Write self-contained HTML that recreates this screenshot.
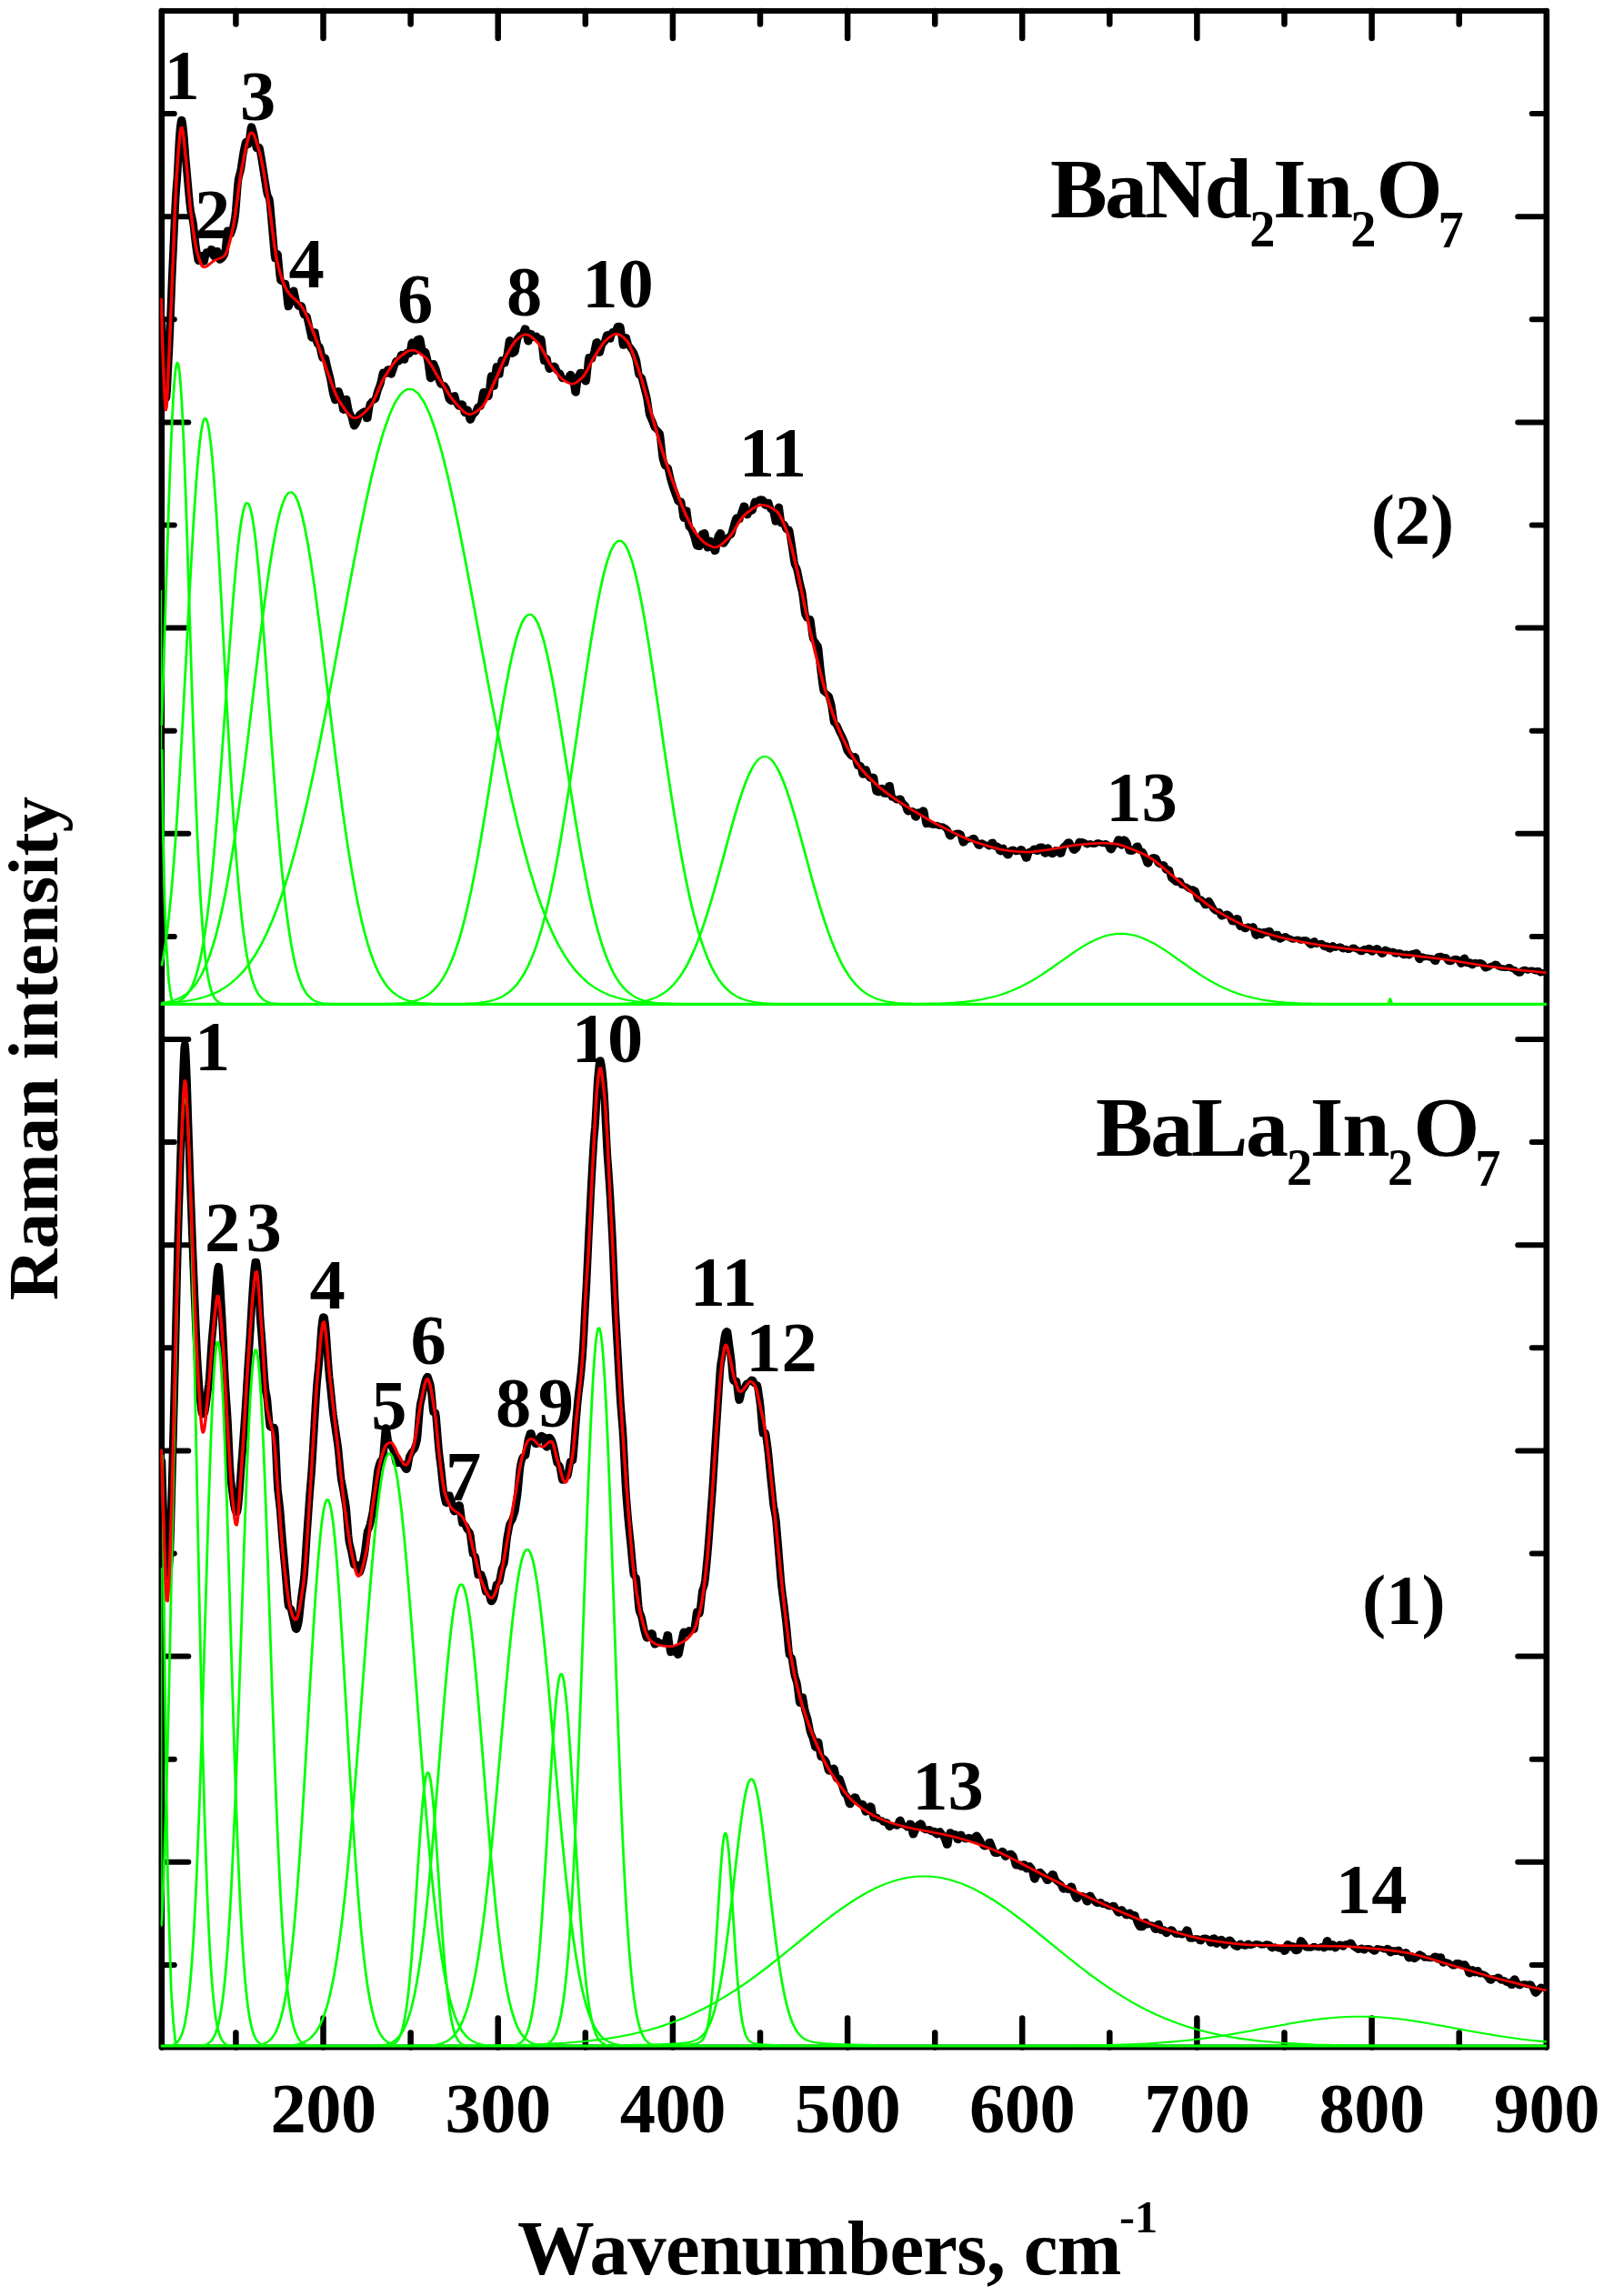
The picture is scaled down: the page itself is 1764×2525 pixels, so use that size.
<!DOCTYPE html>
<html lang="en"><head><meta charset="utf-8"><title>Raman spectra</title>
<style>html,body{margin:0;padding:0;background:#fff;overflow:hidden}svg{display:block}</style></head>
<body>
<svg width="1764" height="2525" viewBox="0 0 1764 2525">
<rect width="1764" height="2525" fill="#fff"/>
<defs><clipPath id="cp"><rect x="176.2" y="12.0" width="1526.2" height="2241.6"/></clipPath></defs>
<g stroke="#000" fill="none" stroke-linecap="round">
<path stroke-width="6" d="M177.8,12.0 H1700.8 M177.8,2251.6 H1700.8"/>
<path stroke-width="6.6" d="M177.8,12.0 V2251.6 M1700.8,12.0 V2251.6"/>
<path stroke-width="6.5" d="M259.4,12.0 V26.5 M259.4,2251.6 V2235.6 M355.5,12.0 V42.0 M355.5,2251.6 V2219.6 M451.6,12.0 V26.5 M451.6,2251.6 V2235.6 M547.7,12.0 V42.0 M547.7,2251.6 V2219.6 M643.8,12.0 V26.5 M643.8,2251.6 V2235.6 M739.9,12.0 V42.0 M739.9,2251.6 V2219.6 M836.0,12.0 V26.5 M836.0,2251.6 V2235.6 M932.1,12.0 V42.0 M932.1,2251.6 V2219.6 M1028.2,12.0 V26.5 M1028.2,2251.6 V2235.6 M1124.2,12.0 V42.0 M1124.2,2251.6 V2219.6 M1220.3,12.0 V26.5 M1220.3,2251.6 V2235.6 M1316.4,12.0 V42.0 M1316.4,2251.6 V2219.6 M1412.5,12.0 V26.5 M1412.5,2251.6 V2235.6 M1508.6,12.0 V42.0 M1508.6,2251.6 V2219.6 M1604.7,12.0 V26.5 M1604.7,2251.6 V2235.6"/>
<path stroke-width="6" d="M177.8,125.1 H191.8 M1700.8,125.1 H1684.7 M177.8,238.2 H207.3 M1700.8,238.2 H1669.2 M177.8,351.3 H191.8 M1700.8,351.3 H1684.7 M177.8,464.4 H207.3 M1700.8,464.4 H1669.2 M177.8,577.5 H191.8 M1700.8,577.5 H1684.7 M177.8,690.6 H207.3 M1700.8,690.6 H1669.2 M177.8,803.7 H191.8 M1700.8,803.7 H1684.7 M177.8,916.8 H207.3 M1700.8,916.8 H1669.2 M177.8,1029.9 H191.8 M1700.8,1029.9 H1684.7 M177.8,1143.0 H207.3 M1700.8,1143.0 H1669.2 M177.8,1256.1 H191.8 M1700.8,1256.1 H1684.7 M177.8,1369.2 H207.3 M1700.8,1369.2 H1669.2 M177.8,1482.3 H191.8 M1700.8,1482.3 H1684.7 M177.8,1595.4 H207.3 M1700.8,1595.4 H1669.2 M177.8,1708.5 H191.8 M1700.8,1708.5 H1684.7 M177.8,1821.6 H207.3 M1700.8,1821.6 H1669.2 M177.8,1934.7 H191.8 M1700.8,1934.7 H1684.7 M177.8,2047.8 H207.3 M1700.8,2047.8 H1669.2 M177.8,2160.9 H191.8 M1700.8,2160.9 H1684.7"/>
</g>
<g clip-path="url(#cp)"><path transform="scale(1.33,1)" d="M133.83,355.7 L134.38,376.3 L134.92,393.5 L135.47,408.7 L136.02,423.4 L136.56,434.6 L137.11,439.1 L137.65,436.9 L138.20,427.2 L138.74,413.2 L139.29,398.4 L139.83,384.6 L140.38,368.8 L140.92,350.8 L141.47,331.7 L142.01,312.3 L142.56,294.8 L143.10,279.7 L143.65,263.5 L144.19,247.0 L144.74,231.4 L145.28,217.7 L145.83,206.4 L146.37,198.4 L146.92,186.5 L147.46,170.4 L148.01,156.7 L148.55,146.0 L149.10,138.6 L149.64,133.4 L150.19,131.0 L150.73,133.5 L151.28,138.6 L151.82,145.4 L152.37,153.8 L152.91,163.7 L153.46,173.5 L154.00,181.7 L154.55,189.4 L155.09,197.4 L155.64,205.7 L156.18,213.9 L156.73,221.6 L157.27,228.4 L157.82,233.3 L158.36,236.6 L158.91,239.8 L159.45,242.8 L160.00,247.4 L160.55,254.3 L161.09,260.9 L161.64,267.2 L162.18,272.9 L162.73,277.9 L163.27,282.5 L163.82,286.6 L164.36,287.8 L164.91,285.5 L165.45,283.0 L166.00,280.4 L166.54,280.2 L167.09,283.4 L167.63,286.3 L168.18,288.7 L168.72,288.5 L169.27,285.2 L169.81,281.8 L170.36,278.3 L170.90,276.6 L171.45,277.5 L171.99,278.3 L172.54,279.1 L173.08,278.8 L173.63,277.0 L174.17,275.2 L174.72,273.3 L175.26,273.5 L175.81,276.5 L176.35,279.5 L176.90,282.6 L177.44,283.3 L177.99,280.7 L178.53,278.0 L179.08,275.5 L179.62,275.3 L180.17,278.4 L180.71,281.6 L181.26,284.8 L181.80,286.4 L182.35,285.9 L182.89,285.3 L183.44,284.7 L183.98,283.9 L184.53,282.6 L185.08,281.4 L185.62,280.0 L186.17,276.5 L186.71,270.1 L187.26,263.3 L187.80,256.1 L188.35,252.7 L188.89,254.7 L189.44,256.5 L189.98,258.2 L190.53,258.3 L191.07,256.4 L191.62,254.4 L192.16,252.3 L192.71,250.0 L193.25,246.6 L193.80,242.7 L194.34,238.3 L194.89,231.9 L195.43,222.7 L195.98,213.4 L196.52,203.9 L197.07,197.1 L197.61,194.0 L198.16,191.2 L198.70,188.8 L199.25,185.2 L199.79,180.1 L200.34,175.4 L200.88,170.5 L201.43,166.3 L201.97,162.9 L202.52,159.6 L203.06,156.4 L203.61,155.1 L204.15,156.3 L204.70,157.8 L205.24,159.6 L205.79,158.1 L206.33,151.8 L206.88,146.0 L207.42,140.7 L207.97,138.6 L208.52,140.8 L209.06,143.3 L209.61,146.2 L210.15,149.6 L210.70,153.5 L211.24,157.6 L211.79,161.9 L212.33,164.0 L212.88,162.9 L213.42,161.9 L213.97,161.0 L214.51,162.0 L215.06,165.6 L215.60,169.6 L216.15,173.9 L216.69,178.3 L217.24,182.7 L217.78,187.3 L218.33,192.1 L218.87,196.8 L219.42,201.2 L219.96,205.8 L220.51,210.3 L221.05,213.7 L221.60,215.4 L222.14,217.0 L222.69,218.6 L223.23,223.0 L223.78,231.1 L224.32,239.5 L224.87,247.9 L225.41,256.4 L225.96,264.7 L226.50,273.0 L227.05,281.1 L227.59,285.0 L228.14,283.1 L228.68,280.9 L229.23,278.2 L229.77,279.8 L230.32,288.0 L230.86,296.0 L231.41,303.8 L231.95,308.7 L232.50,309.4 L233.05,310.0 L233.59,310.5 L234.14,310.8 L234.68,311.0 L235.23,311.0 L235.77,311.0 L236.32,313.9 L236.86,321.0 L237.41,327.9 L237.95,334.8 L238.50,338.1 L239.04,336.4 L239.59,334.6 L240.13,332.7 L240.68,330.1 L241.22,326.6 L241.77,323.1 L242.31,319.5 L242.86,318.8 L243.40,322.2 L243.95,325.6 L244.49,329.0 L245.04,331.7 L245.58,333.4 L246.13,335.2 L246.67,337.0 L247.22,337.7 L247.76,336.9 L248.31,336.1 L248.85,335.4 L249.40,336.2 L249.94,339.1 L250.49,342.2 L251.03,345.3 L251.58,347.1 L252.12,346.9 L252.67,346.8 L253.21,346.7 L253.76,348.0 L254.30,351.2 L254.85,354.5 L255.39,357.8 L255.94,361.2 L256.48,364.6 L257.03,368.0 L257.58,371.5 L258.12,372.4 L258.67,369.8 L259.21,367.1 L259.76,364.5 L260.30,364.5 L260.85,368.3 L261.39,372.1 L261.94,376.0 L262.48,378.6 L263.03,379.3 L263.57,380.0 L264.12,380.8 L264.66,382.6 L265.21,386.0 L265.75,389.4 L266.30,392.8 L266.84,394.5 L267.39,393.9 L267.93,393.3 L268.48,392.6 L269.02,393.6 L269.57,396.8 L270.11,400.0 L270.66,403.2 L271.20,406.2 L271.75,409.0 L272.29,411.8 L272.84,414.6 L273.38,418.0 L273.93,422.2 L274.47,426.4 L275.02,430.6 L275.56,434.0 L276.11,436.3 L276.65,438.7 L277.20,440.9 L277.74,440.8 L278.29,437.4 L278.83,434.0 L279.38,430.5 L279.92,429.4 L280.47,431.7 L281.02,433.9 L281.56,436.1 L282.11,439.0 L282.65,443.0 L283.20,447.0 L283.74,451.0 L284.29,451.6 L284.83,447.4 L285.38,443.2 L285.92,438.9 L286.47,438.1 L287.01,442.1 L287.56,446.0 L288.10,449.9 L288.65,452.8 L289.19,454.2 L289.74,455.6 L290.28,456.9 L290.83,458.9 L291.37,462.0 L291.92,465.0 L292.46,467.9 L293.01,469.2 L293.55,468.1 L294.10,466.9 L294.64,465.6 L295.19,463.9 L295.73,461.7 L296.28,459.3 L296.82,457.0 L297.37,455.3 L297.91,454.8 L298.46,454.2 L299.00,453.5 L299.55,453.0 L300.09,452.6 L300.64,452.1 L301.18,451.7 L301.73,452.5 L302.27,455.3 L302.82,458.1 L303.36,460.9 L303.91,460.6 L304.45,455.9 L305.00,451.2 L305.55,446.5 L306.09,443.5 L306.64,442.8 L307.18,442.0 L307.73,441.0 L308.27,440.4 L308.82,440.4 L309.36,440.2 L309.91,440.0 L310.45,438.8 L311.00,436.3 L311.54,433.6 L312.09,431.0 L312.63,428.7 L313.18,426.8 L313.72,425.0 L314.27,423.2 L314.81,420.7 L315.36,417.2 L315.90,413.8 L316.45,410.4 L316.99,408.8 L317.54,409.8 L318.08,410.8 L318.63,411.9 L319.17,411.7 L319.72,409.7 L320.26,407.6 L320.81,405.6 L321.35,405.3 L321.90,407.5 L322.44,409.7 L322.99,411.9 L323.53,412.4 L324.08,410.3 L324.62,408.2 L325.17,406.2 L325.71,404.0 L326.26,401.7 L326.80,399.4 L327.35,397.2 L327.89,396.1 L328.44,396.8 L328.98,397.5 L329.53,398.3 L330.08,397.7 L330.62,395.0 L331.17,392.3 L331.71,389.7 L332.26,389.1 L332.80,391.5 L333.35,393.8 L333.89,396.2 L334.44,396.4 L334.98,393.7 L335.53,391.1 L336.07,388.4 L336.62,387.2 L337.16,388.1 L337.71,389.0 L338.25,389.9 L338.80,388.8 L339.34,384.7 L339.89,380.6 L340.43,376.6 L340.98,375.7 L341.52,379.2 L342.07,382.7 L342.61,386.3 L343.16,386.8 L343.70,382.8 L344.25,378.9 L344.79,375.0 L345.34,372.6 L345.88,372.3 L346.43,372.0 L346.97,371.8 L347.52,373.4 L348.06,377.5 L348.61,381.7 L349.15,385.8 L349.70,388.0 L350.24,387.3 L350.79,386.6 L351.33,386.0 L351.88,386.8 L352.42,389.7 L352.97,392.8 L353.52,395.8 L354.06,399.9 L354.61,405.2 L355.15,410.5 L355.70,415.9 L356.24,416.9 L356.79,411.7 L357.33,406.6 L357.88,401.5 L358.42,399.2 L358.97,400.9 L359.51,402.5 L360.06,404.2 L360.60,406.4 L361.15,409.4 L361.69,412.3 L362.24,415.2 L362.78,417.6 L363.33,419.3 L363.87,421.0 L364.42,422.7 L364.96,423.6 L365.51,423.4 L366.05,423.2 L366.60,423.0 L367.14,423.4 L367.69,424.5 L368.23,425.7 L368.78,426.8 L369.32,428.7 L369.87,431.7 L370.41,434.7 L370.96,437.7 L371.50,439.7 L372.05,440.4 L372.59,441.1 L373.14,441.8 L373.68,441.3 L374.23,439.1 L374.77,436.9 L375.32,434.6 L375.86,434.4 L376.41,437.1 L376.95,439.8 L377.50,442.6 L378.05,444.6 L378.59,445.6 L379.14,446.7 L379.68,447.7 L380.23,447.8 L380.77,446.4 L381.32,445.0 L381.86,443.6 L382.41,444.1 L382.95,447.4 L383.50,450.6 L384.04,453.8 L384.59,454.9 L385.13,453.2 L385.68,451.4 L386.22,449.5 L386.77,450.0 L387.31,453.8 L387.86,457.5 L388.40,461.2 L388.95,462.6 L389.49,461.0 L390.04,459.3 L390.58,457.5 L391.13,456.2 L391.67,455.7 L392.22,455.1 L392.76,454.5 L393.31,453.3 L393.85,451.5 L394.40,449.6 L394.94,447.7 L395.49,446.7 L396.03,447.0 L396.58,447.4 L397.12,447.7 L397.67,446.0 L398.21,441.6 L398.76,437.2 L399.30,432.6 L399.85,430.2 L400.39,430.8 L400.94,431.3 L401.48,431.8 L402.03,432.6 L402.58,434.1 L403.12,435.6 L403.67,437.0 L404.21,435.0 L404.76,428.3 L405.30,421.6 L405.85,414.8 L406.39,412.6 L406.94,416.9 L407.48,421.3 L408.03,425.7 L408.57,425.5 L409.12,418.6 L409.66,411.8 L410.21,404.9 L410.75,402.2 L411.30,405.7 L411.84,409.1 L412.39,412.5 L412.93,412.5 L413.48,407.5 L414.02,402.5 L414.57,397.5 L415.11,395.3 L415.66,397.0 L416.20,398.7 L416.75,400.5 L417.29,400.4 L417.84,397.6 L418.38,394.9 L418.93,392.2 L419.47,388.6 L420.02,383.9 L420.56,379.1 L421.11,374.3 L421.65,373.4 L422.20,378.0 L422.74,382.6 L423.29,387.3 L423.83,389.7 L424.38,389.1 L424.92,388.5 L425.47,387.9 L426.02,386.0 L426.56,382.0 L427.11,378.2 L427.65,374.4 L428.20,371.7 L428.74,370.7 L429.29,369.7 L429.83,368.7 L430.38,368.0 L430.92,367.7 L431.47,367.5 L432.01,367.3 L432.56,366.4 L433.10,364.4 L433.65,362.5 L434.19,360.6 L434.74,361.4 L435.28,365.8 L435.83,370.3 L436.37,374.9 L436.92,376.3 L437.46,373.2 L438.01,370.2 L438.55,367.2 L439.10,366.1 L439.64,367.7 L440.19,369.3 L440.73,371.0 L441.28,371.6 L441.82,370.7 L442.37,369.8 L442.91,368.9 L443.46,368.8 L444.00,369.9 L444.55,370.9 L445.09,372.1 L445.64,372.7 L446.18,372.4 L446.73,372.2 L447.27,372.0 L447.82,374.7 L448.36,381.3 L448.91,387.9 L449.45,394.5 L450.00,397.8 L450.55,396.3 L451.09,394.8 L451.64,393.3 L452.18,393.9 L452.73,397.6 L453.27,401.3 L453.82,404.9 L454.36,406.7 L454.91,405.9 L455.45,405.1 L456.00,404.2 L456.54,403.4 L457.09,402.9 L457.63,402.4 L458.18,401.9 L458.72,402.3 L459.27,404.0 L459.81,405.7 L460.36,407.3 L460.90,408.5 L461.45,408.8 L461.99,409.2 L462.54,409.5 L463.08,410.5 L463.63,412.4 L464.17,414.2 L464.72,416.0 L465.26,417.0 L465.81,416.8 L466.35,416.5 L466.90,416.1 L467.44,416.2 L467.99,416.8 L468.53,417.4 L469.08,417.9 L469.62,417.5 L470.17,415.7 L470.71,413.8 L471.26,411.8 L471.80,411.2 L472.35,412.5 L472.89,413.7 L473.44,414.8 L473.98,417.4 L474.53,422.2 L475.08,427.0 L475.62,431.7 L476.17,432.3 L476.71,427.1 L477.26,421.9 L477.80,416.6 L478.35,413.0 L478.89,411.6 L479.44,410.2 L479.98,408.9 L480.53,409.0 L481.07,411.2 L481.62,413.3 L482.16,415.4 L482.71,417.0 L483.25,418.2 L483.80,419.2 L484.34,420.2 L484.89,417.8 L485.43,410.6 L485.98,403.4 L486.52,396.1 L487.07,392.3 L487.61,393.4 L488.16,394.5 L488.70,395.7 L489.25,395.4 L489.79,393.2 L490.34,391.0 L490.88,388.9 L491.43,386.3 L491.97,382.8 L492.52,379.3 L493.06,375.8 L493.61,375.4 L494.15,379.4 L494.70,383.4 L495.24,387.5 L495.79,388.7 L496.33,386.0 L496.88,383.3 L497.42,380.7 L497.97,378.8 L498.52,378.0 L499.06,377.3 L499.61,376.6 L500.15,375.2 L500.70,372.7 L501.24,370.3 L501.79,367.9 L502.33,367.4 L502.88,369.3 L503.42,371.3 L503.97,373.3 L504.51,373.4 L505.06,370.7 L505.60,368.2 L506.15,365.6 L506.69,364.3 L507.24,364.7 L507.78,365.3 L508.33,365.8 L508.87,365.3 L509.42,363.1 L509.96,361.1 L510.51,359.1 L511.05,357.9 L511.60,357.9 L512.14,358.0 L512.69,358.2 L513.23,360.7 L513.78,366.6 L514.32,372.5 L514.87,378.5 L515.41,380.6 L515.96,377.4 L516.50,374.3 L517.05,371.1 L517.59,370.3 L518.14,372.7 L518.68,375.3 L519.23,378.0 L519.77,379.9 L520.32,380.6 L520.86,381.5 L521.41,382.5 L521.95,383.5 L522.50,384.5 L523.05,385.6 L523.59,386.7 L524.14,388.2 L524.68,390.2 L525.23,392.1 L525.77,394.0 L526.32,396.9 L526.86,401.3 L527.41,405.7 L527.95,410.2 L528.50,413.0 L529.04,413.4 L529.59,413.8 L530.13,414.2 L530.68,415.7 L531.22,418.4 L531.77,421.2 L532.31,424.0 L532.86,426.8 L533.40,429.6 L533.95,432.5 L534.49,435.3 L535.04,438.9 L535.58,443.7 L536.13,448.5 L536.67,453.4 L537.22,456.9 L537.76,458.5 L538.31,460.1 L538.85,461.7 L539.40,463.4 L539.94,465.4 L540.49,467.4 L541.03,469.4 L541.58,470.8 L542.12,471.5 L542.67,472.1 L543.21,472.7 L543.76,473.5 L544.30,474.3 L544.85,475.2 L545.39,476.0 L545.94,479.4 L546.48,486.3 L547.03,493.2 L547.58,500.1 L548.12,505.1 L548.67,507.4 L549.21,509.7 L549.76,512.0 L550.30,513.4 L550.85,513.5 L551.39,513.5 L551.94,513.5 L552.48,514.9 L553.03,518.3 L553.57,521.6 L554.12,524.9 L554.66,527.9 L555.21,530.3 L555.75,532.7 L556.30,535.1 L556.84,537.3 L557.39,539.3 L557.93,541.3 L558.48,543.3 L559.02,545.3 L559.57,547.3 L560.11,549.4 L560.66,551.5 L561.20,552.4 L561.75,551.8 L562.29,551.2 L562.84,550.6 L563.38,552.5 L563.93,558.0 L564.47,563.4 L565.02,568.8 L565.56,570.6 L566.11,567.2 L566.65,563.9 L567.20,560.5 L567.74,560.6 L568.29,566.0 L568.83,571.3 L569.38,576.5 L569.92,579.9 L570.47,580.6 L571.02,581.4 L571.56,582.0 L572.11,583.2 L572.65,585.2 L573.20,587.1 L573.74,588.9 L574.29,591.2 L574.83,594.1 L575.38,596.9 L575.92,599.6 L576.47,601.3 L577.01,601.5 L577.56,601.6 L578.10,601.8 L578.65,600.3 L579.19,596.4 L579.74,592.6 L580.28,588.7 L580.83,586.3 L581.37,586.0 L581.92,585.7 L582.46,585.3 L583.01,587.1 L583.55,592.0 L584.10,596.9 L584.64,601.7 L585.19,603.3 L585.73,600.5 L586.28,597.6 L586.82,594.8 L587.37,594.0 L587.91,596.1 L588.46,598.1 L589.00,600.1 L589.55,602.0 L590.09,603.6 L590.64,605.3 L591.18,606.8 L591.73,605.9 L592.27,601.4 L592.82,596.9 L593.36,592.3 L593.91,589.1 L594.45,587.9 L595.00,586.7 L595.55,585.3 L596.09,586.1 L596.64,589.7 L597.18,593.2 L597.73,596.8 L598.27,598.4 L598.82,597.4 L599.36,596.3 L599.91,595.2 L600.45,594.1 L601.00,592.9 L601.54,591.7 L602.09,590.5 L602.63,589.7 L603.18,589.4 L603.72,589.1 L604.27,588.7 L604.81,587.3 L605.36,584.7 L605.90,582.0 L606.45,579.3 L606.99,576.7 L607.54,574.3 L608.08,572.0 L608.63,569.6 L609.17,568.7 L609.72,569.9 L610.26,571.1 L610.81,572.3 L611.35,572.0 L611.90,569.4 L612.44,566.8 L612.99,564.3 L613.53,562.0 L614.08,559.8 L614.62,557.7 L615.17,555.7 L615.71,555.9 L616.26,559.1 L616.80,562.5 L617.35,565.8 L617.89,567.1 L618.44,565.5 L618.98,563.9 L619.53,562.3 L620.08,561.5 L620.62,561.8 L621.17,562.2 L621.71,562.5 L622.26,561.5 L622.80,558.4 L623.35,555.4 L623.89,552.5 L624.44,550.8 L624.98,551.0 L625.53,551.3 L626.07,551.5 L626.62,551.3 L627.16,550.5 L627.71,549.6 L628.25,548.8 L628.80,548.4 L629.34,548.5 L629.89,548.6 L630.43,548.8 L630.98,549.7 L631.52,551.8 L632.07,553.9 L632.61,556.0 L633.16,556.6 L633.70,555.0 L634.25,553.4 L634.79,551.9 L635.34,552.0 L635.88,554.4 L636.43,556.8 L636.97,559.2 L637.52,560.8 L638.06,561.2 L638.61,561.6 L639.15,562.0 L639.70,563.7 L640.24,567.2 L640.79,570.8 L641.33,574.4 L641.88,574.1 L642.42,568.5 L642.97,563.1 L643.52,557.8 L644.06,556.9 L644.61,562.2 L645.15,567.6 L645.70,573.1 L646.24,576.2 L646.79,576.0 L647.33,575.8 L647.88,575.7 L648.42,576.4 L648.97,578.3 L649.51,580.2 L650.06,582.1 L650.60,582.9 L651.15,582.4 L651.69,582.1 L652.24,581.9 L652.78,583.6 L653.33,588.0 L653.87,592.5 L654.42,597.0 L654.96,601.8 L655.51,606.8 L656.05,611.9 L656.60,616.9 L657.14,620.6 L657.69,622.2 L658.23,623.7 L658.78,625.3 L659.32,627.7 L659.87,631.2 L660.41,634.8 L660.96,638.4 L661.50,641.7 L662.05,644.6 L662.59,647.4 L663.14,650.4 L663.68,654.5 L664.23,660.4 L664.77,666.3 L665.32,672.2 L665.86,676.2 L666.41,677.6 L666.95,678.9 L667.50,680.3 L668.05,680.9 L668.59,680.7 L669.14,680.4 L669.68,680.2 L670.23,682.4 L670.77,688.0 L671.32,693.6 L671.86,699.1 L672.41,702.8 L672.95,703.9 L673.50,705.0 L674.04,706.1 L674.59,707.1 L675.13,708.1 L675.68,709.1 L676.22,710.0 L676.77,713.5 L677.31,720.5 L677.86,727.5 L678.40,734.4 L678.95,740.8 L679.49,746.3 L680.04,751.8 L680.58,757.2 L681.13,760.6 L681.67,761.2 L682.22,761.8 L682.76,762.3 L683.31,762.9 L683.85,763.4 L684.40,764.0 L684.94,764.5 L685.49,765.8 L686.03,768.4 L686.58,771.0 L687.12,773.5 L687.67,777.0 L688.21,782.1 L688.76,787.1 L689.30,792.1 L689.85,795.2 L690.39,795.8 L690.94,796.4 L691.48,796.9 L692.03,797.9 L692.58,799.6 L693.12,801.2 L693.67,802.8 L694.21,804.3 L694.76,805.8 L695.30,807.3 L695.85,808.7 L696.39,810.2 L696.94,811.9 L697.48,813.5 L698.03,815.1 L698.57,817.1 L699.12,819.6 L699.66,822.0 L700.21,824.4 L700.75,826.3 L701.30,827.3 L701.84,828.3 L702.39,829.2 L702.93,830.1 L703.48,831.0 L704.02,831.7 L704.57,832.5 L705.11,832.8 L705.66,832.3 L706.20,831.8 L706.75,831.3 L707.29,832.2 L707.84,835.3 L708.38,838.4 L708.93,841.4 L709.47,842.9 L710.02,842.4 L710.56,841.8 L711.11,841.2 L711.65,842.1 L712.20,845.3 L712.74,848.5 L713.29,851.6 L713.83,852.5 L714.38,850.3 L714.92,848.2 L715.47,846.0 L716.02,845.6 L716.56,847.8 L717.11,850.0 L717.65,852.2 L718.20,853.9 L718.74,854.8 L719.29,855.7 L719.83,856.6 L720.38,856.7 L720.92,855.7 L721.47,854.8 L722.01,853.8 L722.56,855.1 L723.10,859.6 L723.65,864.1 L724.19,868.5 L724.74,871.2 L725.28,871.5 L725.83,871.8 L726.37,872.1 L726.92,871.6 L727.46,869.8 L728.01,868.0 L728.55,866.3 L729.10,866.1 L729.64,868.2 L730.19,870.3 L730.73,872.4 L731.28,873.6 L731.82,873.7 L732.37,873.8 L732.91,873.8 L733.46,872.6 L734.00,869.5 L734.55,866.4 L735.09,863.3 L735.64,863.2 L736.18,867.2 L736.73,871.2 L737.27,875.2 L737.82,877.6 L738.36,877.7 L738.91,877.8 L739.45,878.0 L740.00,878.3 L740.55,879.0 L741.09,879.7 L741.64,880.3 L742.18,880.3 L742.73,879.4 L743.27,878.5 L743.82,877.6 L744.36,877.7 L744.91,879.1 L745.45,880.6 L746.00,882.0 L746.54,883.1 L747.09,883.6 L747.63,884.2 L748.18,884.8 L748.72,886.0 L749.27,888.0 L749.81,890.1 L750.36,892.1 L750.90,893.1 L751.45,892.6 L751.99,892.0 L752.54,891.4 L753.08,891.1 L753.63,891.2 L754.17,891.2 L754.72,891.3 L755.26,892.2 L755.81,894.4 L756.35,896.7 L756.90,898.9 L757.44,899.4 L757.99,897.4 L758.53,895.4 L759.08,893.4 L759.62,892.5 L760.17,893.1 L760.71,893.8 L761.26,894.4 L761.80,894.2 L762.35,893.0 L762.89,891.8 L763.44,890.6 L763.98,891.7 L764.53,896.0 L765.08,900.3 L765.62,904.6 L766.17,907.0 L766.71,906.7 L767.26,906.5 L767.80,906.2 L768.35,906.1 L768.89,906.5 L769.44,906.8 L769.98,907.2 L770.53,907.4 L771.07,907.6 L771.62,907.7 L772.16,907.8 L772.71,907.8 L773.25,907.5 L773.80,907.3 L774.34,907.0 L774.89,907.1 L775.43,907.6 L775.98,908.1 L776.52,908.6 L777.07,908.8 L777.61,908.7 L778.16,908.5 L778.70,908.4 L779.25,908.4 L779.79,908.9 L780.34,909.3 L780.88,909.7 L781.43,910.2 L781.97,910.9 L782.52,911.5 L783.06,912.2 L783.61,913.4 L784.15,915.4 L784.70,917.4 L785.24,919.3 L785.79,920.2 L786.33,919.5 L786.88,918.8 L787.42,918.1 L787.97,917.6 L788.52,917.2 L789.06,916.9 L789.61,916.6 L790.15,916.3 L790.70,916.1 L791.24,915.9 L791.79,915.6 L792.33,915.6 L792.88,915.9 L793.42,916.2 L793.97,916.5 L794.51,917.8 L795.06,920.6 L795.60,923.3 L796.15,926.1 L796.69,927.4 L797.24,926.5 L797.78,925.6 L798.33,924.7 L798.87,924.1 L799.42,924.0 L799.96,923.8 L800.51,923.6 L801.05,923.4 L801.60,923.3 L802.14,923.1 L802.69,923.0 L803.23,922.6 L803.78,922.1 L804.32,921.5 L804.87,921.0 L805.41,921.2 L805.96,922.6 L806.50,924.0 L807.05,925.3 L807.59,926.6 L808.14,927.9 L808.68,929.1 L809.23,930.4 L809.77,930.6 L810.32,929.5 L810.86,928.4 L811.41,927.2 L811.95,926.7 L812.50,927.2 L813.05,927.6 L813.59,928.0 L814.14,928.3 L814.68,928.5 L815.23,928.8 L815.77,929.0 L816.32,929.4 L816.86,929.9 L817.41,930.5 L817.95,931.1 L818.50,930.7 L819.04,929.1 L819.59,927.5 L820.13,925.9 L820.68,925.7 L821.22,927.3 L821.77,929.0 L822.31,930.6 L822.86,931.4 L823.40,930.9 L823.95,930.4 L824.49,929.9 L825.04,930.5 L825.58,932.5 L826.13,934.5 L826.67,936.5 L827.22,937.0 L827.76,935.4 L828.31,933.8 L828.85,932.2 L829.40,931.9 L829.94,933.5 L830.49,935.0 L831.03,936.6 L831.58,937.9 L832.12,939.0 L832.67,940.1 L833.21,941.2 L833.76,941.1 L834.30,939.3 L834.85,937.4 L835.39,935.6 L835.94,934.4 L836.48,934.2 L837.03,933.9 L837.58,933.7 L838.12,933.9 L838.67,934.8 L839.21,935.7 L839.76,936.6 L840.30,937.1 L840.85,936.9 L841.39,936.8 L841.94,936.7 L842.48,936.2 L843.03,935.2 L843.57,934.2 L844.12,933.2 L844.66,933.3 L845.21,934.8 L845.75,936.4 L846.30,937.9 L846.84,939.5 L847.39,941.2 L847.93,942.8 L848.48,944.5 L849.02,944.4 L849.57,942.1 L850.11,939.7 L850.66,937.3 L851.20,935.9 L851.75,935.9 L852.29,935.9 L852.84,936.0 L853.38,935.6 L853.93,934.6 L854.47,933.7 L855.02,932.7 L855.56,932.7 L856.11,934.0 L856.65,935.4 L857.20,936.7 L857.74,936.8 L858.29,935.0 L858.83,933.3 L859.38,931.6 L859.92,930.6 L860.47,930.6 L861.02,930.6 L861.56,930.7 L862.11,931.7 L862.65,934.1 L863.20,936.5 L863.74,938.9 L864.29,939.4 L864.83,937.0 L865.38,934.6 L865.92,932.2 L866.47,931.6 L867.01,933.6 L867.56,935.6 L868.10,937.5 L868.65,938.8 L869.19,939.2 L869.74,939.5 L870.28,939.9 L870.83,939.5 L871.37,938.0 L871.92,936.6 L872.46,935.1 L873.01,934.3 L873.55,934.5 L874.10,934.7 L874.64,934.9 L875.19,935.5 L875.73,936.9 L876.28,938.2 L876.82,939.6 L877.37,939.4 L877.91,937.0 L878.46,934.6 L879.00,932.2 L879.55,930.5 L880.09,930.0 L880.64,929.4 L881.18,928.9 L881.73,928.2 L882.27,927.2 L882.82,926.3 L883.36,925.4 L883.91,925.4 L884.45,926.7 L885.00,928.1 L885.55,929.5 L886.09,930.9 L886.64,932.3 L887.18,933.7 L887.73,935.2 L888.27,935.7 L888.82,935.1 L889.36,934.4 L889.91,933.8 L890.45,932.6 L891.00,930.5 L891.54,928.4 L892.09,926.3 L892.63,925.0 L893.18,925.1 L893.72,925.1 L894.27,925.1 L894.81,925.2 L895.36,925.5 L895.90,925.8 L896.45,926.2 L896.99,926.7 L897.54,927.4 L898.08,928.2 L898.63,929.0 L899.17,929.2 L899.72,928.6 L900.26,928.0 L900.81,927.4 L901.35,927.2 L901.90,927.6 L902.44,928.0 L902.99,928.4 L903.53,928.7 L904.08,928.7 L904.62,928.8 L905.17,928.8 L905.71,928.5 L906.26,927.9 L906.80,927.2 L907.35,926.5 L907.89,926.2 L908.44,926.5 L908.98,926.7 L909.53,927.0 L910.08,927.3 L910.62,927.5 L911.17,927.8 L911.71,928.0 L912.26,928.1 L912.80,927.8 L913.35,927.5 L913.89,927.2 L914.44,927.3 L914.98,927.9 L915.53,928.6 L916.07,929.2 L916.62,930.2 L917.16,931.7 L917.71,933.2 L918.25,934.7 L918.80,935.1 L919.34,933.7 L919.89,932.4 L920.43,931.1 L920.98,930.1 L921.52,929.6 L922.07,929.1 L922.61,928.6 L923.16,927.6 L923.70,925.9 L924.25,924.2 L924.79,922.5 L925.34,922.5 L925.88,925.0 L926.43,927.4 L926.97,929.8 L927.52,930.4 L928.06,928.1 L928.61,925.9 L929.15,923.7 L929.70,922.7 L930.24,923.6 L930.79,924.4 L931.33,925.3 L931.88,926.9 L932.42,929.6 L932.97,932.2 L933.52,934.9 L934.06,936.5 L934.61,936.6 L935.15,936.7 L935.70,936.8 L936.24,936.6 L936.79,936.0 L937.33,935.4 L937.88,934.7 L938.42,933.8 L938.97,932.5 L939.51,931.1 L940.06,929.8 L940.60,929.7 L941.15,931.5 L941.69,933.2 L942.24,934.9 L942.78,935.9 L943.33,935.9 L943.87,936.0 L944.42,936.0 L944.96,936.7 L945.51,938.4 L946.05,940.2 L946.60,941.9 L947.14,943.8 L947.69,945.8 L948.23,947.9 L948.78,949.9 L949.32,950.4 L949.87,948.7 L950.41,947.1 L950.96,945.4 L951.50,944.2 L952.05,943.6 L952.59,943.1 L953.14,942.6 L953.68,942.3 L954.23,942.5 L954.77,942.6 L955.32,942.8 L955.86,943.6 L956.41,945.2 L956.95,946.9 L957.50,948.7 L958.05,949.9 L958.59,950.3 L959.14,950.8 L959.68,951.3 L960.23,951.4 L960.77,951.1 L961.32,950.7 L961.86,950.4 L962.41,951.0 L962.95,952.8 L963.50,954.7 L964.04,956.6 L964.59,957.4 L965.13,956.8 L965.68,956.2 L966.22,955.6 L966.77,956.4 L967.31,959.2 L967.86,962.0 L968.40,964.8 L968.95,966.6 L969.49,967.2 L970.04,967.7 L970.58,968.3 L971.13,968.9 L971.67,969.5 L972.22,970.2 L972.76,970.8 L973.31,970.8 L973.85,970.0 L974.40,969.1 L974.94,968.3 L975.49,968.5 L976.03,970.0 L976.58,971.6 L977.12,973.2 L977.67,974.1 L978.21,974.1 L978.76,974.2 L979.30,974.2 L979.85,974.4 L980.39,974.8 L980.94,975.2 L981.48,975.6 L982.03,976.1 L982.58,976.8 L983.12,977.4 L983.67,978.1 L984.21,978.4 L984.76,978.1 L985.30,977.8 L985.85,977.5 L986.39,977.6 L986.94,978.0 L987.48,978.5 L988.03,978.9 L988.57,980.3 L989.12,982.8 L989.66,985.4 L990.21,988.0 L990.75,989.3 L991.30,989.0 L991.84,988.7 L992.39,988.4 L992.93,988.6 L993.48,989.5 L994.02,990.5 L994.57,991.4 L995.11,992.4 L995.66,993.6 L996.20,994.9 L996.75,996.1 L997.29,996.0 L997.84,994.2 L998.38,992.4 L998.93,990.6 L999.47,990.1 L1000.02,991.4 L1000.56,992.8 L1001.11,994.1 L1001.65,995.4 L1002.20,996.7 L1002.74,998.1 L1003.29,999.4 L1003.83,1000.4 L1004.38,1001.0 L1004.92,1001.7 L1005.47,1002.3 L1006.02,1002.6 L1006.56,1002.5 L1007.11,1002.3 L1007.65,1002.1 L1008.20,1002.6 L1008.74,1004.2 L1009.29,1005.8 L1009.83,1007.4 L1010.38,1008.2 L1010.92,1007.9 L1011.47,1007.7 L1012.01,1007.4 L1012.56,1007.0 L1013.10,1006.2 L1013.65,1005.5 L1014.19,1004.7 L1014.74,1004.6 L1015.28,1005.2 L1015.83,1005.8 L1016.37,1006.5 L1016.92,1007.6 L1017.46,1009.4 L1018.01,1011.1 L1018.55,1012.9 L1019.10,1014.0 L1019.64,1014.1 L1020.19,1014.2 L1020.73,1014.3 L1021.28,1013.7 L1021.82,1012.2 L1022.37,1010.7 L1022.91,1009.2 L1023.46,1009.5 L1024.00,1012.5 L1024.55,1015.4 L1025.09,1018.2 L1025.64,1019.8 L1026.18,1019.6 L1026.73,1019.3 L1027.27,1019.0 L1027.82,1019.3 L1028.36,1020.2 L1028.91,1021.1 L1029.45,1021.9 L1030.00,1022.0 L1030.55,1021.0 L1031.09,1020.0 L1031.64,1018.9 L1032.18,1018.5 L1032.73,1018.8 L1033.27,1019.2 L1033.82,1019.5 L1034.36,1019.6 L1034.91,1019.2 L1035.45,1018.9 L1036.00,1018.5 L1036.54,1019.6 L1037.09,1022.6 L1037.63,1025.6 L1038.18,1028.6 L1038.72,1029.6 L1039.27,1027.9 L1039.81,1026.1 L1040.36,1024.3 L1040.90,1023.9 L1041.45,1025.4 L1041.99,1027.0 L1042.54,1028.5 L1043.08,1028.8 L1043.63,1027.4 L1044.17,1026.0 L1044.72,1024.6 L1045.26,1024.1 L1045.81,1024.9 L1046.35,1025.7 L1046.90,1026.5 L1047.44,1026.5 L1047.99,1025.4 L1048.53,1024.3 L1049.08,1023.1 L1049.62,1023.0 L1050.17,1024.1 L1050.71,1025.3 L1051.26,1026.4 L1051.80,1027.6 L1052.35,1028.8 L1052.89,1030.0 L1053.44,1031.2 L1053.98,1031.3 L1054.53,1029.8 L1055.08,1028.4 L1055.62,1027.0 L1056.17,1026.9 L1056.71,1028.8 L1057.26,1030.6 L1057.80,1032.5 L1058.35,1033.4 L1058.89,1033.1 L1059.44,1032.7 L1059.98,1032.4 L1060.53,1031.8 L1061.07,1031.0 L1061.62,1030.2 L1062.16,1029.4 L1062.71,1029.2 L1063.25,1029.7 L1063.80,1030.3 L1064.34,1030.8 L1064.89,1031.2 L1065.43,1031.4 L1065.98,1031.6 L1066.52,1031.8 L1067.07,1032.1 L1067.61,1032.6 L1068.16,1033.0 L1068.70,1033.4 L1069.25,1033.6 L1069.79,1033.4 L1070.34,1033.3 L1070.88,1033.1 L1071.43,1032.9 L1071.97,1032.9 L1072.52,1032.8 L1073.06,1032.8 L1073.61,1032.9 L1074.15,1033.5 L1074.70,1034.0 L1075.24,1034.5 L1075.79,1034.6 L1076.33,1034.3 L1076.88,1033.9 L1077.42,1033.5 L1077.97,1033.3 L1078.52,1033.3 L1079.06,1033.2 L1079.61,1033.2 L1080.15,1033.5 L1080.70,1034.5 L1081.24,1035.5 L1081.79,1036.5 L1082.33,1037.4 L1082.88,1038.2 L1083.42,1038.9 L1083.97,1039.7 L1084.51,1039.5 L1085.06,1038.0 L1085.60,1036.5 L1086.15,1034.9 L1086.69,1034.5 L1087.24,1035.7 L1087.78,1036.9 L1088.33,1038.0 L1088.87,1038.6 L1089.42,1038.2 L1089.96,1037.9 L1090.51,1037.6 L1091.05,1037.3 L1091.60,1037.2 L1092.14,1037.1 L1092.69,1037.0 L1093.23,1037.5 L1093.78,1038.9 L1094.32,1040.2 L1094.87,1041.6 L1095.41,1042.0 L1095.96,1041.2 L1096.50,1040.4 L1097.05,1039.5 L1097.59,1039.7 L1098.14,1041.1 L1098.68,1042.6 L1099.23,1044.0 L1099.77,1044.3 L1100.32,1042.9 L1100.86,1041.4 L1101.41,1040.0 L1101.95,1039.5 L1102.50,1040.4 L1103.05,1041.3 L1103.59,1042.2 L1104.14,1042.6 L1104.68,1042.2 L1105.23,1041.9 L1105.77,1041.6 L1106.32,1041.3 L1106.86,1041.1 L1107.41,1040.8 L1107.95,1040.5 L1108.50,1040.8 L1109.04,1041.8 L1109.59,1042.8 L1110.13,1043.8 L1110.68,1044.2 L1111.22,1043.8 L1111.77,1043.4 L1112.31,1042.9 L1112.86,1043.0 L1113.40,1043.5 L1113.95,1044.1 L1114.49,1044.7 L1115.04,1044.9 L1115.58,1044.6 L1116.13,1044.2 L1116.67,1043.9 L1117.22,1043.4 L1117.76,1042.8 L1118.31,1042.2 L1118.85,1041.6 L1119.40,1041.6 L1119.94,1042.3 L1120.49,1043.0 L1121.03,1043.7 L1121.58,1044.2 L1122.12,1044.4 L1122.67,1044.6 L1123.21,1044.8 L1123.76,1045.1 L1124.30,1045.8 L1124.85,1046.5 L1125.39,1047.1 L1125.94,1047.1 L1126.48,1045.9 L1127.03,1044.8 L1127.58,1043.6 L1128.12,1043.2 L1128.67,1043.9 L1129.21,1044.5 L1129.76,1045.1 L1130.30,1045.1 L1130.85,1044.1 L1131.39,1043.0 L1131.94,1042.0 L1132.48,1042.1 L1133.03,1043.7 L1133.57,1045.3 L1134.12,1046.9 L1134.66,1047.4 L1135.21,1046.4 L1135.75,1045.3 L1136.30,1044.3 L1136.84,1043.5 L1137.39,1043.1 L1137.93,1042.7 L1138.48,1042.3 L1139.02,1042.6 L1139.57,1043.8 L1140.11,1045.0 L1140.66,1046.2 L1141.20,1047.2 L1141.75,1048.0 L1142.29,1048.9 L1142.84,1049.7 L1143.38,1049.5 L1143.93,1047.9 L1144.47,1046.3 L1145.02,1044.7 L1145.56,1043.9 L1146.11,1044.2 L1146.65,1044.6 L1147.20,1044.9 L1147.74,1045.3 L1148.29,1045.6 L1148.83,1045.9 L1149.38,1046.2 L1149.92,1046.3 L1150.47,1046.1 L1151.02,1045.9 L1151.56,1045.8 L1152.11,1046.1 L1152.65,1047.1 L1153.20,1048.2 L1153.74,1049.2 L1154.29,1049.5 L1154.83,1048.9 L1155.38,1048.2 L1155.92,1047.5 L1156.47,1047.2 L1157.01,1047.3 L1157.56,1047.5 L1158.10,1047.6 L1158.65,1048.0 L1159.19,1048.9 L1159.74,1049.8 L1160.28,1050.7 L1160.83,1051.0 L1161.37,1050.2 L1161.92,1049.4 L1162.46,1048.7 L1163.01,1048.6 L1163.55,1049.4 L1164.10,1050.2 L1164.64,1051.0 L1165.19,1051.2 L1165.73,1050.4 L1166.28,1049.6 L1166.82,1048.8 L1167.37,1048.3 L1167.91,1048.2 L1168.46,1048.2 L1169.00,1048.1 L1169.55,1047.9 L1170.09,1047.6 L1170.64,1047.3 L1171.18,1047.0 L1171.73,1047.8 L1172.27,1050.2 L1172.82,1052.6 L1173.36,1055.0 L1173.91,1055.8 L1174.45,1054.6 L1175.00,1053.3 L1175.55,1052.0 L1176.09,1051.5 L1176.64,1051.9 L1177.18,1052.3 L1177.73,1052.8 L1178.27,1053.0 L1178.82,1052.9 L1179.36,1052.8 L1179.91,1052.7 L1180.45,1052.8 L1181.00,1053.0 L1181.54,1053.2 L1182.09,1053.4 L1182.63,1053.5 L1183.18,1053.5 L1183.72,1053.5 L1184.27,1053.6 L1184.81,1054.1 L1185.36,1055.3 L1185.90,1056.5 L1186.45,1057.7 L1186.99,1057.8 L1187.54,1056.1 L1188.08,1054.4 L1188.63,1052.7 L1189.17,1051.6 L1189.72,1051.4 L1190.26,1051.1 L1190.81,1050.9 L1191.35,1051.0 L1191.90,1051.4 L1192.44,1051.8 L1192.99,1052.3 L1193.53,1052.5 L1194.08,1052.4 L1194.62,1052.3 L1195.17,1052.2 L1195.71,1052.7 L1196.26,1054.0 L1196.80,1055.4 L1197.35,1056.7 L1197.89,1057.6 L1198.44,1057.7 L1198.98,1057.9 L1199.53,1058.0 L1200.08,1057.7 L1200.62,1056.8 L1201.17,1055.8 L1201.71,1054.9 L1202.26,1054.3 L1202.80,1054.2 L1203.35,1054.0 L1203.89,1053.9 L1204.44,1054.1 L1204.98,1054.8 L1205.53,1055.6 L1206.07,1056.3 L1206.62,1057.2 L1207.16,1058.3 L1207.71,1059.5 L1208.25,1060.6 L1208.80,1060.3 L1209.34,1058.0 L1209.89,1055.6 L1210.43,1053.3 L1210.98,1052.8 L1211.52,1054.9 L1212.07,1056.9 L1212.61,1059.0 L1213.16,1059.9 L1213.70,1059.1 L1214.25,1058.3 L1214.79,1057.5 L1215.34,1057.5 L1215.88,1058.9 L1216.43,1060.2 L1216.97,1061.6 L1217.52,1061.9 L1218.06,1060.8 L1218.61,1059.7 L1219.15,1058.6 L1219.70,1058.2 L1220.24,1058.8 L1220.79,1059.3 L1221.33,1059.9 L1221.88,1060.0 L1222.42,1059.4 L1222.97,1058.8 L1223.52,1058.2 L1224.06,1058.1 L1224.61,1058.5 L1225.15,1058.9 L1225.70,1059.3 L1226.24,1060.2 L1226.79,1061.6 L1227.33,1063.0 L1227.88,1064.5 L1228.42,1065.2 L1228.97,1065.0 L1229.51,1064.8 L1230.06,1064.6 L1230.60,1064.2 L1231.15,1063.6 L1231.69,1063.0 L1232.24,1062.4 L1232.78,1062.0 L1233.33,1061.8 L1233.87,1061.7 L1234.42,1061.5 L1234.96,1061.2 L1235.51,1060.7 L1236.05,1060.3 L1236.60,1059.8 L1237.14,1059.9 L1237.69,1060.8 L1238.23,1061.7 L1238.78,1062.7 L1239.32,1063.3 L1239.87,1063.6 L1240.41,1063.9 L1240.96,1064.2 L1241.50,1064.4 L1242.05,1064.4 L1242.59,1064.5 L1243.14,1064.6 L1243.68,1064.6 L1244.23,1064.7 L1244.77,1064.8 L1245.32,1064.9 L1245.86,1064.7 L1246.41,1064.3 L1246.95,1063.8 L1247.50,1063.3 L1248.05,1063.3 L1248.59,1064.0 L1249.14,1064.6 L1249.68,1065.3 L1250.23,1065.7 L1250.77,1065.8 L1251.32,1065.9 L1251.86,1066.0 L1252.41,1066.4 L1252.95,1067.2 L1253.50,1068.0 L1254.04,1068.8 L1254.59,1069.4 L1255.13,1069.8 L1255.68,1070.2 L1256.22,1070.6 L1256.77,1070.4 L1257.31,1069.4 L1257.86,1068.4 L1258.40,1067.4 L1258.95,1066.7 L1259.49,1066.4 L1260.04,1066.2 L1260.58,1065.9 L1261.13,1066.0 L1261.67,1066.4 L1262.22,1066.9 L1262.76,1067.3 L1263.31,1067.5 L1263.85,1067.3 L1264.40,1067.1 L1264.94,1066.9 L1265.49,1066.7 L1266.03,1066.7 L1266.58,1066.7 L1267.12,1066.7 L1267.67,1066.9 L1268.21,1067.3 L1268.76,1067.8 L1269.30,1068.2 L1269.85,1068.3 L1270.39,1067.8 L1270.94,1067.4 L1271.48,1066.9 L1272.03,1067.1 L1272.58,1068.0 L1273.12,1068.9 L1273.67,1069.8 L1274.21,1070.3 L1274.76,1070.0 L1275.30,1069.6 L1275.85,1069.3 L1276.39,1069.3 L1276.94,1069.5 L1277.48,1069.8 L1278.03,1070.0 L1278.57,1070.1" fill="none" stroke="#000" stroke-width="6.4" stroke-linejoin="round" stroke-linecap="round"/></g>
<g clip-path="url(#cp)"><path transform="scale(1.33,1)" d="M133.83,1606.6 L134.38,1632.1 L134.92,1654.1 L135.47,1671.4 L136.02,1686.4 L136.56,1703.2 L137.11,1718.2 L137.65,1727.3 L138.20,1734.9 L138.74,1734.9 L139.29,1729.5 L139.83,1722.0 L140.38,1710.5 L140.92,1692.4 L141.47,1667.2 L142.01,1639.7 L142.56,1612.0 L143.10,1585.6 L143.65,1558.0 L144.19,1530.1 L144.74,1499.8 L145.28,1466.6 L145.83,1434.6 L146.37,1404.4 L146.92,1376.0 L147.46,1350.4 L148.01,1325.8 L148.55,1303.6 L149.10,1278.3 L149.64,1254.8 L150.19,1231.9 L150.73,1209.0 L151.28,1187.0 L151.82,1167.3 L152.37,1151.8 L152.91,1148.1 L153.46,1155.1 L154.00,1169.4 L154.55,1188.3 L155.09,1210.2 L155.64,1233.3 L156.18,1255.6 L156.73,1277.1 L157.27,1299.4 L157.82,1318.6 L158.36,1338.1 L158.91,1357.8 L159.45,1376.9 L160.00,1395.0 L160.55,1413.1 L161.09,1431.5 L161.64,1449.6 L162.18,1466.9 L162.73,1483.0 L163.27,1496.4 L163.82,1507.6 L164.36,1518.9 L164.91,1528.6 L165.45,1537.5 L166.00,1545.0 L166.54,1551.0 L167.09,1555.0 L167.63,1556.1 L168.18,1555.2 L168.72,1555.2 L169.27,1553.0 L169.81,1549.2 L170.36,1544.4 L170.90,1538.9 L171.45,1533.3 L171.99,1527.5 L172.54,1522.8 L173.08,1516.1 L173.63,1504.3 L174.17,1492.5 L174.72,1481.1 L175.26,1471.6 L175.81,1463.9 L176.35,1456.2 L176.90,1447.6 L177.44,1437.4 L177.99,1426.6 L178.53,1416.2 L179.08,1406.8 L179.62,1399.3 L180.17,1394.2 L180.71,1392.0 L181.26,1397.7 L181.80,1408.0 L182.35,1419.7 L182.89,1432.3 L183.44,1445.2 L183.98,1458.1 L184.53,1472.3 L185.08,1488.3 L185.62,1504.9 L186.17,1518.7 L186.71,1530.3 L187.26,1541.4 L187.80,1551.5 L188.35,1563.2 L188.89,1578.3 L189.44,1594.0 L189.98,1609.9 L190.53,1622.1 L191.07,1629.4 L191.62,1635.7 L192.16,1641.1 L192.71,1646.7 L193.25,1652.1 L193.80,1656.9 L194.34,1660.5 L194.89,1662.3 L195.43,1663.8 L195.98,1663.7 L196.52,1660.5 L197.07,1654.8 L197.61,1647.0 L198.16,1638.0 L198.70,1627.6 L199.25,1616.5 L199.79,1606.9 L200.34,1597.9 L200.88,1588.0 L201.43,1577.8 L201.97,1567.6 L202.52,1557.2 L203.06,1546.6 L203.61,1535.1 L204.15,1522.5 L204.70,1510.2 L205.24,1498.6 L205.79,1487.7 L206.33,1476.9 L206.88,1465.4 L207.42,1452.2 L207.97,1439.1 L208.52,1427.2 L209.06,1416.1 L209.61,1406.1 L210.15,1397.9 L210.70,1391.3 L211.24,1387.0 L211.79,1387.0 L212.33,1390.5 L212.88,1396.8 L213.42,1405.5 L213.97,1418.4 L214.51,1433.3 L215.06,1447.9 L215.60,1457.5 L216.15,1466.3 L216.69,1475.8 L217.24,1486.0 L217.78,1497.1 L218.33,1508.4 L218.87,1518.4 L219.42,1525.9 L219.96,1531.7 L220.51,1534.9 L221.05,1539.5 L221.60,1548.2 L222.14,1556.4 L222.69,1564.3 L223.23,1569.3 L223.78,1570.1 L224.32,1570.5 L224.87,1570.9 L225.41,1570.6 L225.96,1569.2 L226.50,1569.0 L227.05,1571.0 L227.59,1579.4 L228.14,1595.2 L228.68,1611.6 L229.23,1627.8 L229.77,1639.3 L230.32,1645.1 L230.86,1651.2 L231.41,1657.5 L231.95,1665.5 L232.50,1675.5 L233.05,1685.0 L233.59,1693.9 L234.14,1702.3 L234.68,1710.3 L235.23,1718.2 L235.77,1725.9 L236.32,1734.3 L236.86,1743.6 L237.41,1752.6 L237.95,1761.1 L238.50,1766.5 L239.04,1767.8 L239.59,1768.4 L240.13,1768.3 L240.68,1769.5 L241.22,1772.9 L241.77,1776.2 L242.31,1779.2 L242.86,1782.4 L243.40,1786.1 L243.95,1789.3 L244.49,1791.8 L245.04,1792.5 L245.58,1790.9 L246.13,1788.6 L246.67,1785.7 L247.22,1781.3 L247.76,1774.8 L248.31,1767.9 L248.85,1760.7 L249.40,1754.3 L249.94,1749.4 L250.49,1744.4 L251.03,1738.9 L251.58,1731.4 L252.12,1721.7 L252.67,1710.8 L253.21,1699.0 L253.76,1687.6 L254.30,1677.4 L254.85,1666.9 L255.39,1656.3 L255.94,1646.1 L256.48,1636.9 L257.03,1628.2 L257.58,1619.3 L258.12,1608.7 L258.67,1596.4 L259.21,1583.8 L259.76,1571.3 L260.30,1558.8 L260.85,1546.5 L261.39,1534.9 L261.94,1524.2 L262.48,1515.8 L263.03,1509.3 L263.57,1501.5 L264.12,1492.9 L264.66,1482.7 L265.21,1471.3 L265.75,1461.8 L266.30,1454.4 L266.84,1450.0 L267.39,1447.5 L267.93,1447.7 L268.48,1451.2 L269.02,1457.0 L269.57,1464.9 L270.11,1474.4 L270.66,1485.1 L271.20,1495.9 L271.75,1505.6 L272.29,1514.3 L272.84,1520.8 L273.38,1527.4 L273.93,1534.7 L274.47,1542.1 L275.02,1549.4 L275.56,1555.6 L276.11,1560.5 L276.65,1565.4 L277.20,1570.2 L277.74,1575.1 L278.29,1580.0 L278.83,1584.9 L279.38,1589.9 L279.92,1596.1 L280.47,1604.1 L281.02,1612.2 L281.56,1620.3 L282.11,1626.6 L282.65,1630.6 L283.20,1634.4 L283.74,1638.1 L284.29,1642.2 L284.83,1646.7 L285.38,1651.0 L285.92,1655.1 L286.47,1661.4 L287.01,1670.7 L287.56,1679.9 L288.10,1688.9 L288.65,1695.5 L289.19,1698.8 L289.74,1701.8 L290.28,1704.7 L290.83,1708.0 L291.37,1712.0 L291.92,1715.8 L292.46,1719.8 L293.01,1721.9 L293.55,1721.5 L294.10,1720.8 L294.64,1719.8 L295.19,1720.7 L295.73,1724.4 L296.28,1727.2 L296.82,1729.4 L297.37,1729.8 L297.91,1728.0 L298.46,1725.8 L299.00,1723.3 L299.55,1720.4 L300.09,1717.2 L300.64,1713.8 L301.18,1710.3 L301.73,1705.9 L302.27,1700.2 L302.82,1694.5 L303.36,1688.2 L303.91,1683.7 L304.45,1682.2 L305.00,1680.5 L305.55,1678.4 L306.09,1675.8 L306.64,1672.3 L307.18,1669.0 L307.73,1665.8 L308.27,1661.6 L308.82,1655.9 L309.36,1650.5 L309.91,1645.0 L310.45,1639.1 L311.00,1632.7 L311.54,1626.3 L312.09,1620.1 L312.63,1615.3 L313.18,1612.6 L313.72,1610.1 L314.27,1608.0 L314.81,1606.3 L315.36,1605.3 L315.90,1604.4 L316.45,1603.5 L316.99,1599.3 L317.54,1590.2 L318.08,1581.3 L318.63,1572.6 L319.17,1569.4 L319.72,1573.8 L320.26,1578.5 L320.81,1583.2 L321.35,1586.4 L321.90,1587.4 L322.44,1588.5 L322.99,1589.8 L323.53,1590.9 L324.08,1591.7 L324.62,1592.8 L325.17,1594.2 L325.71,1596.5 L326.26,1600.0 L326.80,1603.6 L327.35,1607.2 L327.89,1609.4 L328.44,1609.7 L328.98,1609.9 L329.53,1609.9 L330.08,1609.8 L330.62,1609.4 L331.17,1609.1 L331.71,1608.8 L332.26,1609.1 L332.80,1610.3 L333.35,1611.4 L333.89,1612.3 L334.44,1613.4 L334.98,1614.8 L335.53,1616.0 L336.07,1616.7 L336.62,1615.6 L337.16,1612.0 L337.71,1608.0 L338.25,1603.8 L338.80,1600.8 L339.34,1599.7 L339.89,1598.4 L340.43,1597.0 L340.98,1596.0 L341.52,1595.4 L342.07,1594.8 L342.61,1593.6 L343.16,1591.8 L343.70,1589.7 L344.25,1587.2 L344.79,1584.4 L345.34,1578.9 L345.88,1569.5 L346.43,1560.3 L346.97,1551.3 L347.52,1544.6 L348.06,1541.1 L348.61,1538.0 L349.15,1534.4 L349.70,1530.6 L350.24,1527.0 L350.79,1523.4 L351.33,1520.1 L351.88,1517.5 L352.42,1515.7 L352.97,1514.2 L353.52,1513.1 L354.06,1515.0 L354.61,1517.2 L355.15,1519.5 L355.70,1521.8 L356.24,1525.7 L356.79,1532.7 L357.33,1540.6 L357.88,1549.4 L358.42,1553.6 L358.97,1553.0 L359.51,1552.5 L360.06,1553.3 L360.60,1557.7 L361.15,1566.6 L361.69,1575.8 L362.24,1585.0 L362.78,1593.4 L363.33,1600.2 L363.87,1606.3 L364.42,1611.8 L364.96,1618.1 L365.51,1625.4 L366.05,1632.3 L366.60,1638.8 L367.14,1644.1 L367.69,1647.7 L368.23,1650.7 L368.78,1653.5 L369.32,1653.8 L369.87,1650.9 L370.41,1647.7 L370.96,1644.5 L371.50,1643.6 L372.05,1646.0 L372.59,1648.3 L373.14,1650.4 L373.68,1652.9 L374.23,1656.1 L374.77,1659.1 L375.32,1662.1 L375.86,1663.2 L376.41,1661.8 L376.95,1660.4 L377.50,1659.0 L378.05,1657.6 L378.59,1656.5 L379.14,1655.3 L379.68,1654.3 L380.23,1655.9 L380.77,1661.4 L381.32,1667.0 L381.86,1672.7 L382.41,1676.1 L382.95,1676.1 L383.50,1676.2 L384.04,1676.4 L384.59,1677.1 L385.13,1678.5 L385.68,1680.0 L386.22,1681.7 L386.77,1682.9 L387.31,1683.4 L387.86,1684.2 L388.40,1685.2 L388.95,1688.3 L389.49,1694.1 L390.04,1699.9 L390.58,1705.8 L391.13,1709.5 L391.67,1710.1 L392.22,1710.6 L392.76,1711.1 L393.31,1713.7 L393.85,1719.1 L394.40,1724.6 L394.94,1730.0 L395.49,1732.8 L396.03,1732.1 L396.58,1731.2 L397.12,1730.2 L397.67,1730.5 L398.21,1732.7 L398.76,1734.5 L399.30,1736.4 L399.85,1739.0 L400.39,1742.6 L400.94,1746.1 L401.48,1749.6 L402.03,1751.6 L402.58,1751.5 L403.12,1751.2 L403.67,1750.8 L404.21,1751.8 L404.76,1755.1 L405.30,1758.0 L405.85,1760.8 L406.39,1762.0 L406.94,1761.0 L407.48,1759.7 L408.03,1758.0 L408.57,1755.4 L409.12,1751.9 L409.66,1748.1 L410.21,1744.1 L410.75,1741.6 L411.30,1741.2 L411.84,1740.8 L412.39,1740.4 L412.93,1738.9 L413.48,1735.5 L414.02,1731.8 L414.57,1727.7 L415.11,1724.6 L415.66,1723.1 L416.20,1721.4 L416.75,1719.7 L417.29,1715.8 L417.84,1708.8 L418.38,1702.0 L418.93,1695.2 L419.47,1689.7 L420.02,1686.0 L420.56,1682.2 L421.11,1678.3 L421.65,1675.5 L422.20,1674.3 L422.74,1673.1 L423.29,1672.0 L423.83,1670.4 L424.38,1668.1 L424.92,1666.0 L425.47,1663.9 L426.02,1660.7 L426.56,1655.9 L427.11,1651.2 L427.65,1646.4 L428.20,1640.3 L428.74,1632.4 L429.29,1624.5 L429.83,1616.9 L430.38,1611.2 L430.92,1608.1 L431.47,1605.4 L432.01,1603.0 L432.56,1601.5 L433.10,1601.4 L433.65,1601.5 L434.19,1601.8 L434.74,1599.9 L435.28,1594.8 L435.83,1590.1 L436.37,1585.8 L436.92,1582.3 L437.46,1579.8 L438.01,1577.5 L438.55,1575.4 L439.10,1575.3 L439.64,1577.6 L440.19,1580.1 L440.73,1582.7 L441.28,1584.8 L441.82,1586.0 L442.37,1587.4 L442.91,1588.8 L443.46,1588.9 L444.00,1587.1 L444.55,1585.3 L445.09,1583.4 L445.64,1581.9 L446.18,1580.9 L446.73,1579.8 L447.27,1578.6 L447.82,1578.1 L448.36,1578.6 L448.91,1579.0 L449.45,1579.2 L450.00,1580.8 L450.55,1584.5 L451.09,1588.1 L451.64,1591.6 L452.18,1592.3 L452.73,1588.7 L453.27,1585.2 L453.82,1581.8 L454.36,1580.1 L454.91,1580.9 L455.45,1582.0 L456.00,1583.2 L456.54,1584.8 L457.09,1587.0 L457.63,1589.7 L458.18,1592.9 L458.72,1596.4 L459.27,1600.2 L459.81,1603.9 L460.36,1607.6 L460.90,1609.8 L461.45,1610.1 L461.99,1610.7 L462.54,1611.5 L463.08,1613.8 L463.63,1618.2 L464.17,1622.4 L464.72,1626.6 L465.26,1628.6 L465.81,1627.8 L466.35,1626.6 L466.90,1624.8 L467.44,1624.0 L467.99,1624.7 L468.53,1624.6 L469.08,1623.9 L469.62,1621.8 L470.17,1617.8 L470.71,1613.5 L471.26,1608.8 L471.80,1606.3 L472.35,1606.9 L472.89,1607.5 L473.44,1607.0 L473.98,1602.8 L474.53,1594.0 L475.08,1584.5 L475.62,1574.7 L476.17,1565.3 L476.71,1556.5 L477.26,1548.1 L477.80,1540.1 L478.35,1533.1 L478.89,1527.4 L479.44,1521.6 L479.98,1515.4 L480.53,1508.5 L481.07,1500.5 L481.62,1491.7 L482.16,1481.6 L482.71,1468.6 L483.25,1454.0 L483.80,1439.3 L484.34,1426.9 L484.89,1414.4 L485.43,1398.7 L485.98,1383.2 L486.52,1366.7 L487.07,1351.0 L487.61,1337.2 L488.16,1322.4 L488.70,1307.7 L489.25,1294.3 L489.79,1281.4 L490.34,1268.9 L490.88,1256.8 L491.43,1247.3 L491.97,1239.9 L492.52,1228.6 L493.06,1215.6 L493.61,1201.0 L494.15,1188.4 L494.70,1180.1 L495.24,1172.9 L495.79,1167.6 L496.33,1165.4 L496.88,1167.8 L497.42,1172.0 L497.97,1177.8 L498.52,1184.9 L499.06,1193.1 L499.61,1202.9 L500.15,1215.7 L500.70,1231.6 L501.24,1246.1 L501.79,1260.9 L502.33,1273.1 L502.88,1282.5 L503.42,1293.2 L503.97,1303.7 L504.51,1315.1 L505.06,1328.7 L505.60,1342.1 L506.15,1355.5 L506.69,1370.8 L507.24,1389.0 L507.78,1407.4 L508.33,1425.9 L508.87,1442.0 L509.42,1454.9 L509.96,1468.0 L510.51,1480.9 L511.05,1494.1 L511.60,1507.8 L512.14,1520.9 L512.69,1533.7 L513.23,1544.9 L513.78,1554.2 L514.32,1563.2 L514.87,1571.9 L515.41,1583.5 L515.96,1599.0 L516.50,1614.3 L517.05,1629.2 L517.59,1641.7 L518.14,1650.9 L518.68,1659.8 L519.23,1668.5 L519.77,1676.4 L520.32,1683.3 L520.86,1690.2 L521.41,1697.0 L521.95,1704.4 L522.50,1712.9 L523.05,1720.8 L523.59,1728.1 L524.14,1732.6 L524.68,1733.4 L525.23,1733.9 L525.77,1734.3 L526.32,1738.3 L526.86,1747.6 L527.41,1756.6 L527.95,1765.3 L528.50,1771.2 L529.04,1773.4 L529.59,1775.3 L530.13,1776.9 L530.68,1779.4 L531.22,1783.0 L531.77,1786.7 L532.31,1790.2 L532.86,1793.4 L533.40,1796.1 L533.95,1798.6 L534.49,1801.0 L535.04,1802.3 L535.58,1802.2 L536.13,1801.8 L536.67,1801.1 L537.22,1800.0 L537.76,1798.4 L538.31,1796.9 L538.85,1795.2 L539.40,1795.9 L539.94,1799.9 L540.49,1803.8 L541.03,1807.6 L541.58,1809.3 L542.12,1807.8 L542.67,1806.4 L543.21,1804.8 L543.76,1804.3 L544.30,1805.2 L544.85,1806.1 L545.39,1806.9 L545.94,1807.2 L546.48,1806.9 L547.03,1806.6 L547.58,1806.2 L548.12,1806.2 L548.67,1806.8 L549.21,1807.3 L549.76,1807.8 L550.30,1806.8 L550.85,1803.6 L551.39,1800.4 L551.94,1797.2 L552.48,1797.7 L553.03,1803.6 L553.57,1809.4 L554.12,1815.2 L554.66,1817.9 L555.21,1816.3 L555.75,1814.6 L556.30,1812.9 L556.84,1812.4 L557.39,1813.6 L557.93,1814.8 L558.48,1816.0 L559.02,1817.1 L559.57,1818.3 L560.11,1819.4 L560.66,1820.6 L561.20,1819.7 L561.75,1816.2 L562.29,1812.6 L562.84,1809.0 L563.38,1805.5 L563.93,1802.1 L564.47,1798.7 L565.02,1795.3 L565.56,1793.7 L566.11,1794.7 L566.65,1795.7 L567.20,1796.6 L567.74,1796.7 L568.29,1795.5 L568.83,1794.3 L569.38,1793.0 L569.92,1792.4 L570.47,1792.7 L571.02,1793.0 L571.56,1793.2 L572.11,1793.3 L572.65,1793.2 L573.20,1793.0 L573.74,1792.7 L574.29,1790.3 L574.83,1785.1 L575.38,1779.7 L575.92,1774.1 L576.47,1771.4 L577.01,1772.9 L577.56,1774.3 L578.10,1775.6 L578.65,1773.7 L579.19,1767.5 L579.74,1760.9 L580.28,1753.8 L580.83,1748.7 L581.37,1746.9 L581.92,1744.7 L582.46,1742.2 L583.01,1737.8 L583.55,1730.8 L584.10,1723.5 L584.64,1716.0 L585.19,1707.9 L585.73,1699.2 L586.28,1689.8 L586.82,1679.9 L587.37,1670.0 L587.91,1660.4 L588.46,1650.8 L589.00,1641.0 L589.55,1630.2 L590.09,1618.2 L590.64,1606.1 L591.18,1594.1 L591.73,1582.6 L592.27,1571.5 L592.82,1560.3 L593.36,1549.3 L593.91,1538.1 L594.45,1526.4 L595.00,1515.3 L595.55,1504.5 L596.09,1498.6 L596.64,1495.0 L597.18,1489.9 L597.73,1483.8 L598.27,1478.0 L598.82,1472.8 L599.36,1468.5 L599.91,1465.6 L600.45,1464.1 L601.00,1463.5 L601.54,1464.2 L602.09,1469.6 L602.63,1475.2 L603.18,1480.7 L603.72,1485.9 L604.27,1491.4 L604.81,1497.3 L605.36,1506.5 L605.90,1515.5 L606.45,1518.8 L606.99,1519.8 L607.54,1519.2 L608.08,1518.5 L608.63,1517.8 L609.17,1520.1 L609.72,1526.5 L610.26,1532.6 L610.81,1538.4 L611.35,1540.7 L611.90,1538.1 L612.44,1535.1 L612.99,1531.6 L613.53,1529.3 L614.08,1528.5 L614.62,1527.6 L615.17,1526.6 L615.71,1525.5 L616.26,1524.1 L616.80,1522.8 L617.35,1521.5 L617.89,1520.6 L618.44,1520.3 L618.98,1520.2 L619.53,1520.2 L620.08,1519.7 L620.62,1518.4 L621.17,1517.5 L621.71,1516.8 L622.26,1517.0 L622.80,1518.5 L623.35,1520.2 L623.89,1521.9 L624.44,1522.6 L624.98,1522.0 L625.53,1522.1 L626.07,1522.9 L626.62,1525.6 L627.16,1530.6 L627.71,1535.6 L628.25,1540.4 L628.80,1546.7 L629.34,1555.3 L629.89,1563.9 L630.43,1572.6 L630.98,1577.2 L631.52,1576.1 L632.07,1575.3 L632.61,1574.9 L633.16,1576.8 L633.70,1581.7 L634.25,1586.8 L634.79,1592.2 L635.34,1598.5 L635.88,1606.2 L636.43,1613.9 L636.97,1621.6 L637.52,1628.9 L638.06,1635.8 L638.61,1643.0 L639.15,1650.4 L639.70,1656.4 L640.24,1660.3 L640.79,1664.2 L641.33,1668.2 L641.88,1674.3 L642.42,1683.2 L642.97,1692.0 L643.52,1700.8 L644.06,1709.8 L644.61,1719.0 L645.15,1728.2 L645.70,1737.3 L646.24,1744.9 L646.79,1750.5 L647.33,1756.0 L647.88,1761.3 L648.42,1766.9 L648.97,1773.0 L649.51,1779.0 L650.06,1785.0 L650.60,1791.9 L651.15,1800.1 L651.69,1808.0 L652.24,1815.6 L652.78,1820.4 L653.33,1821.2 L653.87,1821.8 L654.42,1822.4 L654.96,1824.7 L655.51,1829.8 L656.05,1834.7 L656.60,1839.4 L657.14,1843.1 L657.69,1845.5 L658.23,1847.7 L658.78,1849.9 L659.32,1853.6 L659.87,1859.7 L660.41,1865.6 L660.96,1871.5 L661.50,1873.7 L662.05,1871.0 L662.59,1868.2 L663.14,1865.4 L663.68,1865.5 L664.23,1869.8 L664.77,1874.0 L665.32,1878.2 L665.86,1881.7 L666.41,1884.0 L666.95,1886.4 L667.50,1888.7 L668.05,1891.6 L668.59,1895.4 L669.14,1899.1 L669.68,1902.8 L670.23,1905.7 L670.77,1907.5 L671.32,1909.3 L671.86,1911.0 L672.41,1913.2 L672.95,1916.1 L673.50,1919.0 L674.04,1921.9 L674.59,1922.5 L675.13,1919.9 L675.68,1917.3 L676.22,1914.7 L676.77,1915.3 L677.31,1920.2 L677.86,1925.2 L678.40,1930.1 L678.95,1933.0 L679.49,1933.1 L680.04,1933.1 L680.58,1933.2 L681.13,1933.6 L681.67,1934.5 L682.22,1935.4 L682.76,1936.3 L683.31,1938.1 L683.85,1941.1 L684.40,1944.1 L684.94,1947.0 L685.49,1948.4 L686.03,1947.5 L686.58,1946.7 L687.12,1945.9 L687.67,1945.2 L688.21,1944.7 L688.76,1944.2 L689.30,1943.8 L689.85,1944.9 L690.39,1948.3 L690.94,1951.6 L691.48,1955.0 L692.03,1956.7 L692.58,1956.2 L693.12,1955.6 L693.67,1955.1 L694.21,1955.7 L694.76,1957.8 L695.30,1959.9 L695.85,1962.0 L696.39,1964.2 L696.94,1966.5 L697.48,1968.8 L698.03,1971.1 L698.57,1972.8 L699.12,1973.6 L699.66,1974.4 L700.21,1975.2 L700.75,1976.7 L701.30,1979.3 L701.84,1981.8 L702.39,1984.2 L702.93,1985.0 L703.48,1983.4 L704.02,1981.8 L704.57,1980.2 L705.11,1978.8 L705.66,1977.7 L706.20,1976.6 L706.75,1975.5 L707.29,1975.6 L707.84,1977.2 L708.38,1978.8 L708.93,1980.4 L709.47,1981.5 L710.02,1981.8 L710.56,1982.2 L711.11,1982.5 L711.65,1982.8 L712.20,1982.9 L712.74,1983.0 L713.29,1983.2 L713.83,1984.3 L714.38,1986.9 L714.92,1989.5 L715.47,1992.1 L716.02,1993.3 L716.56,1992.4 L717.11,1991.4 L717.65,1990.5 L718.20,1989.4 L718.74,1988.2 L719.29,1986.9 L719.83,1985.6 L720.38,1986.5 L720.92,1990.3 L721.47,1994.1 L722.01,1997.9 L722.56,1999.8 L723.10,1999.1 L723.65,1998.5 L724.19,1997.8 L724.74,1997.8 L725.28,1998.8 L725.83,1999.7 L726.37,2000.6 L726.92,2001.2 L727.46,2001.2 L728.01,2001.2 L728.55,2001.2 L729.10,2001.6 L729.64,2002.6 L730.19,2003.5 L730.73,2004.5 L731.28,2004.8 L731.82,2004.4 L732.37,2003.9 L732.91,2003.4 L733.46,2003.8 L734.00,2005.6 L734.55,2007.3 L735.09,2009.1 L735.64,2009.8 L736.18,2009.0 L736.73,2008.2 L737.27,2007.5 L737.82,2007.1 L738.36,2007.3 L738.91,2007.4 L739.45,2007.6 L740.00,2007.8 L740.55,2008.1 L741.09,2008.3 L741.64,2008.5 L742.18,2007.8 L742.73,2005.7 L743.27,2003.6 L743.82,2001.5 L744.36,2001.0 L744.91,2002.8 L745.45,2004.6 L746.00,2006.4 L746.54,2007.4 L747.09,2007.5 L747.63,2007.6 L748.18,2007.7 L748.72,2008.0 L749.27,2008.8 L749.81,2009.5 L750.36,2010.3 L750.90,2010.0 L751.45,2008.2 L751.99,2006.4 L752.54,2004.7 L753.08,2005.2 L753.63,2009.1 L754.17,2012.9 L754.72,2016.8 L755.26,2018.3 L755.81,2016.6 L756.35,2014.8 L756.90,2013.1 L757.44,2011.5 L757.99,2010.0 L758.53,2008.5 L759.08,2007.0 L759.62,2006.0 L760.17,2005.5 L760.71,2005.0 L761.26,2004.5 L761.80,2005.0 L762.35,2006.9 L762.89,2008.8 L763.44,2010.7 L763.98,2012.0 L764.53,2012.3 L765.08,2012.7 L765.62,2013.1 L766.17,2013.0 L766.71,2012.4 L767.26,2011.8 L767.80,2011.1 L768.35,2011.2 L768.89,2012.4 L769.44,2013.5 L769.98,2014.6 L770.53,2015.0 L771.07,2014.2 L771.62,2013.5 L772.16,2012.7 L772.71,2013.0 L773.25,2014.6 L773.80,2016.2 L774.34,2017.8 L774.89,2018.1 L775.43,2016.7 L775.98,2015.3 L776.52,2013.8 L777.07,2013.4 L777.61,2014.4 L778.16,2015.4 L778.70,2016.4 L779.25,2017.5 L779.79,2018.9 L780.34,2020.3 L780.88,2021.7 L781.43,2023.3 L781.97,2025.4 L782.52,2027.5 L783.06,2029.6 L783.61,2029.1 L784.15,2024.9 L784.70,2020.7 L785.24,2016.5 L785.79,2014.4 L786.33,2015.2 L786.88,2016.0 L787.42,2016.9 L787.97,2017.3 L788.52,2017.0 L789.06,2016.7 L789.61,2016.4 L790.15,2017.2 L790.70,2019.3 L791.24,2021.5 L791.79,2023.7 L792.33,2024.0 L792.88,2021.9 L793.42,2019.8 L793.97,2017.7 L794.51,2016.8 L795.06,2017.9 L795.60,2018.9 L796.15,2019.9 L796.69,2020.8 L797.24,2021.6 L797.78,2022.3 L798.33,2023.1 L798.87,2023.2 L799.42,2022.3 L799.96,2021.4 L800.51,2020.5 L801.05,2020.0 L801.60,2020.3 L802.14,2020.6 L802.69,2020.8 L803.23,2021.3 L803.78,2022.1 L804.32,2023.0 L804.87,2023.8 L805.41,2023.6 L805.96,2021.9 L806.50,2020.2 L807.05,2018.5 L807.59,2017.9 L808.14,2018.9 L808.68,2020.0 L809.23,2021.0 L809.77,2022.2 L810.32,2023.7 L810.86,2025.2 L811.41,2026.7 L811.95,2027.9 L812.50,2028.8 L813.05,2029.8 L813.59,2030.7 L814.14,2031.2 L814.68,2031.0 L815.23,2030.9 L815.77,2030.8 L816.32,2030.0 L816.86,2028.4 L817.41,2026.8 L817.95,2025.2 L818.50,2025.1 L819.04,2026.9 L819.59,2028.7 L820.13,2030.6 L820.68,2032.4 L821.22,2034.1 L821.77,2035.9 L822.31,2037.7 L822.86,2038.8 L823.40,2038.8 L823.95,2038.8 L824.49,2038.8 L825.04,2038.7 L825.58,2038.2 L826.13,2037.8 L826.67,2037.4 L827.22,2036.9 L827.76,2036.3 L828.31,2035.7 L828.85,2035.1 L829.40,2035.6 L829.94,2037.7 L830.49,2039.8 L831.03,2041.9 L831.58,2042.7 L832.12,2041.7 L832.67,2040.6 L833.21,2039.6 L833.76,2038.8 L834.30,2038.5 L834.85,2038.2 L835.39,2037.9 L835.94,2038.0 L836.48,2038.8 L837.03,2039.6 L837.58,2040.4 L838.12,2042.1 L838.67,2045.1 L839.21,2048.1 L839.76,2051.0 L840.30,2052.3 L840.85,2051.3 L841.39,2050.3 L841.94,2049.2 L842.48,2049.3 L843.03,2050.7 L843.57,2052.2 L844.12,2053.6 L844.66,2053.8 L845.21,2052.4 L845.75,2050.9 L846.30,2049.4 L846.84,2049.4 L847.39,2051.4 L847.93,2053.4 L848.48,2055.4 L849.02,2056.0 L849.57,2054.6 L850.11,2053.3 L850.66,2051.9 L851.20,2051.5 L851.75,2052.4 L852.29,2053.3 L852.84,2054.1 L853.38,2056.0 L853.93,2059.4 L854.47,2062.7 L855.02,2066.0 L855.56,2067.4 L856.11,2065.8 L856.65,2064.3 L857.20,2062.7 L857.74,2061.4 L858.29,2060.3 L858.83,2059.3 L859.38,2058.2 L859.92,2058.0 L860.47,2058.8 L861.02,2059.6 L861.56,2060.5 L862.11,2061.3 L862.65,2062.1 L863.20,2062.9 L863.74,2063.7 L864.29,2064.8 L864.83,2066.1 L865.38,2067.5 L865.92,2068.8 L866.47,2068.9 L867.01,2067.5 L867.56,2066.0 L868.10,2064.5 L868.65,2063.2 L869.19,2062.2 L869.74,2061.2 L870.28,2060.2 L870.83,2060.4 L871.37,2062.4 L871.92,2064.4 L872.46,2066.3 L873.01,2067.8 L873.55,2068.4 L874.10,2069.1 L874.64,2069.8 L875.19,2070.4 L875.73,2070.9 L876.28,2071.4 L876.82,2071.8 L877.37,2072.8 L877.91,2074.5 L878.46,2076.1 L879.00,2077.8 L879.55,2078.4 L880.09,2077.7 L880.64,2077.0 L881.18,2076.3 L881.73,2076.3 L882.27,2077.2 L882.82,2078.1 L883.36,2078.9 L883.91,2078.8 L884.45,2077.1 L885.00,2075.4 L885.55,2073.7 L886.09,2073.8 L886.64,2076.2 L887.18,2078.7 L887.73,2081.1 L888.27,2083.2 L888.82,2084.9 L889.36,2086.5 L889.91,2088.1 L890.45,2088.7 L891.00,2087.6 L891.54,2086.6 L892.09,2085.5 L892.63,2084.8 L893.18,2084.6 L893.72,2084.4 L894.27,2084.2 L894.81,2084.2 L895.36,2084.5 L895.90,2084.7 L896.45,2084.9 L896.99,2085.9 L897.54,2088.0 L898.08,2090.0 L898.63,2092.0 L899.17,2092.2 L899.72,2089.7 L900.26,2087.2 L900.81,2084.8 L901.35,2083.8 L901.90,2085.0 L902.44,2086.2 L902.99,2087.4 L903.53,2088.4 L904.08,2089.4 L904.62,2090.3 L905.17,2091.2 L905.71,2092.0 L906.26,2092.6 L906.80,2093.3 L907.35,2093.9 L907.89,2093.9 L908.44,2093.0 L908.98,2092.1 L909.53,2091.3 L910.08,2091.2 L910.62,2092.3 L911.17,2093.4 L911.71,2094.5 L912.26,2095.0 L912.80,2094.7 L913.35,2094.5 L913.89,2094.2 L914.44,2094.3 L914.98,2095.1 L915.53,2095.8 L916.07,2096.5 L916.62,2097.0 L917.16,2097.0 L917.71,2097.1 L918.25,2097.2 L918.80,2096.9 L919.34,2096.2 L919.89,2095.6 L920.43,2094.9 L920.98,2095.1 L921.52,2096.5 L922.07,2097.9 L922.61,2099.4 L923.16,2100.7 L923.70,2101.9 L924.25,2103.1 L924.79,2104.3 L925.34,2104.4 L925.88,2102.9 L926.43,2101.3 L926.97,2099.8 L927.52,2099.4 L928.06,2100.4 L928.61,2101.4 L929.15,2102.4 L929.70,2103.5 L930.24,2104.7 L930.79,2105.9 L931.33,2107.1 L931.88,2107.2 L932.42,2105.8 L932.97,2104.4 L933.52,2103.0 L934.06,2102.8 L934.61,2104.4 L935.15,2105.9 L935.70,2107.4 L936.24,2107.9 L936.79,2107.0 L937.33,2106.1 L937.88,2105.2 L938.42,2105.7 L938.97,2108.1 L939.51,2110.5 L940.06,2112.9 L940.60,2114.9 L941.15,2116.4 L941.69,2117.8 L942.24,2119.2 L942.78,2120.0 L943.33,2120.1 L943.87,2120.1 L944.42,2120.1 L944.96,2119.3 L945.51,2117.5 L946.05,2115.6 L946.60,2113.8 L947.14,2113.2 L947.69,2114.4 L948.23,2115.6 L948.78,2116.8 L949.32,2117.3 L949.87,2117.0 L950.41,2116.7 L950.96,2116.4 L951.50,2116.4 L952.05,2116.6 L952.59,2116.9 L953.14,2117.1 L953.68,2118.0 L954.23,2119.6 L954.77,2121.2 L955.32,2122.8 L955.86,2122.8 L956.41,2120.4 L956.95,2117.9 L957.50,2115.5 L958.05,2115.1 L958.59,2117.6 L959.14,2120.1 L959.68,2122.5 L960.23,2123.6 L960.77,2122.9 L961.32,2122.1 L961.86,2121.3 L962.41,2121.5 L962.95,2123.1 L963.50,2124.6 L964.04,2126.2 L964.59,2126.8 L965.13,2125.9 L965.68,2124.9 L966.22,2124.0 L966.77,2123.3 L967.31,2122.7 L967.86,2122.1 L968.40,2121.5 L968.95,2121.6 L969.49,2122.7 L970.04,2123.8 L970.58,2124.9 L971.13,2125.8 L971.67,2126.4 L972.22,2127.0 L972.76,2127.7 L973.31,2127.8 L973.85,2127.4 L974.40,2127.0 L974.94,2126.5 L975.49,2126.5 L976.03,2127.2 L976.58,2127.8 L977.12,2128.4 L977.67,2128.4 L978.21,2127.7 L978.76,2127.0 L979.30,2126.3 L979.85,2125.4 L980.39,2124.1 L980.94,2122.8 L981.48,2121.6 L982.03,2122.0 L982.58,2125.0 L983.12,2127.9 L983.67,2130.8 L984.21,2132.5 L984.76,2132.5 L985.30,2132.5 L985.85,2132.5 L986.39,2132.4 L986.94,2132.1 L987.48,2131.7 L988.03,2131.4 L988.57,2131.3 L989.12,2131.4 L989.66,2131.4 L990.21,2131.5 L990.75,2132.0 L991.30,2133.0 L991.84,2134.1 L992.39,2135.1 L992.93,2135.2 L993.48,2134.0 L994.02,2132.8 L994.57,2131.6 L995.11,2130.9 L995.66,2130.8 L996.20,2130.7 L996.75,2130.7 L997.29,2130.9 L997.84,2131.4 L998.38,2132.0 L998.93,2132.6 L999.47,2133.5 L1000.02,2134.8 L1000.56,2136.2 L1001.11,2137.5 L1001.65,2137.4 L1002.20,2135.2 L1002.74,2133.0 L1003.29,2130.9 L1003.83,2130.6 L1004.38,2133.0 L1004.92,2135.3 L1005.47,2137.7 L1006.02,2138.5 L1006.56,2137.0 L1007.11,2135.5 L1007.65,2133.9 L1008.20,2132.9 L1008.74,2132.6 L1009.29,2132.3 L1009.83,2132.0 L1010.38,2132.7 L1010.92,2134.9 L1011.47,2137.1 L1012.01,2139.2 L1012.56,2140.0 L1013.10,2139.0 L1013.65,2137.9 L1014.19,2136.8 L1014.74,2135.7 L1015.28,2134.8 L1015.83,2133.8 L1016.37,2132.8 L1016.92,2132.7 L1017.46,2133.6 L1018.01,2134.5 L1018.55,2135.4 L1019.10,2136.4 L1019.64,2137.6 L1020.19,2138.8 L1020.73,2140.0 L1021.28,2140.8 L1021.82,2141.1 L1022.37,2141.5 L1022.91,2141.8 L1023.46,2141.4 L1024.00,2140.0 L1024.55,2138.7 L1025.09,2137.4 L1025.64,2136.9 L1026.18,2137.7 L1026.73,2138.5 L1027.27,2139.3 L1027.82,2139.9 L1028.36,2140.2 L1028.91,2140.5 L1029.45,2140.8 L1030.00,2140.5 L1030.55,2139.4 L1031.09,2138.3 L1031.64,2137.2 L1032.18,2136.9 L1032.73,2137.8 L1033.27,2138.7 L1033.82,2139.6 L1034.36,2140.0 L1034.91,2139.7 L1035.45,2139.4 L1036.00,2139.1 L1036.54,2138.7 L1037.09,2138.3 L1037.63,2137.9 L1038.18,2137.5 L1038.72,2137.3 L1039.27,2137.3 L1039.81,2137.4 L1040.36,2137.4 L1040.90,2137.7 L1041.45,2138.2 L1041.99,2138.7 L1042.54,2139.2 L1043.08,2139.5 L1043.63,2139.4 L1044.17,2139.4 L1044.72,2139.4 L1045.26,2139.2 L1045.81,2138.7 L1046.35,2138.2 L1046.90,2137.7 L1047.44,2137.4 L1047.99,2137.6 L1048.53,2137.7 L1049.08,2137.8 L1049.62,2138.5 L1050.17,2139.8 L1050.71,2141.2 L1051.26,2142.5 L1051.80,2143.0 L1052.35,2142.2 L1052.89,2141.4 L1053.44,2140.7 L1053.98,2140.5 L1054.53,2141.0 L1055.08,2141.6 L1055.62,2142.2 L1056.17,2142.7 L1056.71,2143.0 L1057.26,2143.2 L1057.80,2143.5 L1058.35,2143.5 L1058.89,2143.0 L1059.44,2142.4 L1059.98,2141.9 L1060.53,2142.2 L1061.07,2143.7 L1061.62,2145.1 L1062.16,2146.6 L1062.71,2146.3 L1063.25,2143.7 L1063.80,2141.0 L1064.34,2138.4 L1064.89,2137.4 L1065.43,2138.8 L1065.98,2140.2 L1066.52,2141.6 L1067.07,2142.1 L1067.61,2141.1 L1068.16,2140.1 L1068.70,2139.2 L1069.25,2139.4 L1069.79,2141.3 L1070.34,2143.2 L1070.88,2145.0 L1071.43,2146.1 L1071.97,2146.0 L1072.52,2145.8 L1073.06,2145.7 L1073.61,2144.3 L1074.15,2141.2 L1074.70,2138.1 L1075.24,2134.9 L1075.79,2133.4 L1076.33,2134.3 L1076.88,2135.2 L1077.42,2136.0 L1077.97,2137.1 L1078.52,2138.5 L1079.06,2139.9 L1079.61,2141.4 L1080.15,2142.2 L1080.70,2142.4 L1081.24,2142.5 L1081.79,2142.6 L1082.33,2142.6 L1082.88,2142.6 L1083.42,2142.6 L1083.97,2142.5 L1084.51,2142.2 L1085.06,2141.5 L1085.60,2140.8 L1086.15,2140.2 L1086.69,2139.9 L1087.24,2140.4 L1087.78,2140.9 L1088.33,2141.3 L1088.87,2141.7 L1089.42,2141.9 L1089.96,2142.0 L1090.51,2142.2 L1091.05,2142.1 L1091.60,2141.4 L1092.14,2140.8 L1092.69,2140.2 L1093.23,2140.2 L1093.78,2141.2 L1094.32,2142.2 L1094.87,2143.1 L1095.41,2142.5 L1095.96,2139.7 L1096.50,2136.9 L1097.05,2134.0 L1097.59,2133.4 L1098.14,2135.9 L1098.68,2138.4 L1099.23,2140.9 L1099.77,2141.8 L1100.32,2140.4 L1100.86,2139.0 L1101.41,2137.5 L1101.95,2137.4 L1102.50,2139.2 L1103.05,2140.9 L1103.59,2142.6 L1104.14,2143.2 L1104.68,2142.2 L1105.23,2141.2 L1105.77,2140.2 L1106.32,2139.4 L1106.86,2138.8 L1107.41,2138.3 L1107.95,2137.7 L1108.50,2137.8 L1109.04,2138.9 L1109.59,2140.0 L1110.13,2141.2 L1110.68,2141.4 L1111.22,2140.3 L1111.77,2139.2 L1112.31,2138.1 L1112.86,2137.5 L1113.40,2137.5 L1113.95,2137.6 L1114.49,2137.6 L1115.04,2137.4 L1115.58,2136.9 L1116.13,2136.4 L1116.67,2135.8 L1117.22,2136.1 L1117.76,2137.5 L1118.31,2138.8 L1118.85,2140.2 L1119.40,2141.2 L1119.94,2141.7 L1120.49,2142.2 L1121.03,2142.7 L1121.58,2143.2 L1122.12,2143.7 L1122.67,2144.2 L1123.21,2144.7 L1123.76,2144.6 L1124.30,2143.7 L1124.85,2142.8 L1125.39,2141.8 L1125.94,2141.7 L1126.48,2142.8 L1127.03,2143.9 L1127.58,2145.0 L1128.12,2145.3 L1128.67,2144.5 L1129.21,2143.6 L1129.76,2142.8 L1130.30,2142.3 L1130.85,2142.3 L1131.39,2142.3 L1131.94,2142.3 L1132.48,2142.5 L1133.03,2143.1 L1133.57,2143.8 L1134.12,2144.4 L1134.66,2145.0 L1135.21,2145.5 L1135.75,2145.9 L1136.30,2146.4 L1136.84,2146.2 L1137.39,2145.1 L1137.93,2144.0 L1138.48,2142.9 L1139.02,2142.3 L1139.57,2142.4 L1140.11,2142.6 L1140.66,2142.7 L1141.20,2142.9 L1141.75,2143.0 L1142.29,2143.2 L1142.84,2143.3 L1143.38,2143.5 L1143.93,2143.8 L1144.47,2144.1 L1145.02,2144.4 L1145.56,2144.3 L1146.11,2143.5 L1146.65,2142.8 L1147.20,2142.0 L1147.74,2142.3 L1148.29,2144.0 L1148.83,2145.7 L1149.38,2147.4 L1149.92,2148.0 L1150.47,2146.9 L1151.02,2145.8 L1151.56,2144.6 L1152.11,2144.3 L1152.65,2145.2 L1153.20,2146.0 L1153.74,2146.8 L1154.29,2146.9 L1154.83,2145.9 L1155.38,2144.9 L1155.92,2143.9 L1156.47,2143.8 L1157.01,2144.9 L1157.56,2146.0 L1158.10,2147.1 L1158.65,2147.8 L1159.19,2148.0 L1159.74,2148.1 L1160.28,2148.2 L1160.83,2148.1 L1161.37,2147.5 L1161.92,2147.0 L1162.46,2146.4 L1163.01,2147.0 L1163.55,2149.1 L1164.10,2151.3 L1164.64,2153.5 L1165.19,2154.2 L1165.73,2153.0 L1166.28,2151.7 L1166.82,2150.5 L1167.37,2150.4 L1167.91,2151.7 L1168.46,2153.0 L1169.00,2154.3 L1169.55,2154.9 L1170.09,2154.4 L1170.64,2153.9 L1171.18,2153.4 L1171.73,2152.6 L1172.27,2151.4 L1172.82,2150.3 L1173.36,2149.1 L1173.91,2148.6 L1174.45,2149.1 L1175.00,2149.5 L1175.55,2149.9 L1176.09,2150.5 L1176.64,2151.4 L1177.18,2152.3 L1177.73,2153.2 L1178.27,2153.6 L1178.82,2153.6 L1179.36,2153.5 L1179.91,2153.4 L1180.45,2153.4 L1181.00,2153.6 L1181.54,2153.8 L1182.09,2154.0 L1182.63,2154.1 L1183.18,2154.1 L1183.72,2154.0 L1184.27,2154.0 L1184.81,2153.6 L1185.36,2152.6 L1185.90,2151.6 L1186.45,2150.6 L1186.99,2150.6 L1187.54,2152.1 L1188.08,2153.6 L1188.63,2155.1 L1189.17,2155.4 L1189.72,2154.1 L1190.26,2152.7 L1190.81,2151.4 L1191.35,2151.5 L1191.90,2153.8 L1192.44,2156.1 L1192.99,2158.4 L1193.53,2159.4 L1194.08,2158.8 L1194.62,2158.1 L1195.17,2157.5 L1195.71,2157.2 L1196.26,2157.4 L1196.80,2157.7 L1197.35,2157.9 L1197.89,2158.3 L1198.44,2158.9 L1198.98,2159.5 L1199.53,2160.1 L1200.08,2160.7 L1200.62,2161.3 L1201.17,2161.9 L1201.71,2162.4 L1202.26,2162.3 L1202.80,2161.2 L1203.35,2160.1 L1203.89,2159.0 L1204.44,2158.3 L1204.98,2158.3 L1205.53,2158.3 L1206.07,2158.3 L1206.62,2158.5 L1207.16,2159.3 L1207.71,2160.0 L1208.25,2160.8 L1208.80,2161.0 L1209.34,2160.5 L1209.89,2159.9 L1210.43,2159.4 L1210.98,2159.5 L1211.52,2160.6 L1212.07,2161.6 L1212.61,2162.7 L1213.16,2164.2 L1213.70,2166.3 L1214.25,2168.5 L1214.79,2170.6 L1215.34,2171.2 L1215.88,2169.4 L1216.43,2167.6 L1216.97,2165.8 L1217.52,2165.4 L1218.06,2166.9 L1218.61,2168.4 L1219.15,2169.9 L1219.70,2170.2 L1220.24,2168.9 L1220.79,2167.6 L1221.33,2166.3 L1221.88,2166.2 L1222.42,2167.6 L1222.97,2169.1 L1223.52,2170.5 L1224.06,2171.3 L1224.61,2171.0 L1225.15,2170.8 L1225.70,2170.5 L1226.24,2170.6 L1226.79,2171.0 L1227.33,2171.4 L1227.88,2171.8 L1228.42,2172.3 L1228.97,2172.9 L1229.51,2173.6 L1230.06,2174.3 L1230.60,2175.1 L1231.15,2176.2 L1231.69,2177.2 L1232.24,2178.3 L1232.78,2178.5 L1233.33,2177.6 L1233.87,2176.6 L1234.42,2175.7 L1234.96,2175.2 L1235.51,2175.4 L1236.05,2175.5 L1236.60,2175.6 L1237.14,2175.5 L1237.69,2174.9 L1238.23,2174.3 L1238.78,2173.7 L1239.32,2173.9 L1239.87,2175.2 L1240.41,2176.5 L1240.96,2177.8 L1241.50,2178.4 L1242.05,2178.0 L1242.59,2177.6 L1243.14,2177.2 L1243.68,2177.3 L1244.23,2178.3 L1244.77,2179.3 L1245.32,2180.2 L1245.86,2180.6 L1246.41,2180.1 L1246.95,2179.7 L1247.50,2179.3 L1248.05,2179.6 L1248.59,2181.1 L1249.14,2182.5 L1249.68,2183.9 L1250.23,2183.8 L1250.77,2181.3 L1251.32,2178.9 L1251.86,2176.5 L1252.41,2175.6 L1252.95,2177.0 L1253.50,2178.4 L1254.04,2179.7 L1254.59,2180.9 L1255.13,2181.9 L1255.68,2182.9 L1256.22,2183.9 L1256.77,2184.2 L1257.31,2183.6 L1257.86,2182.9 L1258.40,2182.2 L1258.95,2181.8 L1259.49,2181.6 L1260.04,2181.5 L1260.58,2181.4 L1261.13,2181.5 L1261.67,2182.1 L1262.22,2182.6 L1262.76,2183.1 L1263.31,2183.2 L1263.85,2182.6 L1264.40,2182.1 L1264.94,2181.5 L1265.49,2181.6 L1266.03,2182.8 L1266.58,2184.0 L1267.12,2185.2 L1267.67,2186.6 L1268.21,2188.4 L1268.76,2190.1 L1269.30,2191.8 L1269.85,2192.5 L1270.39,2191.8 L1270.94,2191.1 L1271.48,2190.4 L1272.03,2189.4 L1272.58,2188.1 L1273.12,2186.8 L1273.67,2185.4 L1274.21,2184.8 L1274.76,2185.1 L1275.30,2185.4 L1275.85,2185.7 L1276.39,2186.1 L1276.94,2186.6 L1277.48,2187.1 L1278.03,2187.6 L1278.57,2188.3" fill="none" stroke="#000" stroke-width="6.4" stroke-linejoin="round" stroke-linecap="round"/></g>
<g clip-path="url(#cp)"><g transform="scale(1.33,1)" stroke="#0f0" stroke-width="2.1" fill="none" stroke-linejoin="round">
<path d="M133.68,797.7 L134.55,763.0 L135.41,727.2 L136.28,690.7 L137.14,654.0 L138.01,617.7 L138.87,582.3 L139.74,548.3 L140.60,516.6 L141.46,487.6 L142.33,461.9 L143.19,440.0 L144.06,422.4 L144.92,409.5 L145.79,401.5 L146.65,398.7 L147.52,401.1 L148.38,408.5 L149.24,421.0 L150.11,438.1 L150.97,459.6 L151.84,485.0 L152.70,513.7 L153.57,545.2 L154.43,579.0 L155.29,614.3 L156.16,650.6 L157.02,687.2 L157.89,723.8 L158.75,759.6 L159.62,794.4 L160.48,827.7 L161.35,859.3 L162.21,888.8 L163.07,916.2 L163.94,941.3 L164.80,964.1 L165.67,984.6 L166.53,1002.8 L167.40,1018.9 L168.26,1033.0 L169.13,1045.2 L169.99,1055.6 L170.85,1064.5 L171.72,1072.0 L172.58,1078.3 L173.45,1083.5 L174.31,1087.8 L175.18,1091.3 L176.04,1094.2 L176.91,1096.4 L177.77,1098.2 L178.63,1099.7 L179.50,1100.8 L180.36,1101.7 L181.23,1102.3 L182.09,1102.8 L182.96,1103.2 L183.82,1103.5 L184.69,1103.7 L185.55,1103.9 L186.41,1104.0 L187.28,1104.1 L188.14,1104.2 L189.01,1104.2"/>
<path d="M133.68,1062.3 L134.99,1053.2 L136.30,1042.7 L137.61,1030.5 L138.92,1016.5 L140.23,1000.7 L141.54,982.9 L142.84,963.0 L144.15,941.1 L145.46,917.1 L146.77,891.1 L148.08,863.3 L149.39,833.8 L150.69,802.9 L152.00,770.8 L153.31,738.0 L154.62,704.9 L155.93,671.8 L157.24,639.4 L158.55,608.2 L159.85,578.7 L161.16,551.4 L162.47,526.8 L163.78,505.5 L165.09,487.9 L166.40,474.3 L167.70,465.1 L169.01,460.3 L170.32,460.2 L171.63,464.7 L172.94,473.8 L174.25,487.2 L175.56,504.6 L176.86,525.7 L178.17,550.1 L179.48,577.3 L180.79,606.7 L182.10,637.9 L183.41,670.2 L184.71,703.2 L186.02,736.4 L187.33,769.2 L188.64,801.3 L189.95,832.3 L191.26,861.9 L192.57,889.8 L193.87,915.9 L195.18,940.0 L196.49,962.0 L197.80,982.0 L199.11,999.9 L200.42,1015.8 L201.72,1029.8 L203.03,1042.1 L204.34,1052.7 L205.65,1061.8 L206.96,1069.6 L208.27,1076.1 L209.58,1081.6 L210.88,1086.1 L212.19,1089.9 L213.50,1092.9 L214.81,1095.4 L216.12,1097.4 L217.43,1099.0 L218.73,1100.2 L220.04,1101.2 L221.35,1102.0 L222.66,1102.5 L223.97,1103.0 L225.28,1103.3 L226.59,1103.6 L227.89,1103.8 L229.20,1103.9 L230.51,1104.0 L231.82,1104.1 L233.13,1104.2 L234.44,1104.2"/>
<path d="M133.68,1104.1 L135.18,1104.0 L136.67,1103.9 L138.17,1103.8 L139.66,1103.6 L141.15,1103.4 L142.65,1103.1 L144.14,1102.6 L145.63,1102.1 L147.13,1101.4 L148.62,1100.5 L150.11,1099.3 L151.61,1097.9 L153.10,1096.1 L154.60,1093.9 L156.09,1091.1 L157.58,1087.7 L159.08,1083.6 L160.57,1078.7 L162.06,1072.9 L163.56,1066.0 L165.05,1057.9 L166.55,1048.5 L168.04,1037.6 L169.53,1025.3 L171.03,1011.3 L172.52,995.6 L174.01,978.1 L175.51,958.9 L177.00,938.0 L178.49,915.4 L179.99,891.3 L181.48,865.8 L182.98,839.2 L184.47,811.7 L185.96,783.6 L187.46,755.3 L188.95,727.3 L190.44,699.9 L191.94,673.6 L193.43,648.8 L194.93,626.1 L196.42,605.8 L197.91,588.3 L199.41,574.1 L200.90,563.3 L202.39,556.2 L203.89,553.0 L205.38,553.7 L206.87,558.4 L208.37,566.8 L209.86,578.9 L211.36,594.4 L212.85,612.9 L214.34,634.1 L215.84,657.7 L217.33,683.0 L218.82,709.8 L220.32,737.5 L221.81,765.7 L223.31,793.9 L224.80,821.8 L226.29,849.0 L227.79,875.3 L229.28,900.3 L230.77,923.9 L232.27,945.9 L233.76,966.2 L235.25,984.7 L236.75,1001.5 L238.24,1016.6 L239.74,1030.0 L241.23,1041.8 L242.72,1052.1 L244.22,1061.0 L245.71,1068.6 L247.20,1075.1 L248.70,1080.6 L250.19,1085.2 L251.69,1089.0 L253.18,1092.2 L254.67,1094.7 L256.17,1096.8 L257.66,1098.5 L259.15,1099.8 L260.65,1100.8 L262.14,1101.7 L263.63,1102.3 L265.13,1102.8 L266.62,1103.2 L268.12,1103.5 L269.61,1103.7 L271.10,1103.9 L272.60,1104.0 L274.09,1104.1 L275.58,1104.1 L277.08,1104.2 L278.57,1104.2"/>
<path d="M133.68,1102.9 L136.31,1102.4 L138.93,1101.8 L141.55,1101.0 L144.18,1099.9 L146.80,1098.6 L149.42,1097.0 L152.05,1094.9 L154.67,1092.4 L157.29,1089.3 L159.92,1085.5 L162.54,1080.9 L165.16,1075.4 L167.79,1068.9 L170.41,1061.2 L173.03,1052.2 L175.66,1041.8 L178.28,1029.9 L180.90,1016.3 L183.53,1001.0 L186.15,983.9 L188.77,965.0 L191.40,944.2 L194.02,921.8 L196.64,897.6 L199.26,872.0 L201.89,845.1 L204.51,817.1 L207.13,788.5 L209.76,759.4 L212.38,730.5 L215.00,702.0 L217.63,674.4 L220.25,648.3 L222.87,624.1 L225.50,602.3 L228.12,583.2 L230.74,567.3 L233.37,555.0 L235.99,546.4 L238.61,541.7 L241.24,541.2 L243.86,544.6 L246.48,552.1 L249.11,563.4 L251.73,578.3 L254.35,596.5 L256.98,617.6 L259.60,641.2 L262.22,666.8 L264.85,693.9 L267.47,722.2 L270.09,751.1 L272.72,780.2 L275.34,809.0 L277.96,837.2 L280.58,864.4 L283.21,890.4 L285.83,915.0 L288.45,938.0 L291.08,959.2 L293.70,978.6 L296.32,996.2 L298.95,1012.1 L301.57,1026.1 L304.19,1038.5 L306.82,1049.4 L309.44,1058.7 L312.06,1066.8 L314.69,1073.6 L317.31,1079.4 L319.93,1084.3 L322.56,1088.3 L325.18,1091.6 L327.80,1094.3 L330.43,1096.5 L333.05,1098.2 L335.67,1099.6 L338.30,1100.7 L340.92,1101.6 L343.54,1102.2 L346.17,1102.8 L348.79,1103.1 L351.41,1103.4 L354.04,1103.7 L356.66,1103.8 L359.28,1104.0 L361.90,1104.1 L364.53,1104.1 L367.15,1104.2 L369.77,1104.2"/>
<path d="M133.68,1103.3 L138.51,1102.9 L143.33,1102.5 L148.16,1101.9 L152.98,1101.1 L157.81,1100.0 L162.63,1098.7 L167.46,1097.1 L172.28,1095.0 L177.10,1092.5 L181.93,1089.3 L186.75,1085.4 L191.58,1080.6 L196.40,1074.9 L201.23,1068.1 L206.05,1060.0 L210.88,1050.5 L215.70,1039.4 L220.52,1026.6 L225.35,1011.9 L230.17,995.3 L235.00,976.6 L239.82,955.7 L244.65,932.6 L249.47,907.4 L254.30,880.1 L259.12,850.9 L263.94,819.9 L268.77,787.4 L273.59,753.8 L278.42,719.3 L283.24,684.5 L288.07,649.8 L292.89,615.8 L297.72,583.1 L302.54,552.1 L307.36,523.5 L312.19,497.7 L317.01,475.4 L321.84,457.0 L326.66,442.7 L331.49,433.1 L336.31,428.1 L341.14,428.1 L345.96,432.9 L350.78,442.4 L355.61,456.5 L360.43,474.8 L365.26,497.0 L370.08,522.6 L374.91,551.2 L379.73,582.1 L384.56,614.8 L389.38,648.8 L394.20,683.4 L399.03,718.3 L403.85,752.7 L408.68,786.4 L413.50,818.9 L418.33,850.0 L423.15,879.3 L427.98,906.6 L432.80,931.9 L437.62,955.0 L442.45,975.9 L447.27,994.7 L452.10,1011.5 L456.92,1026.2 L461.75,1039.1 L466.57,1050.2 L471.40,1059.8 L476.22,1067.9 L481.04,1074.7 L485.87,1080.5 L490.69,1085.3 L495.52,1089.2 L500.34,1092.4 L505.17,1095.0 L509.99,1097.0 L514.82,1098.7 L519.64,1100.0 L524.46,1101.0 L529.29,1101.8 L534.11,1102.5 L538.94,1102.9 L543.76,1103.3 L548.59,1103.6 L553.41,1103.8 L558.24,1103.9 L563.06,1104.0 L567.88,1104.1 L572.71,1104.2 L577.53,1104.2"/>
<path d="M308.57,1104.2 L311.19,1104.2 L313.80,1104.2 L316.42,1104.1 L319.03,1104.1 L321.65,1104.0 L324.27,1103.8 L326.88,1103.7 L329.50,1103.4 L332.11,1103.1 L334.73,1102.7 L337.34,1102.2 L339.96,1101.6 L342.57,1100.8 L345.19,1099.7 L347.81,1098.4 L350.42,1096.8 L353.04,1094.7 L355.65,1092.2 L358.27,1089.2 L360.88,1085.6 L363.50,1081.3 L366.12,1076.1 L368.73,1070.1 L371.35,1063.0 L373.96,1054.9 L376.58,1045.6 L379.19,1035.0 L381.81,1023.1 L384.42,1009.8 L387.04,995.2 L389.66,979.2 L392.27,961.9 L394.89,943.4 L397.50,923.7 L400.12,903.1 L402.73,881.8 L405.35,860.0 L407.97,837.9 L410.58,816.0 L413.20,794.4 L415.81,773.7 L418.43,754.1 L421.04,736.0 L423.66,719.7 L426.27,705.6 L428.89,694.0 L431.51,685.0 L434.12,679.0 L436.74,675.9 L439.35,675.9 L441.97,679.0 L444.58,685.0 L447.20,694.0 L449.82,705.6 L452.43,719.7 L455.05,736.0 L457.66,754.1 L460.28,773.7 L462.89,794.4 L465.51,816.0 L468.12,837.9 L470.74,860.0 L473.36,881.8 L475.97,903.1 L478.59,923.7 L481.20,943.4 L483.82,961.9 L486.43,979.2 L489.05,995.2 L491.67,1009.8 L494.28,1023.1 L496.90,1035.0 L499.51,1045.6 L502.13,1054.9 L504.74,1063.0 L507.36,1070.1 L509.97,1076.1 L512.59,1081.3 L515.21,1085.6 L517.82,1089.2 L520.44,1092.2 L523.05,1094.7 L525.67,1096.8 L528.28,1098.4 L530.90,1099.7 L533.52,1100.8 L536.13,1101.6 L538.75,1102.2 L541.36,1102.7 L543.98,1103.1 L546.59,1103.4 L549.21,1103.7 L551.83,1103.8 L554.44,1104.0 L557.06,1104.1 L559.67,1104.1 L562.29,1104.2 L564.90,1104.2 L567.52,1104.2"/>
<path d="M370.23,1104.2 L373.10,1104.2 L375.97,1104.1 L378.84,1104.1 L381.71,1104.0 L384.58,1103.9 L387.45,1103.7 L390.32,1103.5 L393.19,1103.3 L396.06,1102.9 L398.93,1102.4 L401.80,1101.8 L404.68,1101.1 L407.55,1100.1 L410.42,1098.8 L413.29,1097.3 L416.16,1095.3 L419.03,1092.9 L421.90,1090.0 L424.77,1086.4 L427.64,1082.1 L430.51,1076.9 L433.38,1070.8 L436.25,1063.6 L439.13,1055.2 L442.00,1045.5 L444.87,1034.5 L447.74,1021.9 L450.61,1007.7 L453.48,992.0 L456.35,974.6 L459.22,955.6 L462.09,935.0 L464.96,912.9 L467.83,889.6 L470.70,865.1 L473.57,839.7 L476.45,813.8 L479.32,787.5 L482.19,761.4 L485.06,735.8 L487.93,711.2 L490.80,687.9 L493.67,666.3 L496.54,647.0 L499.41,630.2 L502.28,616.4 L505.15,605.7 L508.02,598.5 L510.90,594.9 L513.77,594.9 L516.64,598.5 L519.51,605.7 L522.38,616.4 L525.25,630.2 L528.12,647.0 L530.99,666.3 L533.86,687.9 L536.73,711.2 L539.60,735.8 L542.47,761.4 L545.35,787.5 L548.22,813.8 L551.09,839.7 L553.96,865.1 L556.83,889.6 L559.70,912.9 L562.57,935.0 L565.44,955.6 L568.31,974.6 L571.18,992.0 L574.05,1007.7 L576.92,1021.9 L579.79,1034.5 L582.67,1045.5 L585.54,1055.2 L588.41,1063.6 L591.28,1070.8 L594.15,1076.9 L597.02,1082.1 L599.89,1086.4 L602.76,1090.0 L605.63,1092.9 L608.50,1095.3 L611.37,1097.3 L614.24,1098.8 L617.12,1100.1 L619.99,1101.1 L622.86,1101.8 L625.73,1102.4 L628.60,1102.9 L631.47,1103.3 L634.34,1103.5 L637.21,1103.7 L640.08,1103.9 L642.95,1104.0 L645.82,1104.1 L648.69,1104.1 L651.57,1104.2 L654.44,1104.2"/>
<path d="M491.80,1104.3 L494.64,1104.2 L497.48,1104.2 L500.32,1104.2 L503.16,1104.1 L506.00,1104.1 L508.84,1104.0 L511.68,1103.9 L514.52,1103.7 L517.35,1103.6 L520.19,1103.3 L523.03,1103.0 L525.87,1102.6 L528.71,1102.0 L531.55,1101.4 L534.39,1100.5 L537.23,1099.5 L540.07,1098.2 L542.90,1096.6 L545.74,1094.7 L548.58,1092.4 L551.42,1089.7 L554.26,1086.4 L557.10,1082.5 L559.94,1078.1 L562.78,1072.9 L565.62,1067.0 L568.46,1060.3 L571.29,1052.7 L574.13,1044.3 L576.97,1035.0 L579.81,1024.8 L582.65,1013.8 L585.49,1002.0 L588.33,989.5 L591.17,976.5 L594.01,962.9 L596.84,949.0 L599.68,935.0 L602.52,921.1 L605.36,907.4 L608.20,894.2 L611.04,881.7 L613.88,870.2 L616.72,859.9 L619.56,851.0 L622.39,843.6 L625.23,837.9 L628.07,834.0 L630.91,832.0 L633.75,832.0 L636.59,834.0 L639.43,837.9 L642.27,843.6 L645.11,851.0 L647.94,859.9 L650.78,870.2 L653.62,881.7 L656.46,894.2 L659.30,907.4 L662.14,921.1 L664.98,935.0 L667.82,949.0 L670.66,962.9 L673.50,976.5 L676.33,989.5 L679.17,1002.0 L682.01,1013.8 L684.85,1024.8 L687.69,1035.0 L690.53,1044.3 L693.37,1052.7 L696.21,1060.3 L699.05,1067.0 L701.88,1072.9 L704.72,1078.1 L707.56,1082.5 L710.40,1086.4 L713.24,1089.7 L716.08,1092.4 L718.92,1094.7 L721.76,1096.6 L724.60,1098.2 L727.43,1099.5 L730.27,1100.5 L733.11,1101.4 L735.95,1102.0 L738.79,1102.6 L741.63,1103.0 L744.47,1103.3 L747.31,1103.6 L750.15,1103.7 L752.98,1103.9 L755.82,1104.0 L758.66,1104.1 L761.50,1104.1 L764.34,1104.2 L767.18,1104.2 L770.02,1104.2 L772.86,1104.3"/>
<path d="M718.50,1104.3 L722.71,1104.3 L726.92,1104.3 L731.13,1104.3 L735.34,1104.3 L739.55,1104.2 L743.76,1104.2 L747.97,1104.2 L752.18,1104.1 L756.39,1104.1 L760.60,1104.0 L764.81,1103.9 L769.02,1103.8 L773.23,1103.7 L777.44,1103.5 L781.65,1103.2 L785.86,1102.9 L790.08,1102.6 L794.29,1102.1 L798.50,1101.6 L802.71,1100.9 L806.92,1100.1 L811.13,1099.2 L815.34,1098.1 L819.55,1096.8 L823.76,1095.4 L827.97,1093.7 L832.18,1091.8 L836.39,1089.6 L840.60,1087.2 L844.81,1084.6 L849.02,1081.7 L853.23,1078.6 L857.44,1075.2 L861.65,1071.7 L865.86,1067.9 L870.08,1064.1 L874.29,1060.1 L878.50,1056.2 L882.71,1052.2 L886.92,1048.3 L891.13,1044.5 L895.34,1041.0 L899.55,1037.7 L903.76,1034.8 L907.97,1032.2 L912.18,1030.1 L916.39,1028.5 L920.60,1027.4 L924.81,1026.9 L929.02,1026.9 L933.23,1027.4 L937.44,1028.5 L941.65,1030.1 L945.86,1032.2 L950.08,1034.8 L954.29,1037.7 L958.50,1041.0 L962.71,1044.5 L966.92,1048.3 L971.13,1052.2 L975.34,1056.2 L979.55,1060.1 L983.76,1064.1 L987.97,1067.9 L992.18,1071.7 L996.39,1075.2 L1000.60,1078.6 L1004.81,1081.7 L1009.02,1084.6 L1013.23,1087.2 L1017.44,1089.6 L1021.65,1091.8 L1025.86,1093.7 L1030.08,1095.4 L1034.29,1096.8 L1038.50,1098.1 L1042.71,1099.2 L1046.92,1100.1 L1051.13,1100.9 L1055.34,1101.6 L1059.55,1102.1 L1063.76,1102.6 L1067.97,1102.9 L1072.18,1103.2 L1076.39,1103.5 L1080.60,1103.7 L1084.81,1103.8 L1089.02,1103.9 L1093.23,1104.0 L1097.44,1104.1 L1101.65,1104.1 L1105.86,1104.2 L1110.08,1104.2 L1114.29,1104.2 L1118.50,1104.3 L1122.71,1104.3 L1126.92,1104.3 L1131.13,1104.3 L1135.34,1104.3"/>
<path d="M133.68,2117.2 L134.50,2092.7 L135.31,2064.9 L136.13,2033.8 L136.94,1999.4 L137.76,1961.5 L138.57,1920.4 L139.39,1876.1 L140.21,1828.9 L141.02,1779.3 L141.84,1727.6 L142.65,1674.4 L143.47,1620.5 L144.28,1566.4 L145.10,1513.2 L145.91,1461.5 L146.73,1412.4 L147.54,1366.6 L148.36,1325.1 L149.17,1288.7 L149.99,1258.1 L150.80,1234.0 L151.62,1216.8 L152.43,1207.0 L153.25,1204.8 L154.06,1210.1 L154.88,1222.9 L155.69,1242.9 L156.51,1269.7 L157.32,1302.7 L158.14,1341.3 L158.95,1384.6 L159.77,1431.8 L160.58,1482.1 L161.40,1534.5 L162.21,1588.2 L163.03,1642.3 L163.84,1696.0 L164.66,1748.6 L165.47,1799.6 L166.29,1848.3 L167.10,1894.3 L167.92,1937.3 L168.73,1977.2 L169.55,2013.7 L170.36,2046.8 L171.18,2076.5 L171.99,2102.9 L172.81,2126.3 L173.63,2146.6 L174.44,2164.3 L175.26,2179.5 L176.07,2192.3 L176.89,2203.2 L177.70,2212.3 L178.52,2219.9 L179.33,2226.1 L180.15,2231.2 L180.96,2235.3 L181.78,2238.6 L182.59,2241.2 L183.41,2243.2 L184.22,2244.9 L185.04,2246.1 L185.85,2247.1 L186.67,2247.8 L187.48,2248.4 L188.30,2248.8 L189.11,2249.2 L189.93,2249.4 L190.74,2249.6 L191.56,2249.7 L192.37,2249.8 L193.19,2249.8"/>
<path d="M136.50,2249.9 L137.38,2249.8 L138.26,2249.8 L139.14,2249.7 L140.02,2249.6 L140.90,2249.4 L141.78,2249.1 L142.66,2248.8 L143.54,2248.4 L144.42,2247.9 L145.30,2247.2 L146.18,2246.3 L147.06,2245.1 L147.94,2243.6 L148.82,2241.7 L149.70,2239.3 L150.58,2236.4 L151.46,2232.7 L152.34,2228.2 L153.22,2222.8 L154.10,2216.2 L154.98,2208.4 L155.86,2199.1 L156.75,2188.1 L157.63,2175.4 L158.51,2160.7 L159.39,2143.8 L160.27,2124.7 L161.15,2103.2 L162.03,2079.3 L162.91,2052.8 L163.79,2023.9 L164.67,1992.6 L165.55,1959.1 L166.43,1923.6 L167.31,1886.4 L168.19,1847.8 L169.07,1808.4 L169.95,1768.5 L170.83,1728.9 L171.71,1690.0 L172.59,1652.5 L173.47,1617.1 L174.35,1584.3 L175.23,1555.0 L176.11,1529.5 L176.99,1508.4 L177.87,1492.2 L178.75,1481.3 L179.63,1475.7 L180.52,1475.7 L181.40,1481.3 L182.28,1492.2 L183.16,1508.4 L184.04,1529.5 L184.92,1555.0 L185.80,1584.3 L186.68,1617.1 L187.56,1652.5 L188.44,1690.0 L189.32,1728.9 L190.20,1768.5 L191.08,1808.4 L191.96,1847.8 L192.84,1886.4 L193.72,1923.6 L194.60,1959.1 L195.48,1992.6 L196.36,2023.9 L197.24,2052.8 L198.12,2079.3 L199.00,2103.2 L199.88,2124.7 L200.76,2143.8 L201.64,2160.7 L202.52,2175.4 L203.41,2188.1 L204.29,2199.1 L205.17,2208.4 L206.05,2216.2 L206.93,2222.8 L207.81,2228.2 L208.69,2232.7 L209.57,2236.4 L210.45,2239.3 L211.33,2241.7 L212.21,2243.6 L213.09,2245.1 L213.97,2246.3 L214.85,2247.2 L215.73,2247.9 L216.61,2248.4 L217.49,2248.8 L218.37,2249.1 L219.25,2249.4 L220.13,2249.6 L221.01,2249.7 L221.89,2249.8 L222.77,2249.8 L223.65,2249.9"/>
<path d="M162.17,2249.9 L163.16,2249.8 L164.16,2249.8 L165.15,2249.7 L166.15,2249.6 L167.14,2249.4 L168.14,2249.2 L169.13,2248.9 L170.13,2248.4 L171.12,2247.9 L172.12,2247.2 L173.11,2246.3 L174.11,2245.1 L175.10,2243.7 L176.10,2241.8 L177.09,2239.4 L178.09,2236.5 L179.08,2232.9 L180.08,2228.5 L181.07,2223.1 L182.07,2216.6 L183.06,2208.8 L184.06,2199.6 L185.06,2188.8 L186.05,2176.3 L187.05,2161.7 L188.04,2145.1 L189.04,2126.2 L190.03,2104.9 L191.03,2081.2 L192.02,2055.1 L193.02,2026.5 L194.01,1995.6 L195.01,1962.5 L196.00,1927.4 L197.00,1890.6 L197.99,1852.5 L198.99,1813.5 L199.98,1774.1 L200.98,1734.9 L201.97,1696.4 L202.97,1659.3 L203.96,1624.3 L204.96,1592.0 L205.95,1562.9 L206.95,1537.8 L207.95,1516.9 L208.94,1500.9 L209.94,1490.1 L210.93,1484.6 L211.93,1484.6 L212.92,1490.1 L213.92,1500.9 L214.91,1516.9 L215.91,1537.8 L216.90,1562.9 L217.90,1592.0 L218.89,1624.3 L219.89,1659.3 L220.88,1696.4 L221.88,1734.9 L222.87,1774.1 L223.87,1813.5 L224.86,1852.5 L225.86,1890.6 L226.85,1927.4 L227.85,1962.5 L228.84,1995.6 L229.84,2026.5 L230.84,2055.1 L231.83,2081.2 L232.83,2104.9 L233.82,2126.2 L234.82,2145.1 L235.81,2161.7 L236.81,2176.3 L237.80,2188.8 L238.80,2199.6 L239.79,2208.8 L240.79,2216.6 L241.78,2223.1 L242.78,2228.5 L243.77,2232.9 L244.77,2236.5 L245.76,2239.4 L246.76,2241.8 L247.75,2243.7 L248.75,2245.1 L249.74,2246.3 L250.74,2247.2 L251.73,2247.9 L252.73,2248.4 L253.73,2248.9 L254.72,2249.2 L255.72,2249.4 L256.71,2249.6 L257.71,2249.7 L258.70,2249.8 L259.70,2249.8 L260.69,2249.9"/>
<path d="M204.44,2249.9 L205.78,2249.9 L207.12,2249.8 L208.46,2249.7 L209.79,2249.7 L211.13,2249.5 L212.47,2249.3 L213.81,2249.1 L215.15,2248.8 L216.49,2248.4 L217.83,2247.8 L219.17,2247.1 L220.51,2246.2 L221.85,2245.0 L223.19,2243.6 L224.53,2241.7 L225.87,2239.4 L227.21,2236.6 L228.55,2233.1 L229.89,2228.9 L231.23,2223.8 L232.57,2217.7 L233.91,2210.5 L235.25,2202.0 L236.59,2192.1 L237.93,2180.7 L239.27,2167.6 L240.61,2152.8 L241.95,2136.1 L243.29,2117.6 L244.63,2097.0 L245.97,2074.6 L247.31,2050.4 L248.65,2024.4 L249.99,1996.8 L251.33,1967.9 L252.67,1938.0 L254.01,1907.4 L255.35,1876.5 L256.68,1845.7 L258.02,1815.6 L259.36,1786.5 L260.70,1759.0 L262.04,1733.6 L263.38,1710.8 L264.72,1691.1 L266.06,1674.7 L267.40,1662.2 L268.74,1653.6 L270.08,1649.3 L271.42,1649.3 L272.76,1653.6 L274.10,1662.2 L275.44,1674.7 L276.78,1691.1 L278.12,1710.8 L279.46,1733.6 L280.80,1759.0 L282.14,1786.5 L283.48,1815.6 L284.82,1845.7 L286.16,1876.5 L287.50,1907.4 L288.84,1938.0 L290.18,1967.9 L291.52,1996.8 L292.86,2024.4 L294.20,2050.4 L295.54,2074.6 L296.88,2097.0 L298.22,2117.6 L299.56,2136.1 L300.90,2152.8 L302.24,2167.6 L303.57,2180.7 L304.91,2192.1 L306.25,2202.0 L307.59,2210.5 L308.93,2217.7 L310.27,2223.8 L311.61,2228.9 L312.95,2233.1 L314.29,2236.6 L315.63,2239.4 L316.97,2241.7 L318.31,2243.6 L319.65,2245.0 L320.99,2246.2 L322.33,2247.1 L323.67,2247.8 L325.01,2248.4 L326.35,2248.8 L327.69,2249.1 L329.03,2249.3 L330.37,2249.5 L331.71,2249.7 L333.05,2249.7 L334.39,2249.8 L335.73,2249.9 L337.07,2249.9"/>
<path d="M228.80,2249.9 L230.68,2249.9 L232.56,2249.8 L234.44,2249.7 L236.32,2249.6 L238.21,2249.5 L240.09,2249.3 L241.97,2249.0 L243.85,2248.7 L245.73,2248.2 L247.62,2247.6 L249.50,2246.9 L251.38,2245.9 L253.26,2244.6 L255.14,2243.0 L257.03,2241.0 L258.91,2238.5 L260.79,2235.4 L262.67,2231.7 L264.55,2227.1 L266.44,2221.6 L268.32,2215.0 L270.20,2207.1 L272.08,2198.0 L273.96,2187.2 L275.85,2174.9 L277.73,2160.7 L279.61,2144.6 L281.49,2126.5 L283.37,2106.4 L285.26,2084.1 L287.14,2059.8 L289.02,2033.5 L290.90,2005.3 L292.78,1975.4 L294.67,1944.1 L296.55,1911.7 L298.43,1878.5 L300.31,1845.0 L302.19,1811.6 L304.08,1778.8 L305.96,1747.3 L307.84,1717.5 L309.72,1690.0 L311.60,1665.3 L313.49,1643.8 L315.37,1626.1 L317.25,1612.5 L319.13,1603.3 L321.01,1598.6 L322.90,1598.6 L324.78,1603.3 L326.66,1612.5 L328.54,1626.1 L330.42,1643.8 L332.31,1665.3 L334.19,1690.0 L336.07,1717.5 L337.95,1747.3 L339.83,1778.8 L341.72,1811.6 L343.60,1845.0 L345.48,1878.5 L347.36,1911.7 L349.24,1944.1 L351.13,1975.4 L353.01,2005.3 L354.89,2033.5 L356.77,2059.8 L358.65,2084.1 L360.54,2106.4 L362.42,2126.5 L364.30,2144.6 L366.18,2160.7 L368.06,2174.9 L369.95,2187.2 L371.83,2198.0 L373.71,2207.1 L375.59,2215.0 L377.47,2221.6 L379.36,2227.1 L381.24,2231.7 L383.12,2235.4 L385.00,2238.5 L386.88,2241.0 L388.77,2243.0 L390.65,2244.6 L392.53,2245.9 L394.41,2246.9 L396.29,2247.6 L398.17,2248.2 L400.06,2248.7 L401.94,2249.0 L403.82,2249.3 L405.70,2249.5 L407.58,2249.6 L409.47,2249.7 L411.35,2249.8 L413.23,2249.9 L415.11,2249.9"/>
<path d="M316.26,2250.0 L317.01,2249.9 L317.77,2249.9 L318.53,2249.9 L319.29,2249.8 L320.05,2249.8 L320.81,2249.7 L321.57,2249.5 L322.33,2249.4 L323.09,2249.2 L323.85,2248.9 L324.61,2248.6 L325.37,2248.1 L326.12,2247.5 L326.88,2246.8 L327.64,2245.9 L328.40,2244.7 L329.16,2243.3 L329.92,2241.5 L330.68,2239.4 L331.44,2236.9 L332.20,2233.8 L332.96,2230.2 L333.72,2226.0 L334.48,2221.0 L335.23,2215.3 L335.99,2208.8 L336.75,2201.3 L337.51,2193.0 L338.27,2183.7 L339.03,2173.4 L339.79,2162.2 L340.55,2150.0 L341.31,2137.0 L342.07,2123.2 L342.83,2108.8 L343.59,2093.8 L344.34,2078.5 L345.10,2063.0 L345.86,2047.6 L346.62,2032.5 L347.38,2017.9 L348.14,2004.2 L348.90,1991.5 L349.66,1980.1 L350.42,1970.2 L351.18,1962.0 L351.94,1955.7 L352.70,1951.4 L353.46,1949.3 L354.21,1949.3 L354.97,1951.4 L355.73,1955.7 L356.49,1962.0 L357.25,1970.2 L358.01,1980.1 L358.77,1991.5 L359.53,2004.2 L360.29,2017.9 L361.05,2032.5 L361.81,2047.6 L362.57,2063.0 L363.32,2078.5 L364.08,2093.8 L364.84,2108.8 L365.60,2123.2 L366.36,2137.0 L367.12,2150.0 L367.88,2162.2 L368.64,2173.4 L369.40,2183.7 L370.16,2193.0 L370.92,2201.3 L371.68,2208.8 L372.43,2215.3 L373.19,2221.0 L373.95,2226.0 L374.71,2230.2 L375.47,2233.8 L376.23,2236.9 L376.99,2239.4 L377.75,2241.5 L378.51,2243.3 L379.27,2244.7 L380.03,2245.9 L380.79,2246.8 L381.54,2247.5 L382.30,2248.1 L383.06,2248.6 L383.82,2248.9 L384.58,2249.2 L385.34,2249.4 L386.10,2249.5 L386.86,2249.7 L387.62,2249.8 L388.38,2249.8 L389.14,2249.9 L389.90,2249.9 L390.65,2249.9 L391.41,2250.0"/>
<path d="M303.98,2249.9 L305.55,2249.9 L307.11,2249.8 L308.67,2249.8 L310.24,2249.7 L311.80,2249.6 L313.36,2249.4 L314.93,2249.2 L316.49,2249.0 L318.05,2248.6 L319.61,2248.2 L321.18,2247.6 L322.74,2246.8 L324.30,2245.8 L325.87,2244.6 L327.43,2243.0 L328.99,2241.1 L330.56,2238.7 L332.12,2235.7 L333.68,2232.2 L335.24,2227.8 L336.81,2222.7 L338.37,2216.6 L339.93,2209.4 L341.50,2201.1 L343.06,2191.5 L344.62,2180.4 L346.19,2167.9 L347.75,2153.8 L349.31,2138.1 L350.87,2120.8 L352.44,2101.8 L354.00,2081.3 L355.56,2059.3 L357.13,2036.1 L358.69,2011.7 L360.25,1986.4 L361.82,1960.5 L363.38,1934.4 L364.94,1908.4 L366.50,1882.9 L368.07,1858.3 L369.63,1835.1 L371.19,1813.7 L372.76,1794.4 L374.32,1777.7 L375.88,1763.9 L377.45,1753.3 L379.01,1746.1 L380.57,1742.5 L382.13,1742.5 L383.70,1746.1 L385.26,1753.3 L386.82,1763.9 L388.39,1777.7 L389.95,1794.4 L391.51,1813.7 L393.08,1835.1 L394.64,1858.3 L396.20,1882.9 L397.76,1908.4 L399.33,1934.4 L400.89,1960.5 L402.45,1986.4 L404.02,2011.7 L405.58,2036.1 L407.14,2059.3 L408.71,2081.3 L410.27,2101.8 L411.83,2120.8 L413.39,2138.1 L414.96,2153.8 L416.52,2167.9 L418.08,2180.4 L419.65,2191.5 L421.21,2201.1 L422.77,2209.4 L424.34,2216.6 L425.90,2222.7 L427.46,2227.8 L429.02,2232.2 L430.59,2235.7 L432.15,2238.7 L433.71,2241.1 L435.28,2243.0 L436.84,2244.6 L438.40,2245.8 L439.97,2246.8 L441.53,2247.6 L443.09,2248.2 L444.65,2248.6 L446.22,2249.0 L447.78,2249.2 L449.34,2249.4 L450.91,2249.6 L452.47,2249.7 L454.03,2249.8 L455.60,2249.8 L457.16,2249.9 L458.72,2249.9"/>
<path d="M344.36,2249.9 L346.21,2249.9 L348.06,2249.8 L349.91,2249.8 L351.76,2249.7 L353.61,2249.6 L355.46,2249.4 L357.31,2249.2 L359.16,2248.9 L361.01,2248.5 L362.86,2248.0 L364.71,2247.4 L366.56,2246.5 L368.41,2245.5 L370.26,2244.1 L372.11,2242.5 L373.96,2240.4 L375.81,2237.8 L377.66,2234.6 L379.51,2230.8 L381.36,2226.2 L383.21,2220.6 L385.06,2214.1 L386.91,2206.4 L388.76,2197.4 L390.61,2187.0 L392.46,2175.2 L394.31,2161.7 L396.16,2146.5 L398.01,2129.6 L399.86,2111.0 L401.71,2090.6 L403.56,2068.6 L405.41,2044.9 L407.26,2019.9 L409.11,1993.7 L410.96,1966.5 L412.81,1938.7 L414.66,1910.6 L416.51,1882.6 L418.36,1855.2 L420.21,1828.7 L422.06,1803.8 L423.91,1780.7 L425.76,1760.0 L427.61,1742.0 L429.46,1727.2 L431.31,1715.8 L433.16,1708.0 L435.01,1704.1 L436.86,1704.1 L438.71,1708.0 L440.57,1715.8 L442.42,1727.2 L444.27,1742.0 L446.12,1760.0 L447.97,1780.7 L449.82,1803.8 L451.67,1828.7 L453.52,1855.2 L455.37,1882.6 L457.22,1910.6 L459.07,1938.7 L460.92,1966.5 L462.77,1993.7 L464.62,2019.9 L466.47,2044.9 L468.32,2068.6 L470.17,2090.6 L472.02,2111.0 L473.87,2129.6 L475.72,2146.5 L477.57,2161.7 L479.42,2175.2 L481.27,2187.0 L483.12,2197.4 L484.97,2206.4 L486.82,2214.1 L488.67,2220.6 L490.52,2226.2 L492.37,2230.8 L494.22,2234.6 L496.07,2237.8 L497.92,2240.4 L499.77,2242.5 L501.62,2244.1 L503.47,2245.5 L505.32,2246.5 L507.17,2247.4 L509.02,2248.0 L510.87,2248.5 L512.72,2248.9 L514.57,2249.2 L516.42,2249.4 L518.27,2249.6 L520.12,2249.7 L521.97,2249.8 L523.82,2249.8 L525.67,2249.9 L527.52,2249.9"/>
<path d="M418.27,2249.9 L419.20,2249.9 L420.12,2249.9 L421.05,2249.8 L421.97,2249.8 L422.90,2249.7 L423.82,2249.5 L424.75,2249.4 L425.67,2249.2 L426.60,2248.9 L427.52,2248.5 L428.45,2248.0 L429.37,2247.4 L430.30,2246.6 L431.22,2245.6 L432.15,2244.4 L433.07,2242.8 L434.00,2240.9 L434.92,2238.5 L435.85,2235.6 L436.77,2232.1 L437.70,2228.0 L438.62,2223.1 L439.55,2217.3 L440.47,2210.6 L441.40,2202.8 L442.32,2193.9 L443.25,2183.8 L444.17,2172.5 L445.10,2159.8 L446.02,2145.8 L446.95,2130.6 L447.87,2114.0 L448.80,2096.3 L449.72,2077.6 L450.65,2057.9 L451.57,2037.6 L452.50,2016.7 L453.42,1995.7 L454.35,1974.7 L455.27,1954.2 L456.20,1934.4 L457.12,1915.6 L458.05,1898.4 L458.97,1882.8 L459.90,1869.4 L460.82,1858.3 L461.75,1849.7 L462.67,1843.9 L463.60,1841.0 L464.52,1841.0 L465.45,1843.9 L466.37,1849.7 L467.30,1858.3 L468.22,1869.4 L469.15,1882.8 L470.07,1898.4 L471.00,1915.6 L471.92,1934.4 L472.85,1954.2 L473.77,1974.7 L474.70,1995.7 L475.62,2016.7 L476.55,2037.6 L477.47,2057.9 L478.40,2077.6 L479.32,2096.3 L480.25,2114.0 L481.17,2130.6 L482.10,2145.8 L483.02,2159.8 L483.95,2172.5 L484.87,2183.8 L485.80,2193.9 L486.72,2202.8 L487.65,2210.6 L488.57,2217.3 L489.50,2223.1 L490.42,2228.0 L491.35,2232.1 L492.27,2235.6 L493.20,2238.5 L494.12,2240.9 L495.05,2242.8 L495.97,2244.4 L496.90,2245.6 L497.82,2246.6 L498.75,2247.4 L499.67,2248.0 L500.60,2248.5 L501.52,2248.9 L502.45,2249.2 L503.37,2249.4 L504.30,2249.5 L505.22,2249.7 L506.15,2249.8 L507.07,2249.8 L508.00,2249.9 L508.92,2249.9 L509.85,2249.9"/>
<path d="M442.77,2249.9 L443.83,2249.8 L444.88,2249.8 L445.94,2249.7 L447.00,2249.5 L448.06,2249.4 L449.12,2249.1 L450.18,2248.8 L451.24,2248.4 L452.30,2247.8 L453.36,2247.1 L454.42,2246.2 L455.48,2245.0 L456.53,2243.5 L457.59,2241.5 L458.65,2239.1 L459.71,2236.1 L460.77,2232.4 L461.83,2227.8 L462.89,2222.2 L463.95,2215.5 L465.01,2207.5 L466.07,2198.1 L467.12,2186.9 L468.18,2173.9 L469.24,2158.9 L470.30,2141.8 L471.36,2122.3 L472.42,2100.4 L473.48,2075.9 L474.54,2049.0 L475.60,2019.5 L476.66,1987.6 L477.71,1953.5 L478.77,1917.3 L479.83,1879.3 L480.89,1840.0 L481.95,1799.8 L483.01,1759.2 L484.07,1718.7 L485.13,1679.1 L486.19,1640.8 L487.25,1604.7 L488.30,1571.4 L489.36,1541.4 L490.42,1515.4 L491.48,1494.0 L492.54,1477.5 L493.60,1466.3 L494.66,1460.6 L495.72,1460.6 L496.78,1466.3 L497.84,1477.5 L498.89,1494.0 L499.95,1515.4 L501.01,1541.4 L502.07,1571.4 L503.13,1604.7 L504.19,1640.8 L505.25,1679.1 L506.31,1718.7 L507.37,1759.2 L508.43,1799.8 L509.48,1840.0 L510.54,1879.3 L511.60,1917.3 L512.66,1953.5 L513.72,1987.6 L514.78,2019.5 L515.84,2049.0 L516.90,2075.9 L517.96,2100.4 L519.02,2122.3 L520.07,2141.8 L521.13,2158.9 L522.19,2173.9 L523.25,2186.9 L524.31,2198.1 L525.37,2207.5 L526.43,2215.5 L527.49,2222.2 L528.55,2227.8 L529.61,2232.4 L530.66,2236.1 L531.72,2239.1 L532.78,2241.5 L533.84,2243.5 L534.90,2245.0 L535.96,2246.2 L537.02,2247.1 L538.08,2247.8 L539.14,2248.4 L540.20,2248.8 L541.25,2249.1 L542.31,2249.4 L543.37,2249.5 L544.43,2249.7 L545.49,2249.8 L546.55,2249.8 L547.61,2249.9"/>
<path d="M554.59,2249.2 L555.13,2249.2 L555.67,2249.2 L556.21,2249.2 L556.75,2249.1 L557.30,2249.1 L557.84,2249.1 L558.38,2249.1 L558.92,2249.1 L559.47,2249.0 L560.01,2249.0 L560.55,2249.0 L561.09,2249.0 L561.63,2248.9 L562.18,2248.9 L562.72,2248.9 L563.26,2248.8 L563.80,2248.8 L564.34,2248.8 L564.89,2248.7 L565.43,2248.7 L565.97,2248.6 L566.51,2248.6 L567.05,2248.6 L567.60,2248.5 L568.14,2248.5 L568.68,2248.4 L569.22,2248.4 L569.76,2248.3 L570.31,2248.2 L570.85,2248.2 L571.39,2248.1 L571.93,2248.0 L572.47,2248.0 L573.02,2247.9 L573.56,2247.8 L574.10,2247.7 L574.64,2247.5 L575.19,2247.4 L575.73,2247.3 L576.27,2247.1 L576.81,2246.9 L577.35,2246.6 L577.90,2246.3 L578.44,2246.0 L578.98,2245.6 L579.52,2245.1 L580.06,2244.5 L580.61,2243.7 L581.15,2242.9 L581.69,2241.8 L582.23,2240.5 L582.77,2239.0 L583.32,2237.2 L583.86,2235.1 L584.40,2232.6 L584.94,2229.7 L585.48,2226.4 L586.03,2222.5 L586.57,2218.0 L587.11,2213.0 L587.65,2207.3 L588.20,2201.0 L588.74,2194.0 L589.28,2186.2 L589.82,2177.8 L590.36,2168.7 L590.91,2159.0 L591.45,2148.7 L591.99,2137.9 L592.53,2126.8 L593.07,2115.3 L593.62,2103.7 L594.16,2092.1 L594.70,2080.6 L595.24,2069.5 L595.78,2059.0 L596.33,2049.2 L596.87,2040.3 L597.41,2032.6 L597.95,2026.1 L598.49,2021.1 L599.04,2017.7 L599.58,2016.0 L600.12,2016.0 L600.66,2017.7 L601.20,2021.1 L601.75,2026.1 L602.29,2032.6 L602.83,2040.3 L603.37,2049.2 L603.92,2059.0 L604.46,2069.5 L605.00,2080.6 L605.54,2092.1 L606.08,2103.7 L606.63,2115.3 L607.17,2126.8 L607.71,2137.9 L608.25,2148.7 L608.79,2159.0 L609.34,2168.7 L609.88,2177.8 L610.42,2186.2 L610.96,2194.0 L611.50,2201.0 L612.05,2207.3 L612.59,2213.0 L613.13,2218.0 L613.67,2222.5 L614.21,2226.4 L614.76,2229.7 L615.30,2232.6 L615.84,2235.1 L616.38,2237.2 L616.92,2239.0 L617.47,2240.5 L618.01,2241.8 L618.55,2242.9 L619.09,2243.7 L619.64,2244.5 L620.18,2245.1 L620.72,2245.6 L621.26,2246.0 L621.80,2246.3 L622.35,2246.6 L622.89,2246.9 L623.43,2247.1 L623.97,2247.3 L624.51,2247.4 L625.06,2247.5 L625.60,2247.7 L626.14,2247.8 L626.68,2247.9 L627.22,2248.0 L627.77,2248.0 L628.31,2248.1 L628.85,2248.2 L629.39,2248.2 L629.93,2248.3 L630.48,2248.4 L631.02,2248.4 L631.56,2248.5 L632.10,2248.5 L632.65,2248.6 L633.19,2248.6 L633.73,2248.6 L634.27,2248.7 L634.81,2248.7 L635.36,2248.8 L635.90,2248.8 L636.44,2248.8 L636.98,2248.9 L637.52,2248.9 L638.07,2248.9 L638.61,2249.0 L639.15,2249.0 L639.69,2249.0 L640.23,2249.0 L640.78,2249.1 L641.32,2249.1 L641.86,2249.1 L642.40,2249.1 L642.94,2249.1 L643.49,2249.2 L644.03,2249.2 L644.57,2249.2 L645.11,2249.2"/>
<path d="M518.12,2249.0 L519.36,2249.0 L520.59,2249.0 L521.83,2249.0 L523.06,2248.9 L524.30,2248.9 L525.53,2248.9 L526.77,2248.9 L528.00,2248.8 L529.24,2248.8 L530.47,2248.8 L531.71,2248.7 L532.95,2248.7 L534.18,2248.7 L535.42,2248.6 L536.65,2248.6 L537.89,2248.5 L539.12,2248.5 L540.36,2248.5 L541.59,2248.4 L542.83,2248.4 L544.06,2248.3 L545.30,2248.3 L546.54,2248.2 L547.77,2248.1 L549.01,2248.1 L550.24,2248.0 L551.48,2247.9 L552.71,2247.9 L553.95,2247.8 L555.18,2247.7 L556.42,2247.6 L557.65,2247.5 L558.89,2247.4 L560.12,2247.3 L561.36,2247.2 L562.60,2247.1 L563.83,2246.9 L565.07,2246.8 L566.30,2246.6 L567.54,2246.3 L568.77,2246.1 L570.01,2245.8 L571.24,2245.4 L572.48,2245.0 L573.71,2244.4 L574.95,2243.8 L576.19,2243.1 L577.42,2242.1 L578.66,2241.0 L579.89,2239.7 L581.13,2238.1 L582.36,2236.2 L583.60,2234.0 L584.83,2231.3 L586.07,2228.2 L587.30,2224.6 L588.54,2220.4 L589.77,2215.5 L591.01,2209.9 L592.25,2203.6 L593.48,2196.5 L594.72,2188.5 L595.95,2179.7 L597.19,2170.0 L598.42,2159.5 L599.66,2148.1 L600.89,2135.9 L602.13,2123.0 L603.36,2109.5 L604.60,2095.5 L605.84,2081.1 L607.07,2066.5 L608.31,2051.9 L609.54,2037.6 L610.78,2023.7 L612.01,2010.5 L613.25,1998.2 L614.48,1987.0 L615.72,1977.3 L616.95,1969.3 L618.19,1963.0 L619.43,1958.7 L620.66,1956.6 L621.90,1956.6 L623.13,1958.7 L624.37,1963.0 L625.60,1969.3 L626.84,1977.3 L628.07,1987.0 L629.31,1998.2 L630.54,2010.5 L631.78,2023.7 L633.01,2037.6 L634.25,2051.9 L635.49,2066.5 L636.72,2081.1 L637.96,2095.5 L639.19,2109.5 L640.43,2123.0 L641.66,2135.9 L642.90,2148.1 L644.13,2159.5 L645.37,2170.0 L646.60,2179.7 L647.84,2188.5 L649.08,2196.5 L650.31,2203.6 L651.55,2209.9 L652.78,2215.5 L654.02,2220.4 L655.25,2224.6 L656.49,2228.2 L657.72,2231.3 L658.96,2234.0 L660.19,2236.2 L661.43,2238.1 L662.66,2239.7 L663.90,2241.0 L665.14,2242.1 L666.37,2243.1 L667.61,2243.8 L668.84,2244.4 L670.08,2245.0 L671.31,2245.4 L672.55,2245.8 L673.78,2246.1 L675.02,2246.3 L676.25,2246.6 L677.49,2246.8 L678.73,2246.9 L679.96,2247.1 L681.20,2247.2 L682.43,2247.3 L683.67,2247.4 L684.90,2247.5 L686.14,2247.6 L687.37,2247.7 L688.61,2247.8 L689.84,2247.9 L691.08,2247.9 L692.32,2248.0 L693.55,2248.1 L694.79,2248.1 L696.02,2248.2 L697.26,2248.3 L698.49,2248.3 L699.73,2248.4 L700.96,2248.4 L702.20,2248.5 L703.43,2248.5 L704.67,2248.5 L705.90,2248.6 L707.14,2248.6 L708.38,2248.7 L709.61,2248.7 L710.85,2248.7 L712.08,2248.8 L713.32,2248.8 L714.55,2248.8 L715.79,2248.9 L717.02,2248.9 L718.26,2248.9 L719.49,2248.9 L720.73,2249.0 L721.97,2249.0 L723.20,2249.0 L724.44,2249.0"/>
<path d="M324.96,2250.0 L333.83,2250.0 L342.70,2249.9 L351.57,2249.9 L360.43,2249.9 L369.30,2249.9 L378.17,2249.8 L387.04,2249.7 L395.90,2249.6 L404.77,2249.5 L413.64,2249.3 L422.51,2249.1 L431.37,2248.8 L440.24,2248.5 L449.11,2248.0 L457.98,2247.4 L466.84,2246.7 L475.71,2245.8 L484.58,2244.8 L493.45,2243.4 L502.31,2241.9 L511.18,2240.0 L520.05,2237.7 L528.92,2235.1 L537.79,2232.0 L546.65,2228.5 L555.52,2224.4 L564.39,2219.8 L573.26,2214.6 L582.12,2208.9 L590.99,2202.5 L599.86,2195.5 L608.73,2188.0 L617.59,2179.9 L626.46,2171.4 L635.33,2162.4 L644.20,2153.1 L653.06,2143.6 L661.93,2134.0 L670.80,2124.5 L679.67,2115.1 L688.53,2106.1 L697.40,2097.5 L706.27,2089.6 L715.14,2082.6 L724.01,2076.4 L732.87,2071.4 L741.74,2067.5 L750.61,2064.8 L759.48,2063.5 L768.34,2063.5 L777.21,2064.8 L786.08,2067.5 L794.95,2071.4 L803.81,2076.4 L812.68,2082.6 L821.55,2089.6 L830.42,2097.5 L839.28,2106.1 L848.15,2115.1 L857.02,2124.5 L865.89,2134.0 L874.76,2143.6 L883.62,2153.1 L892.49,2162.4 L901.36,2171.4 L910.23,2179.9 L919.09,2188.0 L927.96,2195.5 L936.83,2202.5 L945.70,2208.9 L954.56,2214.6 L963.43,2219.8 L972.30,2224.4 L981.17,2228.5 L990.03,2232.0 L998.90,2235.1 L1007.77,2237.7 L1016.64,2240.0 L1025.50,2241.9 L1034.37,2243.4 L1043.24,2244.8 L1052.11,2245.8 L1060.98,2246.7 L1069.84,2247.4 L1078.71,2248.0 L1087.58,2248.5 L1096.45,2248.8 L1105.31,2249.1 L1114.18,2249.3 L1123.05,2249.5 L1131.92,2249.6 L1140.78,2249.7 L1149.65,2249.8 L1158.52,2249.9 L1167.39,2249.9 L1176.25,2249.9 L1185.12,2249.9 L1193.99,2250.0 L1202.86,2250.0"/>
<path d="M795.94,2250.0 L802.55,2250.0 L809.17,2250.0 L815.78,2250.0 L822.40,2250.0 L829.01,2250.0 L835.63,2250.0 L842.24,2250.0 L848.86,2249.9 L855.47,2249.9 L862.08,2249.9 L868.70,2249.8 L875.31,2249.8 L881.93,2249.7 L888.54,2249.7 L895.16,2249.6 L901.77,2249.4 L908.39,2249.3 L915.00,2249.1 L921.61,2248.9 L928.23,2248.6 L934.84,2248.3 L941.46,2247.9 L948.07,2247.5 L954.69,2246.9 L961.30,2246.3 L967.92,2245.6 L974.53,2244.8 L981.15,2244.0 L987.76,2243.0 L994.37,2241.9 L1000.99,2240.7 L1007.60,2239.4 L1014.22,2238.0 L1020.83,2236.6 L1027.45,2235.0 L1034.06,2233.4 L1040.68,2231.8 L1047.29,2230.1 L1053.90,2228.5 L1060.52,2226.9 L1067.13,2225.3 L1073.75,2223.8 L1080.36,2222.4 L1086.98,2221.2 L1093.59,2220.1 L1100.21,2219.2 L1106.82,2218.5 L1113.43,2218.0 L1120.05,2217.7 L1126.66,2217.7 L1133.28,2217.9 L1139.89,2218.3 L1146.51,2219.0 L1153.12,2219.8 L1159.74,2220.8 L1166.35,2222.0 L1172.97,2223.4 L1179.58,2224.8 L1186.19,2226.4 L1192.81,2228.0 L1199.42,2229.6 L1206.04,2231.3 L1212.65,2232.9 L1219.27,2234.5 L1225.88,2236.1 L1232.50,2237.6 L1239.11,2239.0 L1245.72,2240.3 L1252.34,2241.5 L1258.95,2242.7 L1265.57,2243.7 L1272.18,2244.6 L1278.80,2245.4"/>
<path d="M132.9,1104.3 H1278.8" stroke-width="3.2"/>
<path d="M132.9,2250.0 H1278.8" stroke-width="3.2"/>
<path d="M1147.74,1104.3 L1149.47,1098.3 L1151.13,1104.3"/>
<path d="M133.98,824.0 L134.89,920.0 L136.09,990.0 L137.59,1040.0 L139.47,1078.0 L141.20,1095.0 L142.86,1103.5"/>
<path d="M134.29,1600.0 L135.41,1749.0 L137.29,1944.0 L138.72,2066.0 L141.50,2188.0 L143.31,2224.0 L145.11,2246.0 L146.99,2250.0"/>
<path d="M133.53,649.0 L133.53,824.0 M133.68,1724.0 L133.68,2119.0" stroke-width="1"/>
</g></g>
<g clip-path="url(#cp)"><path transform="scale(1.33,1)" d="M133.23,327.7 L133.98,363.3 L134.74,392.8 L135.49,416.4 L136.24,438.3 L136.99,451.0 L137.74,447.1 L138.50,429.0 L139.25,406.3 L140.00,385.3 L140.75,361.9 L141.50,337.1 L142.26,312.3 L143.01,288.3 L143.76,262.8 L144.51,237.0 L145.26,213.4 L146.02,194.4 L146.77,180.3 L147.52,166.8 L148.27,154.8 L149.02,145.6 L149.77,140.4 L150.53,140.4 L151.28,145.1 L152.03,153.0 L152.78,162.6 L153.53,172.3 L154.29,181.7 L155.04,193.0 L155.79,205.1 L156.54,216.9 L157.29,227.4 L158.05,235.7 L158.80,243.4 L159.55,250.8 L160.30,257.7 L161.05,264.1 L161.80,269.9 L162.56,274.9 L163.31,279.0 L164.06,282.3 L164.81,285.3 L165.56,288.1 L166.32,290.6 L167.07,292.5 L167.82,293.6 L168.57,293.9 L169.32,293.7 L170.08,293.4 L170.83,292.9 L171.58,292.3 L172.33,291.5 L173.08,290.7 L173.83,289.9 L174.59,289.1 L175.34,288.3 L176.09,287.5 L176.84,286.8 L177.59,286.2 L178.35,285.8 L179.10,285.4 L179.85,285.0 L180.60,284.7 L181.35,284.3 L182.11,283.9 L182.86,283.5 L183.61,283.0 L184.36,282.5 L185.11,281.8 L185.86,280.9 L186.62,279.3 L187.37,277.1 L188.12,274.3 L188.87,271.1 L189.62,267.4 L190.38,263.5 L191.13,259.3 L191.88,255.1 L192.63,250.7 L193.38,245.5 L194.14,239.3 L194.89,232.4 L195.64,224.9 L196.39,217.2 L197.14,209.5 L197.89,202.1 L198.65,195.2 L199.40,189.1 L200.15,183.9 L200.90,178.9 L201.65,173.8 L202.41,168.7 L203.16,163.7 L203.91,159.1 L204.66,154.9 L205.41,151.4 L206.17,148.5 L206.92,146.6 L207.67,145.7 L208.42,145.8 L209.17,146.8 L209.92,148.4 L210.68,150.6 L211.43,153.3 L212.18,156.4 L212.93,159.7 L213.68,163.2 L214.44,166.7 L215.19,170.2 L215.94,174.4 L216.69,179.2 L217.44,184.5 L218.20,190.3 L218.95,196.4 L219.70,202.7 L220.45,209.2 L221.20,215.6 L221.95,222.0 L222.71,228.3 L223.46,235.1 L224.21,242.3 L224.96,249.9 L225.71,257.5 L226.47,265.0 L227.22,272.1 L227.97,278.8 L228.72,284.7 L229.47,289.6 L230.23,293.6 L230.98,297.3 L231.73,300.8 L232.48,304.1 L233.23,307.1 L233.98,309.9 L234.74,312.5 L235.49,314.8 L236.24,316.9 L236.99,318.7 L237.74,320.4 L238.50,321.8 L239.25,323.1 L240.00,324.3 L240.75,325.4 L241.50,326.4 L242.26,327.3 L243.01,328.2 L243.76,329.1 L244.51,330.0 L245.26,330.9 L246.02,331.8 L246.77,332.8 L247.52,333.9 L248.27,335.0 L249.02,336.3 L249.77,337.8 L250.53,339.4 L251.28,341.1 L252.03,343.0 L252.78,345.1 L253.53,347.3 L254.29,349.5 L255.04,351.9 L255.79,354.3 L256.54,356.8 L257.29,359.3 L258.05,361.8 L258.80,364.4 L259.55,366.9 L260.30,369.4 L261.05,372.1 L261.80,374.9 L262.56,377.7 L263.31,380.6 L264.06,383.6 L264.81,386.6 L265.56,389.6 L266.32,392.6 L267.07,395.5 L267.82,398.4 L268.57,401.2 L269.32,403.9 L270.08,406.6 L270.83,409.3 L271.58,412.0 L272.33,414.8 L273.08,417.6 L273.83,420.3 L274.59,423.1 L275.34,425.7 L276.09,428.3 L276.84,430.8 L277.59,433.2 L278.35,435.4 L279.10,437.5 L279.85,439.4 L280.60,441.1 L281.35,442.7 L282.11,444.2 L282.86,445.7 L283.61,447.2 L284.36,448.7 L285.11,450.2 L285.86,451.6 L286.62,452.9 L287.37,454.2 L288.12,455.4 L288.87,456.4 L289.62,457.4 L290.38,458.2 L291.13,458.8 L291.88,459.3 L292.63,459.6 L293.38,459.7 L294.14,459.6 L294.89,459.4 L295.64,459.1 L296.39,458.7 L297.14,458.1 L297.89,457.5 L298.65,456.8 L299.40,456.0 L300.15,455.1 L300.90,454.2 L301.65,453.2 L302.41,452.1 L303.16,451.1 L303.91,450.0 L304.66,448.9 L305.41,447.8 L306.17,446.7 L306.92,445.3 L307.67,443.7 L308.42,442.0 L309.17,440.0 L309.92,437.9 L310.68,435.7 L311.43,433.4 L312.18,431.1 L312.93,428.8 L313.68,426.4 L314.44,424.2 L315.19,421.9 L315.94,419.8 L316.69,417.8 L317.44,415.9 L318.20,414.2 L318.95,412.6 L319.70,411.1 L320.45,409.5 L321.20,407.9 L321.95,406.4 L322.71,404.8 L323.46,403.4 L324.21,401.9 L324.96,400.5 L325.71,399.2 L326.47,398.0 L327.22,396.8 L327.97,395.6 L328.72,394.6 L329.47,393.7 L330.23,392.8 L330.98,392.0 L331.73,391.3 L332.48,390.5 L333.23,389.8 L333.98,389.0 L334.74,388.3 L335.49,387.7 L336.24,387.1 L336.99,386.5 L337.74,386.0 L338.50,385.7 L339.25,385.4 L340.00,385.2 L340.75,385.1 L341.50,385.1 L342.26,385.3 L343.01,385.6 L343.76,385.9 L344.51,386.4 L345.26,386.9 L346.02,387.5 L346.77,388.1 L347.52,388.8 L348.27,389.6 L349.02,390.3 L349.77,391.1 L350.53,391.9 L351.28,392.7 L352.03,393.6 L352.78,394.6 L353.53,395.8 L354.29,397.1 L355.04,398.5 L355.79,400.0 L356.54,401.6 L357.29,403.3 L358.05,405.0 L358.80,406.7 L359.55,408.4 L360.30,410.2 L361.05,411.9 L361.80,413.6 L362.56,415.2 L363.31,416.7 L364.06,418.3 L364.81,419.8 L365.56,421.4 L366.32,423.0 L367.07,424.7 L367.82,426.3 L368.57,428.0 L369.32,429.6 L370.08,431.2 L370.83,432.8 L371.58,434.4 L372.33,435.9 L373.08,437.3 L373.83,438.7 L374.59,439.9 L375.34,441.1 L376.09,442.2 L376.84,443.3 L377.59,444.4 L378.35,445.6 L379.10,446.7 L379.85,447.8 L380.60,448.9 L381.35,450.0 L382.11,451.0 L382.86,451.9 L383.61,452.8 L384.36,453.6 L385.11,454.2 L385.86,454.8 L386.62,455.2 L387.37,455.5 L388.12,455.6 L388.87,455.6 L389.62,455.4 L390.38,455.1 L391.13,454.8 L391.88,454.3 L392.63,453.7 L393.38,453.1 L394.14,452.4 L394.89,451.7 L395.64,450.9 L396.39,450.0 L397.14,449.1 L397.89,448.2 L398.65,447.3 L399.40,446.2 L400.15,444.8 L400.90,443.2 L401.65,441.4 L402.41,439.5 L403.16,437.3 L403.91,435.1 L404.66,432.8 L405.41,430.4 L406.17,428.1 L406.92,425.7 L407.67,423.4 L408.42,421.2 L409.17,419.1 L409.92,416.9 L410.68,414.6 L411.43,412.3 L412.18,410.0 L412.93,407.6 L413.68,405.3 L414.44,402.9 L415.19,400.6 L415.94,398.4 L416.69,396.2 L417.44,394.1 L418.20,392.1 L418.95,390.2 L419.70,388.5 L420.45,386.7 L421.20,384.9 L421.95,383.2 L422.71,381.5 L423.46,379.9 L424.21,378.4 L424.96,376.9 L425.71,375.7 L426.47,374.5 L427.22,373.6 L427.97,372.7 L428.72,371.9 L429.47,371.1 L430.23,370.3 L430.98,369.6 L431.73,369.0 L432.48,368.5 L433.23,368.1 L433.98,367.9 L434.74,367.8 L435.49,367.9 L436.24,368.2 L436.99,368.5 L437.74,369.1 L438.50,369.7 L439.25,370.4 L440.00,371.2 L440.75,372.0 L441.50,372.9 L442.26,373.8 L443.01,374.8 L443.76,375.7 L444.51,376.7 L445.26,377.9 L446.02,379.3 L446.77,380.8 L447.52,382.4 L448.27,384.2 L449.02,386.1 L449.77,388.0 L450.53,389.9 L451.28,391.9 L452.03,393.9 L452.78,395.8 L453.53,397.6 L454.29,399.4 L455.04,401.0 L455.79,402.5 L456.54,403.9 L457.29,405.2 L458.05,406.5 L458.80,407.8 L459.55,409.1 L460.30,410.4 L461.05,411.6 L461.80,412.7 L462.56,413.9 L463.31,414.9 L464.06,415.9 L464.81,416.8 L465.56,417.6 L466.32,418.3 L467.07,418.9 L467.82,419.5 L468.57,420.1 L469.32,420.6 L470.08,421.1 L470.83,421.6 L471.58,421.9 L472.33,422.1 L473.08,422.1 L473.83,422.0 L474.59,421.7 L475.34,421.3 L476.09,420.8 L476.84,420.2 L477.59,419.5 L478.35,418.8 L479.10,418.0 L479.85,417.2 L480.60,416.3 L481.35,415.4 L482.11,414.4 L482.86,413.1 L483.61,411.6 L484.36,409.9 L485.11,408.2 L485.86,406.3 L486.62,404.4 L487.37,402.4 L488.12,400.4 L488.87,398.5 L489.62,396.6 L490.38,394.8 L491.13,393.1 L491.88,391.6 L492.63,390.0 L493.38,388.4 L494.14,386.8 L494.89,385.2 L495.64,383.6 L496.39,382.0 L497.14,380.5 L497.89,379.1 L498.65,377.7 L499.40,376.4 L500.15,375.3 L500.90,374.3 L501.65,373.4 L502.41,372.6 L503.16,371.8 L503.91,371.0 L504.66,370.3 L505.41,369.5 L506.17,368.9 L506.92,368.3 L507.67,367.9 L508.42,367.5 L509.17,367.3 L509.92,367.2 L510.68,367.3 L511.43,367.5 L512.18,367.9 L512.93,368.5 L513.68,369.1 L514.44,369.9 L515.19,370.7 L515.94,371.7 L516.69,372.6 L517.44,373.7 L518.20,374.7 L518.95,376.0 L519.70,377.6 L520.45,379.5 L521.20,381.7 L521.95,384.1 L522.71,386.7 L523.46,389.4 L524.21,392.2 L524.96,395.1 L525.71,397.9 L526.47,400.7 L527.22,403.5 L527.97,406.5 L528.72,409.5 L529.47,412.7 L530.23,416.0 L530.98,419.3 L531.73,422.7 L532.48,426.1 L533.23,429.6 L533.98,433.0 L534.74,436.4 L535.49,439.8 L536.24,443.3 L536.99,446.8 L537.74,450.4 L538.50,454.0 L539.25,457.6 L540.00,461.2 L540.75,464.7 L541.50,468.3 L542.26,471.7 L543.01,475.1 L543.76,478.5 L544.51,481.9 L545.26,485.2 L546.02,488.6 L546.77,491.9 L547.52,495.2 L548.27,498.4 L549.02,501.6 L549.77,504.7 L550.53,507.8 L551.28,510.8 L552.03,513.7 L552.78,516.6 L553.53,519.4 L554.29,522.2 L555.04,525.0 L555.79,527.7 L556.54,530.3 L557.29,533.0 L558.05,535.6 L558.80,538.2 L559.55,540.9 L560.30,543.5 L561.05,546.1 L561.80,548.8 L562.56,551.4 L563.31,554.1 L564.06,556.6 L564.81,559.2 L565.56,561.6 L566.32,563.9 L567.07,566.2 L567.82,568.3 L568.57,570.4 L569.32,572.4 L570.08,574.4 L570.83,576.3 L571.58,578.1 L572.33,579.9 L573.08,581.7 L573.83,583.3 L574.59,584.8 L575.34,586.2 L576.09,587.6 L576.84,588.8 L577.59,590.0 L578.35,591.2 L579.10,592.4 L579.85,593.4 L580.60,594.5 L581.35,595.4 L582.11,596.3 L582.86,597.1 L583.61,597.7 L584.36,598.3 L585.11,598.8 L585.86,599.4 L586.62,599.9 L587.37,600.4 L588.12,600.8 L588.87,601.2 L589.62,601.5 L590.38,601.7 L591.13,601.8 L591.88,601.8 L592.63,601.6 L593.38,601.3 L594.14,600.8 L594.89,600.3 L595.64,599.6 L596.39,598.9 L597.14,598.1 L597.89,597.2 L598.65,596.3 L599.40,595.3 L600.15,594.4 L600.90,593.4 L601.65,592.4 L602.41,591.5 L603.16,590.5 L603.91,589.3 L604.66,588.0 L605.41,586.6 L606.17,585.1 L606.92,583.5 L607.67,581.9 L608.42,580.2 L609.17,578.5 L609.92,576.8 L610.68,575.2 L611.43,573.6 L612.18,572.1 L612.93,570.6 L613.68,569.2 L614.44,568.0 L615.19,566.9 L615.94,565.9 L616.69,565.1 L617.44,564.3 L618.20,563.5 L618.95,562.8 L619.70,562.0 L620.45,561.3 L621.20,560.5 L621.95,559.8 L622.71,559.2 L623.46,558.5 L624.21,557.9 L624.96,557.4 L625.71,556.9 L626.47,556.5 L627.22,556.1 L627.97,555.8 L628.72,555.6 L629.47,555.5 L630.23,555.4 L630.98,555.4 L631.73,555.5 L632.48,555.7 L633.23,555.9 L633.98,556.2 L634.74,556.5 L635.49,556.9 L636.24,557.4 L636.99,557.9 L637.74,558.4 L638.50,559.0 L639.25,559.6 L640.00,560.2 L640.75,560.9 L641.50,561.6 L642.26,562.4 L643.01,563.4 L643.76,564.7 L644.51,566.3 L645.26,568.0 L646.02,570.0 L646.77,572.0 L647.52,574.2 L648.27,576.5 L649.02,578.9 L649.77,581.3 L650.53,583.8 L651.28,586.7 L652.03,589.8 L652.78,593.2 L653.53,596.8 L654.29,600.6 L655.04,604.5 L655.79,608.6 L656.54,612.7 L657.29,616.9 L658.05,621.0 L658.80,625.2 L659.55,629.5 L660.30,634.0 L661.05,638.6 L661.80,643.3 L662.56,648.2 L663.31,653.0 L664.06,657.9 L664.81,662.7 L665.56,667.5 L666.32,672.2 L667.07,676.7 L667.82,681.2 L668.57,685.6 L669.32,690.1 L670.08,694.5 L670.83,698.9 L671.58,703.3 L672.33,707.6 L673.08,711.8 L673.83,716.0 L674.59,720.1 L675.34,724.1 L676.09,728.1 L676.84,732.0 L677.59,735.9 L678.35,739.7 L679.10,743.5 L679.85,747.3 L680.60,750.9 L681.35,754.5 L682.11,758.0 L682.86,761.4 L683.61,764.6 L684.36,767.8 L685.11,770.9 L685.86,774.0 L686.62,777.0 L687.37,780.0 L688.12,782.9 L688.87,785.8 L689.62,788.6 L690.38,791.3 L691.13,794.0 L691.88,796.6 L692.63,799.1 L693.38,801.5 L694.14,803.9 L694.89,806.1 L695.64,808.3 L696.39,810.5 L697.14,812.6 L697.89,814.6 L698.65,816.7 L699.40,818.6 L700.15,820.6 L700.90,822.5 L701.65,824.3 L702.41,826.2 L703.16,827.9 L703.91,829.6 L704.66,831.3 L705.41,833.0 L706.17,834.5 L706.92,836.1 L707.67,837.6 L708.42,839.0 L709.17,840.4 L709.92,841.7 L710.68,843.1 L711.43,844.3 L712.18,845.6 L712.93,846.8 L713.68,848.0 L714.44,849.1 L715.19,850.2 L715.94,851.3 L716.69,852.4 L717.44,853.5 L718.20,854.5 L718.95,855.5 L719.70,856.5 L720.45,857.5 L721.20,858.5 L721.95,859.4 L722.71,860.3 L723.46,861.3 L724.21,862.2 L724.96,863.1 L725.71,864.0 L726.47,864.8 L727.22,865.7 L727.97,866.5 L728.72,867.3 L729.47,868.1 L730.23,868.9 L730.98,869.7 L731.73,870.5 L732.48,871.3 L733.23,872.0 L733.98,872.8 L734.74,873.5 L735.49,874.3 L736.24,875.0 L736.99,875.7 L737.74,876.4 L738.50,877.1 L739.25,877.8 L740.00,878.5 L740.75,879.2 L741.50,879.9 L742.26,880.6 L743.01,881.2 L743.76,881.9 L744.51,882.6 L745.26,883.2 L746.02,883.9 L746.77,884.5 L747.52,885.1 L748.27,885.8 L749.02,886.4 L749.77,887.0 L750.53,887.6 L751.28,888.2 L752.03,888.9 L752.78,889.5 L753.53,890.1 L754.29,890.7 L755.04,891.3 L755.79,891.9 L756.54,892.5 L757.29,893.1 L758.05,893.7 L758.80,894.3 L759.55,894.9 L760.30,895.5 L761.05,896.1 L761.80,896.7 L762.56,897.3 L763.31,897.9 L764.06,898.5 L764.81,899.1 L765.56,899.6 L766.32,900.2 L767.07,900.8 L767.82,901.4 L768.57,901.9 L769.32,902.5 L770.08,903.1 L770.83,903.6 L771.58,904.2 L772.33,904.7 L773.08,905.3 L773.83,905.8 L774.59,906.3 L775.34,906.9 L776.09,907.4 L776.84,907.9 L777.59,908.4 L778.35,908.9 L779.10,909.4 L779.85,910.0 L780.60,910.5 L781.35,911.0 L782.11,911.5 L782.86,912.0 L783.61,912.5 L784.36,913.0 L785.11,913.5 L785.86,914.0 L786.62,914.5 L787.37,915.0 L788.12,915.5 L788.87,916.0 L789.62,916.5 L790.38,917.0 L791.13,917.4 L791.88,917.9 L792.63,918.4 L793.38,918.9 L794.14,919.3 L794.89,919.8 L795.64,920.2 L796.39,920.7 L797.14,921.1 L797.89,921.6 L798.65,922.0 L799.40,922.4 L800.15,922.8 L800.90,923.3 L801.65,923.7 L802.41,924.0 L803.16,924.4 L803.91,924.8 L804.66,925.2 L805.41,925.5 L806.17,925.9 L806.92,926.2 L807.67,926.5 L808.42,926.9 L809.17,927.2 L809.92,927.5 L810.68,927.8 L811.43,928.1 L812.18,928.4 L812.93,928.8 L813.68,929.1 L814.44,929.4 L815.19,929.7 L815.94,930.0 L816.69,930.3 L817.44,930.6 L818.20,930.9 L818.95,931.2 L819.70,931.5 L820.45,931.8 L821.20,932.0 L821.95,932.3 L822.71,932.6 L823.46,932.8 L824.21,933.1 L824.96,933.3 L825.71,933.6 L826.47,933.8 L827.22,934.0 L827.97,934.2 L828.72,934.4 L829.47,934.6 L830.23,934.8 L830.98,935.0 L831.73,935.1 L832.48,935.3 L833.23,935.4 L833.98,935.5 L834.74,935.7 L835.49,935.8 L836.24,935.9 L836.99,936.0 L837.74,936.1 L838.50,936.2 L839.25,936.2 L840.00,936.3 L840.75,936.4 L841.50,936.5 L842.26,936.6 L843.01,936.7 L843.76,936.7 L844.51,936.8 L845.26,936.8 L846.02,936.9 L846.77,936.9 L847.52,937.0 L848.27,937.0 L849.02,937.0 L849.77,937.0 L850.53,937.0 L851.28,937.0 L852.03,936.9 L852.78,936.8 L853.53,936.8 L854.29,936.7 L855.04,936.6 L855.79,936.5 L856.54,936.3 L857.29,936.2 L858.05,936.1 L858.80,935.9 L859.55,935.8 L860.30,935.7 L861.05,935.5 L861.80,935.4 L862.56,935.2 L863.31,935.1 L864.06,935.0 L864.81,934.8 L865.56,934.7 L866.32,934.6 L867.07,934.4 L867.82,934.3 L868.57,934.1 L869.32,934.0 L870.08,933.8 L870.83,933.6 L871.58,933.4 L872.33,933.3 L873.08,933.1 L873.83,932.9 L874.59,932.7 L875.34,932.5 L876.09,932.4 L876.84,932.2 L877.59,932.0 L878.35,931.8 L879.10,931.6 L879.85,931.4 L880.60,931.3 L881.35,931.1 L882.11,930.9 L882.86,930.7 L883.61,930.6 L884.36,930.4 L885.11,930.3 L885.86,930.1 L886.62,930.0 L887.37,929.8 L888.12,929.7 L888.87,929.6 L889.62,929.4 L890.38,929.3 L891.13,929.2 L891.88,929.1 L892.63,929.0 L893.38,928.9 L894.14,928.8 L894.89,928.7 L895.64,928.6 L896.39,928.5 L897.14,928.4 L897.89,928.3 L898.65,928.3 L899.40,928.2 L900.15,928.1 L900.90,928.0 L901.65,927.9 L902.41,927.8 L903.16,927.8 L903.91,927.7 L904.66,927.6 L905.41,927.6 L906.17,927.5 L906.92,927.5 L907.67,927.4 L908.42,927.4 L909.17,927.3 L909.92,927.3 L910.68,927.3 L911.43,927.3 L912.18,927.3 L912.93,927.3 L913.68,927.3 L914.44,927.4 L915.19,927.4 L915.94,927.4 L916.69,927.5 L917.44,927.5 L918.20,927.6 L918.95,927.6 L919.70,927.7 L920.45,927.7 L921.20,927.8 L921.95,927.9 L922.71,928.1 L923.46,928.2 L924.21,928.5 L924.96,928.7 L925.71,929.0 L926.47,929.3 L927.22,929.6 L927.97,929.9 L928.72,930.3 L929.47,930.7 L930.23,931.0 L930.98,931.4 L931.73,931.8 L932.48,932.2 L933.23,932.5 L933.98,932.9 L934.74,933.3 L935.49,933.6 L936.24,934.0 L936.99,934.4 L937.74,934.8 L938.50,935.2 L939.25,935.6 L940.00,936.0 L940.75,936.4 L941.50,936.8 L942.26,937.3 L943.01,937.7 L943.76,938.2 L944.51,938.7 L945.26,939.2 L946.02,939.7 L946.77,940.2 L947.52,940.7 L948.27,941.2 L949.02,941.8 L949.77,942.3 L950.53,942.9 L951.28,943.5 L952.03,944.2 L952.78,944.8 L953.53,945.5 L954.29,946.3 L955.04,947.0 L955.79,947.8 L956.54,948.5 L957.29,949.3 L958.05,950.1 L958.80,950.9 L959.55,951.8 L960.30,952.6 L961.05,953.5 L961.80,954.3 L962.56,955.2 L963.31,956.0 L964.06,956.9 L964.81,957.7 L965.56,958.6 L966.32,959.4 L967.07,960.3 L967.82,961.1 L968.57,961.9 L969.32,962.8 L970.08,963.6 L970.83,964.5 L971.58,965.3 L972.33,966.2 L973.08,967.1 L973.83,967.9 L974.59,968.8 L975.34,969.7 L976.09,970.6 L976.84,971.5 L977.59,972.3 L978.35,973.2 L979.10,974.1 L979.85,975.0 L980.60,975.9 L981.35,976.7 L982.11,977.6 L982.86,978.4 L983.61,979.3 L984.36,980.1 L985.11,981.0 L985.86,981.8 L986.62,982.6 L987.37,983.4 L988.12,984.1 L988.87,984.9 L989.62,985.7 L990.38,986.5 L991.13,987.3 L991.88,988.1 L992.63,988.8 L993.38,989.6 L994.14,990.4 L994.89,991.1 L995.64,991.9 L996.39,992.7 L997.14,993.4 L997.89,994.2 L998.65,994.9 L999.40,995.6 L1000.15,996.3 L1000.90,997.0 L1001.65,997.7 L1002.41,998.4 L1003.16,999.1 L1003.91,999.8 L1004.66,1000.4 L1005.41,1001.1 L1006.17,1001.7 L1006.92,1002.4 L1007.67,1003.0 L1008.42,1003.6 L1009.17,1004.1 L1009.92,1004.7 L1010.68,1005.3 L1011.43,1005.9 L1012.18,1006.5 L1012.93,1007.0 L1013.68,1007.6 L1014.44,1008.2 L1015.19,1008.7 L1015.94,1009.3 L1016.69,1009.8 L1017.44,1010.4 L1018.20,1010.9 L1018.95,1011.4 L1019.70,1011.9 L1020.45,1012.5 L1021.20,1013.0 L1021.95,1013.5 L1022.71,1014.0 L1023.46,1014.5 L1024.21,1014.9 L1024.96,1015.4 L1025.71,1015.9 L1026.47,1016.4 L1027.22,1016.8 L1027.97,1017.3 L1028.72,1017.7 L1029.47,1018.1 L1030.23,1018.6 L1030.98,1019.0 L1031.73,1019.4 L1032.48,1019.8 L1033.23,1020.2 L1033.98,1020.6 L1034.74,1020.9 L1035.49,1021.3 L1036.24,1021.7 L1036.99,1022.0 L1037.74,1022.4 L1038.50,1022.8 L1039.25,1023.1 L1040.00,1023.4 L1040.75,1023.8 L1041.50,1024.1 L1042.26,1024.5 L1043.01,1024.8 L1043.76,1025.1 L1044.51,1025.4 L1045.26,1025.7 L1046.02,1026.0 L1046.77,1026.3 L1047.52,1026.6 L1048.27,1026.9 L1049.02,1027.2 L1049.77,1027.5 L1050.53,1027.8 L1051.28,1028.1 L1052.03,1028.4 L1052.78,1028.6 L1053.53,1028.9 L1054.29,1029.2 L1055.04,1029.4 L1055.79,1029.7 L1056.54,1030.0 L1057.29,1030.2 L1058.05,1030.5 L1058.80,1030.7 L1059.55,1031.0 L1060.30,1031.2 L1061.05,1031.4 L1061.80,1031.7 L1062.56,1031.9 L1063.31,1032.2 L1064.06,1032.4 L1064.81,1032.6 L1065.56,1032.8 L1066.32,1033.1 L1067.07,1033.3 L1067.82,1033.5 L1068.57,1033.7 L1069.32,1033.9 L1070.08,1034.1 L1070.83,1034.4 L1071.58,1034.6 L1072.33,1034.8 L1073.08,1035.0 L1073.83,1035.2 L1074.59,1035.4 L1075.34,1035.6 L1076.09,1035.8 L1076.84,1035.9 L1077.59,1036.1 L1078.35,1036.3 L1079.10,1036.5 L1079.85,1036.7 L1080.60,1036.9 L1081.35,1037.0 L1082.11,1037.2 L1082.86,1037.4 L1083.61,1037.6 L1084.36,1037.7 L1085.11,1037.9 L1085.86,1038.1 L1086.62,1038.3 L1087.37,1038.4 L1088.12,1038.6 L1088.87,1038.7 L1089.62,1038.9 L1090.38,1039.1 L1091.13,1039.2 L1091.88,1039.4 L1092.63,1039.5 L1093.38,1039.7 L1094.14,1039.8 L1094.89,1040.0 L1095.64,1040.1 L1096.39,1040.3 L1097.14,1040.4 L1097.89,1040.6 L1098.65,1040.7 L1099.40,1040.8 L1100.15,1041.0 L1100.90,1041.1 L1101.65,1041.3 L1102.41,1041.4 L1103.16,1041.5 L1103.91,1041.7 L1104.66,1041.8 L1105.41,1041.9 L1106.17,1042.0 L1106.92,1042.2 L1107.67,1042.3 L1108.42,1042.4 L1109.17,1042.6 L1109.92,1042.7 L1110.68,1042.8 L1111.43,1042.9 L1112.18,1043.0 L1112.93,1043.2 L1113.68,1043.3 L1114.44,1043.4 L1115.19,1043.5 L1115.94,1043.6 L1116.69,1043.8 L1117.44,1043.9 L1118.20,1044.0 L1118.95,1044.1 L1119.70,1044.2 L1120.45,1044.3 L1121.20,1044.4 L1121.95,1044.5 L1122.71,1044.6 L1123.46,1044.7 L1124.21,1044.8 L1124.96,1044.9 L1125.71,1045.0 L1126.47,1045.1 L1127.22,1045.2 L1127.97,1045.3 L1128.72,1045.4 L1129.47,1045.5 L1130.23,1045.6 L1130.98,1045.7 L1131.73,1045.8 L1132.48,1045.9 L1133.23,1046.0 L1133.98,1046.1 L1134.74,1046.2 L1135.49,1046.3 L1136.24,1046.4 L1136.99,1046.5 L1137.74,1046.6 L1138.50,1046.7 L1139.25,1046.8 L1140.00,1046.9 L1140.75,1047.0 L1141.50,1047.1 L1142.26,1047.2 L1143.01,1047.3 L1143.76,1047.4 L1144.51,1047.5 L1145.26,1047.6 L1146.02,1047.7 L1146.77,1047.8 L1147.52,1047.9 L1148.27,1048.0 L1149.02,1048.1 L1149.77,1048.2 L1150.53,1048.4 L1151.28,1048.5 L1152.03,1048.6 L1152.78,1048.7 L1153.53,1048.8 L1154.29,1048.9 L1155.04,1049.0 L1155.79,1049.1 L1156.54,1049.2 L1157.29,1049.3 L1158.05,1049.4 L1158.80,1049.5 L1159.55,1049.7 L1160.30,1049.8 L1161.05,1049.9 L1161.80,1050.0 L1162.56,1050.1 L1163.31,1050.2 L1164.06,1050.3 L1164.81,1050.4 L1165.56,1050.5 L1166.32,1050.6 L1167.07,1050.8 L1167.82,1050.9 L1168.57,1051.0 L1169.32,1051.1 L1170.08,1051.2 L1170.83,1051.3 L1171.58,1051.4 L1172.33,1051.5 L1173.08,1051.7 L1173.83,1051.8 L1174.59,1051.9 L1175.34,1052.0 L1176.09,1052.1 L1176.84,1052.2 L1177.59,1052.3 L1178.35,1052.5 L1179.10,1052.6 L1179.85,1052.7 L1180.60,1052.8 L1181.35,1052.9 L1182.11,1053.1 L1182.86,1053.2 L1183.61,1053.3 L1184.36,1053.4 L1185.11,1053.5 L1185.86,1053.7 L1186.62,1053.8 L1187.37,1053.9 L1188.12,1054.0 L1188.87,1054.2 L1189.62,1054.3 L1190.38,1054.4 L1191.13,1054.6 L1191.88,1054.7 L1192.63,1054.8 L1193.38,1055.0 L1194.14,1055.1 L1194.89,1055.2 L1195.64,1055.4 L1196.39,1055.5 L1197.14,1055.6 L1197.89,1055.8 L1198.65,1055.9 L1199.40,1056.1 L1200.15,1056.2 L1200.90,1056.4 L1201.65,1056.6 L1202.41,1056.7 L1203.16,1056.9 L1203.91,1057.0 L1204.66,1057.2 L1205.41,1057.3 L1206.17,1057.5 L1206.92,1057.7 L1207.67,1057.8 L1208.42,1058.0 L1209.17,1058.2 L1209.92,1058.3 L1210.68,1058.5 L1211.43,1058.7 L1212.18,1058.8 L1212.93,1059.0 L1213.68,1059.2 L1214.44,1059.3 L1215.19,1059.5 L1215.94,1059.6 L1216.69,1059.8 L1217.44,1060.0 L1218.20,1060.1 L1218.95,1060.3 L1219.70,1060.5 L1220.45,1060.6 L1221.20,1060.8 L1221.95,1060.9 L1222.71,1061.1 L1223.46,1061.2 L1224.21,1061.4 L1224.96,1061.6 L1225.71,1061.7 L1226.47,1061.9 L1227.22,1062.0 L1227.97,1062.1 L1228.72,1062.3 L1229.47,1062.4 L1230.23,1062.6 L1230.98,1062.7 L1231.73,1062.8 L1232.48,1063.0 L1233.23,1063.1 L1233.98,1063.2 L1234.74,1063.3 L1235.49,1063.5 L1236.24,1063.6 L1236.99,1063.7 L1237.74,1063.8 L1238.50,1064.0 L1239.25,1064.1 L1240.00,1064.2 L1240.75,1064.3 L1241.50,1064.5 L1242.26,1064.6 L1243.01,1064.7 L1243.76,1064.8 L1244.51,1064.9 L1245.26,1065.1 L1246.02,1065.2 L1246.77,1065.3 L1247.52,1065.4 L1248.27,1065.5 L1249.02,1065.7 L1249.77,1065.8 L1250.53,1065.9 L1251.28,1066.0 L1252.03,1066.1 L1252.78,1066.2 L1253.53,1066.3 L1254.29,1066.5 L1255.04,1066.6 L1255.79,1066.7 L1256.54,1066.8 L1257.29,1066.9 L1258.05,1067.0 L1258.80,1067.1 L1259.55,1067.2 L1260.30,1067.3 L1261.05,1067.4 L1261.80,1067.5 L1262.56,1067.6 L1263.31,1067.7 L1264.06,1067.8 L1264.81,1067.9 L1265.56,1068.0 L1266.32,1068.1 L1267.07,1068.2 L1267.82,1068.3 L1268.57,1068.4 L1269.32,1068.5 L1270.08,1068.6 L1270.83,1068.7 L1271.58,1068.8 L1272.33,1068.9 L1273.08,1069.0 L1273.83,1069.1 L1274.59,1069.2 L1275.34,1069.3 L1276.09,1069.4 L1276.84,1069.5 L1277.59,1069.5 L1278.35,1069.6" fill="none" stroke="#f00" stroke-width="2.6" stroke-linejoin="round"/></g>
<g clip-path="url(#cp)"><path transform="scale(1.33,1)" d="M133.23,1593.7 L133.98,1616.1 L134.74,1650.9 L135.49,1681.7 L136.24,1710.5 L136.99,1739.9 L137.74,1759.8 L138.50,1760.9 L139.25,1748.6 L140.00,1731.3 L140.75,1704.7 L141.50,1671.7 L142.26,1636.7 L143.01,1597.5 L143.76,1555.8 L144.51,1513.1 L145.26,1471.3 L146.02,1432.1 L146.77,1395.0 L147.52,1357.7 L148.27,1322.2 L149.02,1290.8 L149.77,1265.0 L150.53,1239.9 L151.28,1216.2 L152.03,1197.8 L152.78,1188.2 L153.53,1190.9 L154.29,1205.1 L155.04,1226.7 L155.79,1251.2 L156.54,1274.5 L157.29,1298.7 L158.05,1325.8 L158.80,1353.9 L159.55,1381.3 L160.30,1406.9 L161.05,1433.0 L161.80,1458.6 L162.56,1481.7 L163.31,1500.8 L164.06,1517.6 L164.81,1534.4 L165.56,1549.9 L166.32,1562.8 L167.07,1571.8 L167.82,1575.5 L168.57,1573.6 L169.32,1567.9 L170.08,1559.3 L170.83,1548.9 L171.58,1537.8 L172.33,1527.2 L173.08,1516.6 L173.83,1504.3 L174.59,1491.1 L175.34,1477.8 L176.09,1465.4 L176.84,1454.8 L177.59,1445.8 L178.35,1436.7 L179.10,1429.1 L179.85,1425.0 L180.60,1426.1 L181.35,1432.1 L182.11,1441.7 L182.86,1453.3 L183.61,1465.6 L184.36,1478.2 L185.11,1493.9 L185.86,1512.0 L186.62,1531.3 L187.37,1550.6 L188.12,1568.7 L188.87,1585.0 L189.62,1601.3 L190.38,1617.1 L191.13,1631.3 L191.88,1643.0 L192.63,1653.0 L193.38,1662.8 L194.14,1671.0 L194.89,1676.3 L195.64,1677.2 L196.39,1672.2 L197.14,1662.3 L197.89,1649.1 L198.65,1634.0 L199.40,1618.7 L200.15,1604.7 L200.90,1590.2 L201.65,1574.2 L202.41,1557.4 L203.16,1540.2 L203.91,1523.2 L204.66,1506.7 L205.41,1491.3 L206.17,1477.1 L206.92,1462.7 L207.67,1448.5 L208.42,1435.1 L209.17,1423.2 L209.92,1413.4 L210.68,1405.6 L211.43,1399.2 L212.18,1398.3 L212.93,1403.8 L213.68,1413.8 L214.44,1426.6 L215.19,1440.5 L215.94,1453.9 L216.69,1467.7 L217.44,1484.5 L218.20,1502.4 L218.95,1519.6 L219.70,1534.4 L220.45,1545.0 L221.20,1551.2 L221.95,1555.8 L222.71,1559.7 L223.46,1563.9 L224.21,1567.7 L224.96,1571.3 L225.71,1575.6 L226.47,1581.4 L227.22,1591.0 L227.97,1603.9 L228.72,1618.4 L229.47,1632.7 L230.23,1645.6 L230.98,1658.9 L231.73,1672.5 L232.48,1685.7 L233.23,1698.2 L233.98,1709.2 L234.74,1718.7 L235.49,1727.8 L236.24,1736.5 L236.99,1744.8 L237.74,1752.3 L238.50,1758.9 L239.25,1764.4 L240.00,1768.6 L240.75,1771.9 L241.50,1775.0 L242.26,1777.8 L243.01,1779.9 L243.76,1781.2 L244.51,1781.4 L245.26,1780.3 L246.02,1777.8 L246.77,1774.2 L247.52,1769.6 L248.27,1764.3 L249.02,1758.3 L249.77,1751.9 L250.53,1745.3 L251.28,1737.7 L252.03,1727.5 L252.78,1715.0 L253.53,1700.9 L254.29,1685.7 L255.04,1669.8 L255.79,1653.7 L256.54,1638.1 L257.29,1623.1 L258.05,1607.1 L258.80,1590.1 L259.55,1572.8 L260.30,1555.8 L261.05,1539.7 L261.80,1525.3 L262.56,1513.0 L263.31,1501.2 L264.06,1489.2 L264.81,1477.8 L265.56,1467.7 L266.32,1459.8 L267.07,1454.8 L267.82,1453.6 L268.57,1457.1 L269.32,1464.5 L270.08,1474.7 L270.83,1486.4 L271.58,1498.3 L272.33,1509.3 L273.08,1518.5 L273.83,1527.3 L274.59,1536.1 L275.34,1544.8 L276.09,1553.4 L276.84,1562.1 L277.59,1570.7 L278.35,1579.4 L279.10,1588.2 L279.85,1597.1 L280.60,1606.3 L281.35,1615.6 L282.11,1624.9 L282.86,1634.0 L283.61,1642.8 L284.36,1651.1 L285.11,1658.9 L285.86,1666.2 L286.62,1673.4 L287.37,1680.4 L288.12,1687.1 L288.87,1693.5 L289.62,1699.5 L290.38,1705.1 L291.13,1710.0 L291.88,1714.4 L292.63,1719.0 L293.38,1723.4 L294.14,1727.5 L294.89,1730.8 L295.64,1732.9 L296.39,1733.6 L297.14,1732.9 L297.89,1731.3 L298.65,1728.8 L299.40,1725.6 L300.15,1721.9 L300.90,1717.9 L301.65,1713.6 L302.41,1709.3 L303.16,1704.7 L303.91,1698.8 L304.66,1691.9 L305.41,1684.4 L306.17,1676.5 L306.92,1668.6 L307.67,1660.9 L308.42,1653.9 L309.17,1647.5 L309.92,1641.3 L310.68,1635.0 L311.43,1628.9 L312.18,1623.0 L312.93,1617.4 L313.68,1612.3 L314.44,1607.8 L315.19,1604.0 L315.94,1600.6 L316.69,1597.4 L317.44,1594.4 L318.20,1591.8 L318.95,1589.8 L319.70,1588.5 L320.45,1587.7 L321.20,1587.0 L321.95,1586.5 L322.71,1586.2 L323.46,1586.3 L324.21,1587.1 L324.96,1588.5 L325.71,1590.2 L326.47,1592.3 L327.22,1594.4 L327.97,1596.5 L328.72,1598.5 L329.47,1600.1 L330.23,1601.8 L330.98,1603.6 L331.73,1605.4 L332.48,1607.2 L333.23,1608.8 L333.98,1610.1 L334.74,1610.9 L335.49,1611.3 L336.24,1611.0 L336.99,1609.8 L337.74,1608.0 L338.50,1605.7 L339.25,1602.9 L340.00,1599.8 L340.75,1596.5 L341.50,1593.1 L342.26,1589.5 L343.01,1584.7 L343.76,1578.9 L344.51,1572.3 L345.26,1565.4 L346.02,1558.4 L346.77,1551.8 L347.52,1545.8 L348.27,1540.8 L349.02,1536.1 L349.77,1531.2 L350.53,1526.4 L351.28,1522.2 L352.03,1518.9 L352.78,1516.8 L353.53,1516.2 L354.29,1517.4 L355.04,1520.1 L355.79,1524.1 L356.54,1528.9 L357.29,1534.5 L358.05,1540.5 L358.80,1546.6 L359.55,1552.9 L360.30,1561.1 L361.05,1570.9 L361.80,1581.4 L362.56,1591.8 L363.31,1601.5 L364.06,1609.7 L364.81,1617.3 L365.56,1624.7 L366.32,1631.5 L367.07,1637.3 L367.82,1641.6 L368.57,1644.9 L369.32,1647.8 L370.08,1650.5 L370.83,1652.8 L371.58,1654.8 L372.33,1656.5 L373.08,1657.9 L373.83,1659.1 L374.59,1660.1 L375.34,1660.9 L376.09,1661.7 L376.84,1662.3 L377.59,1662.9 L378.35,1663.5 L379.10,1664.2 L379.85,1665.0 L380.60,1665.9 L381.35,1666.9 L382.11,1668.1 L382.86,1669.5 L383.61,1671.1 L384.36,1672.8 L385.11,1674.7 L385.86,1676.9 L386.62,1679.4 L387.37,1682.6 L388.12,1686.2 L388.87,1690.2 L389.62,1694.4 L390.38,1698.7 L391.13,1702.9 L391.88,1707.0 L392.63,1710.8 L393.38,1714.8 L394.14,1719.0 L394.89,1723.2 L395.64,1727.3 L396.39,1731.1 L397.14,1734.7 L397.89,1737.8 L398.65,1740.4 L399.40,1742.8 L400.15,1745.2 L400.90,1747.5 L401.65,1749.8 L402.41,1751.8 L403.16,1753.7 L403.91,1755.2 L404.66,1756.4 L405.41,1757.2 L406.17,1757.6 L406.92,1757.4 L407.67,1756.4 L408.42,1754.9 L409.17,1752.8 L409.92,1750.3 L410.68,1747.6 L411.43,1744.7 L412.18,1741.7 L412.93,1738.6 L413.68,1735.0 L414.44,1730.6 L415.19,1725.7 L415.94,1720.4 L416.69,1714.8 L417.44,1709.1 L418.20,1703.5 L418.95,1698.0 L419.70,1692.5 L420.45,1686.9 L421.20,1681.1 L421.95,1675.2 L422.71,1669.2 L423.46,1663.3 L424.21,1657.4 L424.96,1651.7 L425.71,1646.0 L426.47,1640.1 L427.22,1634.1 L427.97,1628.1 L428.72,1622.2 L429.47,1616.7 L430.23,1611.5 L430.98,1606.9 L431.73,1602.8 L432.48,1599.0 L433.23,1595.3 L433.98,1591.9 L434.74,1589.0 L435.49,1586.6 L436.24,1585.1 L436.99,1583.9 L437.74,1582.9 L438.50,1582.3 L439.25,1582.2 L440.00,1582.5 L440.75,1583.0 L441.50,1583.8 L442.26,1584.7 L443.01,1585.7 L443.76,1586.8 L444.51,1587.8 L445.26,1588.8 L446.02,1589.7 L446.77,1590.4 L447.52,1590.9 L448.27,1591.2 L449.02,1591.1 L449.77,1590.7 L450.53,1590.0 L451.28,1589.2 L452.03,1588.3 L452.78,1587.3 L453.53,1586.5 L454.29,1585.7 L455.04,1585.2 L455.79,1585.0 L456.54,1585.7 L457.29,1587.8 L458.05,1591.0 L458.80,1594.8 L459.55,1598.9 L460.30,1602.9 L461.05,1606.3 L461.80,1609.5 L462.56,1613.1 L463.31,1616.9 L464.06,1620.6 L464.81,1624.0 L465.56,1627.0 L466.32,1629.1 L467.07,1630.3 L467.82,1630.3 L468.57,1629.0 L469.32,1626.4 L470.08,1623.0 L470.83,1618.8 L471.58,1614.1 L472.33,1609.1 L473.08,1603.8 L473.83,1596.4 L474.59,1587.4 L475.34,1577.5 L476.09,1567.1 L476.84,1557.1 L477.59,1547.8 L478.35,1538.9 L479.10,1530.0 L479.85,1520.6 L480.60,1510.3 L481.35,1498.5 L482.11,1484.9 L482.86,1465.3 L483.61,1442.0 L484.36,1421.4 L485.11,1405.8 L485.86,1391.6 L486.62,1376.2 L487.37,1357.1 L488.12,1335.3 L488.87,1313.6 L489.62,1293.6 L490.38,1274.1 L491.13,1255.4 L491.88,1237.0 L492.63,1217.9 L493.38,1201.6 L494.14,1191.1 L494.89,1182.3 L495.64,1176.1 L496.39,1174.4 L497.14,1177.3 L497.89,1183.3 L498.65,1191.0 L499.40,1199.3 L500.15,1210.4 L500.90,1224.2 L501.65,1239.8 L502.41,1257.3 L503.16,1278.8 L503.91,1301.2 L504.66,1321.3 L505.41,1340.3 L506.17,1359.1 L506.92,1378.7 L507.67,1399.0 L508.42,1419.6 L509.17,1439.9 L509.92,1460.2 L510.68,1480.1 L511.43,1499.0 L512.18,1516.7 L512.93,1533.8 L513.68,1550.1 L514.44,1565.9 L515.19,1581.1 L515.94,1595.9 L516.69,1610.2 L517.44,1624.2 L518.20,1637.6 L518.95,1650.5 L519.70,1663.1 L520.45,1675.7 L521.20,1688.2 L521.95,1700.2 L522.71,1711.5 L523.46,1721.7 L524.21,1730.5 L524.96,1738.1 L525.71,1745.2 L526.47,1751.9 L527.22,1758.0 L527.97,1763.7 L528.72,1769.0 L529.47,1773.7 L530.23,1777.9 L530.98,1781.7 L531.73,1785.2 L532.48,1788.7 L533.23,1791.9 L533.98,1794.9 L534.74,1797.5 L535.49,1799.8 L536.24,1801.6 L536.99,1802.9 L537.74,1803.9 L538.50,1804.7 L539.25,1805.6 L540.00,1806.3 L540.75,1807.0 L541.50,1807.6 L542.26,1808.1 L543.01,1808.5 L543.76,1808.9 L544.51,1809.2 L545.26,1809.4 L546.02,1809.6 L546.77,1809.8 L547.52,1809.9 L548.27,1810.1 L549.02,1810.2 L549.77,1810.3 L550.53,1810.4 L551.28,1810.5 L552.03,1810.5 L552.78,1810.6 L553.53,1810.6 L554.29,1810.6 L555.04,1810.5 L555.79,1810.4 L556.54,1810.2 L557.29,1810.0 L558.05,1809.7 L558.80,1809.3 L559.55,1808.9 L560.30,1808.5 L561.05,1808.1 L561.80,1807.6 L562.56,1807.1 L563.31,1806.6 L564.06,1806.1 L564.81,1805.6 L565.56,1805.0 L566.32,1804.3 L567.07,1803.6 L567.82,1802.7 L568.57,1801.8 L569.32,1800.8 L570.08,1799.7 L570.83,1798.5 L571.58,1797.2 L572.33,1795.8 L573.08,1794.3 L573.83,1792.5 L574.59,1790.3 L575.34,1787.8 L576.09,1784.9 L576.84,1781.7 L577.59,1778.1 L578.35,1774.3 L579.10,1770.2 L579.85,1765.5 L580.60,1759.8 L581.35,1753.2 L582.11,1745.8 L582.86,1737.7 L583.61,1729.0 L584.36,1719.9 L585.11,1709.9 L585.86,1698.4 L586.62,1685.6 L587.37,1672.1 L588.12,1658.3 L588.87,1644.4 L589.62,1629.7 L590.38,1614.3 L591.13,1599.0 L591.88,1584.0 L592.63,1568.9 L593.38,1553.9 L594.14,1540.0 L594.89,1527.6 L595.64,1515.7 L596.39,1505.1 L597.14,1497.0 L597.89,1490.6 L598.65,1484.7 L599.40,1480.4 L600.15,1478.8 L600.90,1480.0 L601.65,1483.0 L602.41,1487.2 L603.16,1491.6 L603.91,1495.6 L604.66,1500.3 L605.41,1505.4 L606.17,1510.3 L606.92,1514.7 L607.67,1517.9 L608.42,1521.0 L609.17,1523.9 L609.92,1526.5 L610.68,1528.7 L611.43,1530.1 L612.18,1530.6 L612.93,1530.3 L613.68,1529.5 L614.44,1528.4 L615.19,1527.2 L615.94,1525.8 L616.69,1524.6 L617.44,1523.5 L618.20,1522.1 L618.95,1520.7 L619.70,1519.7 L620.45,1519.2 L621.20,1519.4 L621.95,1520.0 L622.71,1521.0 L623.46,1522.2 L624.21,1523.7 L624.96,1525.6 L625.71,1528.8 L626.47,1533.1 L627.22,1537.9 L627.97,1542.7 L628.72,1547.1 L629.47,1551.4 L630.23,1555.8 L630.98,1560.5 L631.73,1565.7 L632.48,1571.6 L633.23,1578.2 L633.98,1585.5 L634.74,1593.3 L635.49,1601.5 L636.24,1609.9 L636.99,1618.5 L637.74,1627.3 L638.50,1636.6 L639.25,1646.4 L640.00,1656.5 L640.75,1666.7 L641.50,1676.9 L642.26,1686.9 L643.01,1696.7 L643.76,1706.5 L644.51,1716.4 L645.26,1726.3 L646.02,1736.0 L646.77,1745.4 L647.52,1754.6 L648.27,1763.4 L649.02,1772.1 L649.77,1780.8 L650.53,1789.2 L651.28,1797.3 L652.03,1804.8 L652.78,1811.7 L653.53,1817.8 L654.29,1823.7 L655.04,1829.1 L655.79,1834.3 L656.54,1839.3 L657.29,1843.9 L658.05,1848.4 L658.80,1852.7 L659.55,1856.8 L660.30,1860.8 L661.05,1864.5 L661.80,1868.1 L662.56,1871.6 L663.31,1875.0 L664.06,1878.2 L664.81,1881.3 L665.56,1884.4 L666.32,1887.4 L667.07,1890.3 L667.82,1893.2 L668.57,1896.0 L669.32,1898.7 L670.08,1901.3 L670.83,1903.9 L671.58,1906.5 L672.33,1909.0 L673.08,1911.4 L673.83,1913.8 L674.59,1916.2 L675.34,1918.5 L676.09,1920.8 L676.84,1923.1 L677.59,1925.4 L678.35,1927.6 L679.10,1929.8 L679.85,1931.9 L680.60,1934.0 L681.35,1936.0 L682.11,1938.0 L682.86,1940.0 L683.61,1941.8 L684.36,1943.6 L685.11,1945.4 L685.86,1947.0 L686.62,1948.7 L687.37,1950.3 L688.12,1951.8 L688.87,1953.3 L689.62,1954.8 L690.38,1956.2 L691.13,1957.7 L691.88,1959.0 L692.63,1960.4 L693.38,1961.8 L694.14,1963.1 L694.89,1964.4 L695.64,1965.8 L696.39,1967.1 L697.14,1968.4 L697.89,1969.7 L698.65,1971.0 L699.40,1972.2 L700.15,1973.4 L700.90,1974.6 L701.65,1975.8 L702.41,1976.9 L703.16,1978.0 L703.91,1979.0 L704.66,1980.0 L705.41,1980.9 L706.17,1981.8 L706.92,1982.7 L707.67,1983.5 L708.42,1984.4 L709.17,1985.2 L709.92,1985.9 L710.68,1986.7 L711.43,1987.4 L712.18,1988.2 L712.93,1988.9 L713.68,1989.6 L714.44,1990.2 L715.19,1990.9 L715.94,1991.6 L716.69,1992.2 L717.44,1992.8 L718.20,1993.4 L718.95,1994.0 L719.70,1994.6 L720.45,1995.2 L721.20,1995.7 L721.95,1996.3 L722.71,1996.8 L723.46,1997.3 L724.21,1997.8 L724.96,1998.3 L725.71,1998.8 L726.47,1999.2 L727.22,1999.7 L727.97,2000.1 L728.72,2000.6 L729.47,2001.0 L730.23,2001.4 L730.98,2001.8 L731.73,2002.2 L732.48,2002.6 L733.23,2002.9 L733.98,2003.3 L734.74,2003.6 L735.49,2004.0 L736.24,2004.3 L736.99,2004.6 L737.74,2004.9 L738.50,2005.3 L739.25,2005.6 L740.00,2005.9 L740.75,2006.2 L741.50,2006.5 L742.26,2006.8 L743.01,2007.0 L743.76,2007.3 L744.51,2007.6 L745.26,2007.9 L746.02,2008.1 L746.77,2008.4 L747.52,2008.7 L748.27,2008.9 L749.02,2009.2 L749.77,2009.4 L750.53,2009.6 L751.28,2009.9 L752.03,2010.1 L752.78,2010.3 L753.53,2010.6 L754.29,2010.8 L755.04,2011.0 L755.79,2011.2 L756.54,2011.4 L757.29,2011.6 L758.05,2011.8 L758.80,2012.0 L759.55,2012.2 L760.30,2012.4 L761.05,2012.5 L761.80,2012.7 L762.56,2012.9 L763.31,2013.1 L764.06,2013.3 L764.81,2013.5 L765.56,2013.6 L766.32,2013.8 L767.07,2014.0 L767.82,2014.2 L768.57,2014.4 L769.32,2014.6 L770.08,2014.8 L770.83,2015.0 L771.58,2015.2 L772.33,2015.4 L773.08,2015.6 L773.83,2015.8 L774.59,2016.0 L775.34,2016.2 L776.09,2016.4 L776.84,2016.6 L777.59,2016.7 L778.35,2016.9 L779.10,2017.1 L779.85,2017.3 L780.60,2017.5 L781.35,2017.7 L782.11,2017.9 L782.86,2018.2 L783.61,2018.4 L784.36,2018.6 L785.11,2018.8 L785.86,2019.0 L786.62,2019.3 L787.37,2019.5 L788.12,2019.7 L788.87,2020.0 L789.62,2020.3 L790.38,2020.5 L791.13,2020.8 L791.88,2021.1 L792.63,2021.3 L793.38,2021.6 L794.14,2021.9 L794.89,2022.2 L795.64,2022.5 L796.39,2022.8 L797.14,2023.1 L797.89,2023.4 L798.65,2023.7 L799.40,2024.0 L800.15,2024.3 L800.90,2024.7 L801.65,2025.0 L802.41,2025.3 L803.16,2025.6 L803.91,2026.0 L804.66,2026.3 L805.41,2026.6 L806.17,2027.0 L806.92,2027.3 L807.67,2027.6 L808.42,2028.0 L809.17,2028.3 L809.92,2028.7 L810.68,2029.0 L811.43,2029.3 L812.18,2029.7 L812.93,2030.1 L813.68,2030.4 L814.44,2030.8 L815.19,2031.1 L815.94,2031.5 L816.69,2031.9 L817.44,2032.3 L818.20,2032.6 L818.95,2033.0 L819.70,2033.4 L820.45,2033.8 L821.20,2034.2 L821.95,2034.6 L822.71,2035.0 L823.46,2035.5 L824.21,2035.9 L824.96,2036.3 L825.71,2036.8 L826.47,2037.2 L827.22,2037.6 L827.97,2038.1 L828.72,2038.6 L829.47,2039.0 L830.23,2039.5 L830.98,2040.0 L831.73,2040.5 L832.48,2041.0 L833.23,2041.5 L833.98,2042.0 L834.74,2042.5 L835.49,2043.0 L836.24,2043.5 L836.99,2044.0 L837.74,2044.5 L838.50,2045.0 L839.25,2045.5 L840.00,2046.1 L840.75,2046.6 L841.50,2047.1 L842.26,2047.6 L843.01,2048.2 L843.76,2048.7 L844.51,2049.2 L845.26,2049.8 L846.02,2050.3 L846.77,2050.8 L847.52,2051.4 L848.27,2051.9 L849.02,2052.4 L849.77,2053.0 L850.53,2053.5 L851.28,2054.0 L852.03,2054.6 L852.78,2055.1 L853.53,2055.6 L854.29,2056.2 L855.04,2056.7 L855.79,2057.2 L856.54,2057.7 L857.29,2058.2 L858.05,2058.7 L858.80,2059.2 L859.55,2059.8 L860.30,2060.3 L861.05,2060.8 L861.80,2061.3 L862.56,2061.8 L863.31,2062.3 L864.06,2062.8 L864.81,2063.3 L865.56,2063.8 L866.32,2064.3 L867.07,2064.8 L867.82,2065.3 L868.57,2065.8 L869.32,2066.3 L870.08,2066.9 L870.83,2067.4 L871.58,2067.9 L872.33,2068.4 L873.08,2068.9 L873.83,2069.4 L874.59,2069.9 L875.34,2070.4 L876.09,2070.9 L876.84,2071.4 L877.59,2071.9 L878.35,2072.4 L879.10,2072.9 L879.85,2073.4 L880.60,2073.9 L881.35,2074.5 L882.11,2075.0 L882.86,2075.5 L883.61,2076.0 L884.36,2076.4 L885.11,2076.9 L885.86,2077.4 L886.62,2077.9 L887.37,2078.4 L888.12,2078.9 L888.87,2079.4 L889.62,2079.9 L890.38,2080.4 L891.13,2080.9 L891.88,2081.3 L892.63,2081.8 L893.38,2082.3 L894.14,2082.8 L894.89,2083.3 L895.64,2083.7 L896.39,2084.2 L897.14,2084.7 L897.89,2085.1 L898.65,2085.6 L899.40,2086.1 L900.15,2086.6 L900.90,2087.0 L901.65,2087.5 L902.41,2088.0 L903.16,2088.4 L903.91,2088.9 L904.66,2089.4 L905.41,2089.8 L906.17,2090.3 L906.92,2090.7 L907.67,2091.2 L908.42,2091.7 L909.17,2092.1 L909.92,2092.6 L910.68,2093.0 L911.43,2093.5 L912.18,2093.9 L912.93,2094.4 L913.68,2094.8 L914.44,2095.3 L915.19,2095.7 L915.94,2096.2 L916.69,2096.6 L917.44,2097.1 L918.20,2097.5 L918.95,2098.0 L919.70,2098.4 L920.45,2098.8 L921.20,2099.3 L921.95,2099.7 L922.71,2100.2 L923.46,2100.6 L924.21,2101.0 L924.96,2101.4 L925.71,2101.9 L926.47,2102.3 L927.22,2102.7 L927.97,2103.1 L928.72,2103.6 L929.47,2104.0 L930.23,2104.4 L930.98,2104.8 L931.73,2105.2 L932.48,2105.6 L933.23,2106.0 L933.98,2106.5 L934.74,2106.9 L935.49,2107.3 L936.24,2107.7 L936.99,2108.1 L937.74,2108.5 L938.50,2108.9 L939.25,2109.4 L940.00,2109.8 L940.75,2110.2 L941.50,2110.6 L942.26,2111.0 L943.01,2111.4 L943.76,2111.8 L944.51,2112.2 L945.26,2112.6 L946.02,2113.0 L946.77,2113.4 L947.52,2113.8 L948.27,2114.2 L949.02,2114.6 L949.77,2115.0 L950.53,2115.4 L951.28,2115.8 L952.03,2116.2 L952.78,2116.6 L953.53,2116.9 L954.29,2117.3 L955.04,2117.7 L955.79,2118.1 L956.54,2118.4 L957.29,2118.8 L958.05,2119.1 L958.80,2119.5 L959.55,2119.8 L960.30,2120.2 L961.05,2120.5 L961.80,2120.8 L962.56,2121.2 L963.31,2121.5 L964.06,2121.8 L964.81,2122.1 L965.56,2122.4 L966.32,2122.7 L967.07,2123.0 L967.82,2123.3 L968.57,2123.6 L969.32,2123.9 L970.08,2124.2 L970.83,2124.5 L971.58,2124.8 L972.33,2125.1 L973.08,2125.3 L973.83,2125.6 L974.59,2125.9 L975.34,2126.2 L976.09,2126.5 L976.84,2126.7 L977.59,2127.0 L978.35,2127.3 L979.10,2127.6 L979.85,2127.8 L980.60,2128.1 L981.35,2128.4 L982.11,2128.6 L982.86,2128.9 L983.61,2129.2 L984.36,2129.4 L985.11,2129.7 L985.86,2129.9 L986.62,2130.1 L987.37,2130.4 L988.12,2130.6 L988.87,2130.9 L989.62,2131.1 L990.38,2131.3 L991.13,2131.5 L991.88,2131.7 L992.63,2132.0 L993.38,2132.2 L994.14,2132.4 L994.89,2132.6 L995.64,2132.8 L996.39,2132.9 L997.14,2133.1 L997.89,2133.3 L998.65,2133.5 L999.40,2133.7 L1000.15,2133.8 L1000.90,2134.0 L1001.65,2134.1 L1002.41,2134.3 L1003.16,2134.4 L1003.91,2134.6 L1004.66,2134.7 L1005.41,2134.8 L1006.17,2135.0 L1006.92,2135.1 L1007.67,2135.3 L1008.42,2135.4 L1009.17,2135.5 L1009.92,2135.7 L1010.68,2135.8 L1011.43,2135.9 L1012.18,2136.1 L1012.93,2136.2 L1013.68,2136.3 L1014.44,2136.4 L1015.19,2136.6 L1015.94,2136.7 L1016.69,2136.8 L1017.44,2136.9 L1018.20,2137.1 L1018.95,2137.2 L1019.70,2137.3 L1020.45,2137.4 L1021.20,2137.5 L1021.95,2137.6 L1022.71,2137.7 L1023.46,2137.8 L1024.21,2137.9 L1024.96,2138.0 L1025.71,2138.1 L1026.47,2138.2 L1027.22,2138.3 L1027.97,2138.3 L1028.72,2138.4 L1029.47,2138.5 L1030.23,2138.6 L1030.98,2138.6 L1031.73,2138.7 L1032.48,2138.8 L1033.23,2138.8 L1033.98,2138.9 L1034.74,2138.9 L1035.49,2139.0 L1036.24,2139.0 L1036.99,2139.0 L1037.74,2139.1 L1038.50,2139.1 L1039.25,2139.1 L1040.00,2139.2 L1040.75,2139.2 L1041.50,2139.2 L1042.26,2139.2 L1043.01,2139.2 L1043.76,2139.3 L1044.51,2139.3 L1045.26,2139.3 L1046.02,2139.3 L1046.77,2139.3 L1047.52,2139.4 L1048.27,2139.4 L1049.02,2139.4 L1049.77,2139.4 L1050.53,2139.4 L1051.28,2139.4 L1052.03,2139.4 L1052.78,2139.5 L1053.53,2139.5 L1054.29,2139.5 L1055.04,2139.5 L1055.79,2139.5 L1056.54,2139.5 L1057.29,2139.5 L1058.05,2139.5 L1058.80,2139.6 L1059.55,2139.6 L1060.30,2139.6 L1061.05,2139.6 L1061.80,2139.6 L1062.56,2139.6 L1063.31,2139.6 L1064.06,2139.6 L1064.81,2139.6 L1065.56,2139.7 L1066.32,2139.7 L1067.07,2139.7 L1067.82,2139.7 L1068.57,2139.7 L1069.32,2139.7 L1070.08,2139.7 L1070.83,2139.7 L1071.58,2139.8 L1072.33,2139.8 L1073.08,2139.8 L1073.83,2139.8 L1074.59,2139.8 L1075.34,2139.8 L1076.09,2139.8 L1076.84,2139.8 L1077.59,2139.9 L1078.35,2139.9 L1079.10,2139.9 L1079.85,2139.9 L1080.60,2139.9 L1081.35,2139.9 L1082.11,2139.9 L1082.86,2139.9 L1083.61,2140.0 L1084.36,2140.0 L1085.11,2140.0 L1085.86,2140.0 L1086.62,2140.0 L1087.37,2140.0 L1088.12,2140.0 L1088.87,2140.0 L1089.62,2140.0 L1090.38,2140.1 L1091.13,2140.1 L1091.88,2140.1 L1092.63,2140.1 L1093.38,2140.1 L1094.14,2140.1 L1094.89,2140.1 L1095.64,2140.1 L1096.39,2140.2 L1097.14,2140.2 L1097.89,2140.2 L1098.65,2140.2 L1099.40,2140.2 L1100.15,2140.2 L1100.90,2140.2 L1101.65,2140.3 L1102.41,2140.3 L1103.16,2140.3 L1103.91,2140.3 L1104.66,2140.3 L1105.41,2140.4 L1106.17,2140.4 L1106.92,2140.4 L1107.67,2140.4 L1108.42,2140.4 L1109.17,2140.5 L1109.92,2140.5 L1110.68,2140.5 L1111.43,2140.6 L1112.18,2140.6 L1112.93,2140.6 L1113.68,2140.7 L1114.44,2140.7 L1115.19,2140.8 L1115.94,2140.8 L1116.69,2140.9 L1117.44,2140.9 L1118.20,2141.0 L1118.95,2141.1 L1119.70,2141.1 L1120.45,2141.2 L1121.20,2141.3 L1121.95,2141.4 L1122.71,2141.4 L1123.46,2141.5 L1124.21,2141.6 L1124.96,2141.7 L1125.71,2141.8 L1126.47,2141.9 L1127.22,2142.0 L1127.97,2142.0 L1128.72,2142.1 L1129.47,2142.2 L1130.23,2142.3 L1130.98,2142.4 L1131.73,2142.5 L1132.48,2142.6 L1133.23,2142.7 L1133.98,2142.8 L1134.74,2142.9 L1135.49,2143.0 L1136.24,2143.0 L1136.99,2143.1 L1137.74,2143.2 L1138.50,2143.3 L1139.25,2143.4 L1140.00,2143.5 L1140.75,2143.6 L1141.50,2143.7 L1142.26,2143.8 L1143.01,2143.9 L1143.76,2144.1 L1144.51,2144.2 L1145.26,2144.3 L1146.02,2144.4 L1146.77,2144.5 L1147.52,2144.6 L1148.27,2144.7 L1149.02,2144.9 L1149.77,2145.0 L1150.53,2145.1 L1151.28,2145.2 L1152.03,2145.4 L1152.78,2145.5 L1153.53,2145.6 L1154.29,2145.8 L1155.04,2145.9 L1155.79,2146.1 L1156.54,2146.2 L1157.29,2146.3 L1158.05,2146.5 L1158.80,2146.6 L1159.55,2146.8 L1160.30,2147.0 L1161.05,2147.1 L1161.80,2147.3 L1162.56,2147.4 L1163.31,2147.6 L1164.06,2147.8 L1164.81,2148.0 L1165.56,2148.2 L1166.32,2148.4 L1167.07,2148.6 L1167.82,2148.8 L1168.57,2149.0 L1169.32,2149.2 L1170.08,2149.4 L1170.83,2149.7 L1171.58,2149.9 L1172.33,2150.2 L1173.08,2150.4 L1173.83,2150.7 L1174.59,2151.0 L1175.34,2151.2 L1176.09,2151.5 L1176.84,2151.8 L1177.59,2152.1 L1178.35,2152.4 L1179.10,2152.7 L1179.85,2153.0 L1180.60,2153.3 L1181.35,2153.6 L1182.11,2153.9 L1182.86,2154.2 L1183.61,2154.5 L1184.36,2154.8 L1185.11,2155.1 L1185.86,2155.4 L1186.62,2155.7 L1187.37,2156.1 L1188.12,2156.4 L1188.87,2156.7 L1189.62,2157.0 L1190.38,2157.3 L1191.13,2157.6 L1191.88,2157.9 L1192.63,2158.2 L1193.38,2158.6 L1194.14,2158.9 L1194.89,2159.2 L1195.64,2159.5 L1196.39,2159.8 L1197.14,2160.1 L1197.89,2160.4 L1198.65,2160.7 L1199.40,2160.9 L1200.15,2161.2 L1200.90,2161.5 L1201.65,2161.8 L1202.41,2162.1 L1203.16,2162.4 L1203.91,2162.7 L1204.66,2163.0 L1205.41,2163.3 L1206.17,2163.5 L1206.92,2163.8 L1207.67,2164.1 L1208.42,2164.4 L1209.17,2164.7 L1209.92,2165.0 L1210.68,2165.3 L1211.43,2165.6 L1212.18,2165.9 L1212.93,2166.2 L1213.68,2166.5 L1214.44,2166.8 L1215.19,2167.1 L1215.94,2167.4 L1216.69,2167.7 L1217.44,2168.0 L1218.20,2168.3 L1218.95,2168.6 L1219.70,2168.9 L1220.45,2169.2 L1221.20,2169.5 L1221.95,2169.8 L1222.71,2170.1 L1223.46,2170.4 L1224.21,2170.7 L1224.96,2170.9 L1225.71,2171.2 L1226.47,2171.5 L1227.22,2171.8 L1227.97,2172.1 L1228.72,2172.4 L1229.47,2172.7 L1230.23,2172.9 L1230.98,2173.2 L1231.73,2173.5 L1232.48,2173.8 L1233.23,2174.0 L1233.98,2174.3 L1234.74,2174.6 L1235.49,2174.9 L1236.24,2175.1 L1236.99,2175.4 L1237.74,2175.7 L1238.50,2175.9 L1239.25,2176.2 L1240.00,2176.4 L1240.75,2176.7 L1241.50,2177.0 L1242.26,2177.2 L1243.01,2177.5 L1243.76,2177.8 L1244.51,2178.0 L1245.26,2178.3 L1246.02,2178.5 L1246.77,2178.8 L1247.52,2179.0 L1248.27,2179.3 L1249.02,2179.6 L1249.77,2179.8 L1250.53,2180.1 L1251.28,2180.3 L1252.03,2180.6 L1252.78,2180.8 L1253.53,2181.1 L1254.29,2181.3 L1255.04,2181.6 L1255.79,2181.8 L1256.54,2182.1 L1257.29,2182.3 L1258.05,2182.6 L1258.80,2182.8 L1259.55,2183.1 L1260.30,2183.3 L1261.05,2183.5 L1261.80,2183.8 L1262.56,2184.0 L1263.31,2184.3 L1264.06,2184.5 L1264.81,2184.7 L1265.56,2185.0 L1266.32,2185.2 L1267.07,2185.5 L1267.82,2185.7 L1268.57,2185.9 L1269.32,2186.2 L1270.08,2186.4 L1270.83,2186.6 L1271.58,2186.9 L1272.33,2187.1 L1273.08,2187.3 L1273.83,2187.5 L1274.59,2187.8 L1275.34,2188.0 L1276.09,2188.2 L1276.84,2188.5 L1277.59,2188.7 L1278.35,2188.9" fill="none" stroke="#f00" stroke-width="2.6" stroke-linejoin="round"/></g>
<g font-family="'Liberation Serif', 'Times New Roman', serif" font-weight="bold" fill="#000">
<g font-size="78.5" text-anchor="middle" letter-spacing="-0.5">
<text x="355.5" y="2345">200</text>
<text x="547.7" y="2345">300</text>
<text x="739.9" y="2345">400</text>
<text x="932.1" y="2345">500</text>
<text x="1124.2" y="2345">600</text>
<text x="1316.4" y="2345">700</text>
<text x="1508.6" y="2345">800</text>
<text x="1700.8" y="2345">900</text>
</g>
<text x="569" y="2501" font-size="84.8" letter-spacing="-0.66">Wavenumbers, cm</text>
<text x="1230.9" y="2454.9" font-size="51">-1</text>
<text transform="translate(63,1430.1) rotate(-90)" font-size="78.4" letter-spacing="0.22">Raman intensity</text>
<text x="1155.0" y="239.4" font-size="94" letter-spacing="-2.70">BaNd</text>
<text x="1374.2" y="270.8" font-size="56.3">2</text>
<text x="1400.0" y="239.4" font-size="94" letter-spacing="-0.9">In</text>
<text x="1485.2" y="270.8" font-size="56.3">2</text>
<text x="1513.5" y="239.4" font-size="94">O</text>
<text x="1581.5" y="271.6" font-size="56.3">7</text>
<text x="1205.0" y="1271.4" font-size="94" letter-spacing="-2.47">BaLa</text>
<text x="1414.9" y="1302.8" font-size="56.3">2</text>
<text x="1440.7" y="1271.4" font-size="94" letter-spacing="-0.9">In</text>
<text x="1525.9" y="1302.8" font-size="56.3">2</text>
<text x="1554.2" y="1271.4" font-size="94">O</text>
<text x="1622.2" y="1303.6" font-size="56.3">7</text>
<text x="1507.7" y="597.6" font-size="78.5">(2)</text>
<text x="1498" y="1785.7" font-size="78.5">(1)</text>
<g font-size="78.5" text-anchor="middle">
<text x="200.2" y="109.0">1</text>
<text x="233.7" y="261.7">2</text>
<text x="283.7" y="131.5">3</text>
<text x="337.2" y="315.5">4</text>
<text x="456.6" y="355.4">6</text>
<text x="576.7" y="347.2">8</text>
<text x="679.6" y="337.6">10</text>
<text x="849.9" y="524.1">11</text>
<text x="1255.4" y="902.8">13</text>
<text x="233.6" y="1176.8">1</text>
<text x="244.5" y="1376.3">2</text>
<text x="290.0" y="1376.3">3</text>
<text x="360.0" y="1438.8">4</text>
<text x="427.8" y="1571.8">5</text>
<text x="471.1" y="1500.2">6</text>
<text x="509.7" y="1650.0">7</text>
<text x="564.5" y="1569.0">8</text>
<text x="611.3" y="1569.0">9</text>
<text x="668.0" y="1168.0">10</text>
<text x="795.8" y="1435.9">11</text>
<text x="859.6" y="1507.9">12</text>
<text x="1042.5" y="1989.6">13</text>
<text x="1508.2" y="2103.9">14</text>
</g>
</g>
</svg>
</body></html>
